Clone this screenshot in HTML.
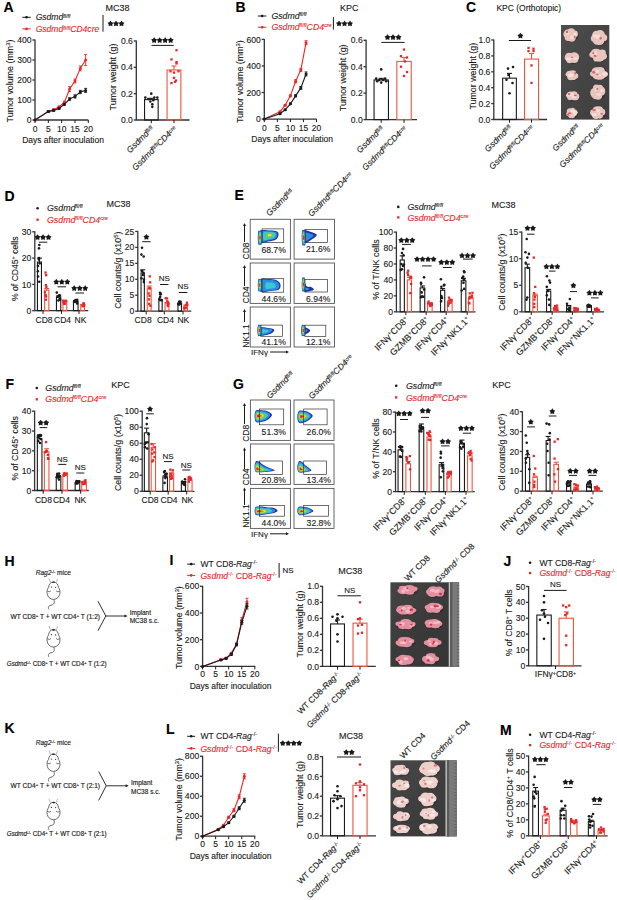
<!DOCTYPE html>
<html><head><meta charset="utf-8"><style>
html,body{margin:0;padding:0;background:#fff;width:617px;height:900px;overflow:hidden}
svg{display:block}
text{font-family:"Liberation Sans", sans-serif;stroke:currentColor;stroke-width:0.12px}
</style></head><body>
<svg width="617" height="900" viewBox="0 0 617 900">
<rect width="617" height="900" fill="#fff"/>
<text x="3.50" y="12.22" font-size="14" font-weight="bold" fill="#000">A</text>
<line x1="22.30" y1="17.30" x2="30.70" y2="17.30" stroke="#1a1a1a" stroke-width="1"/>
<circle cx="26.50" cy="17.30" r="1.3" fill="#1a1a1a"/>
<text transform="translate(35.70,20.38) scale(1,1.0)" x="0" y="0" font-size="8.55" text-anchor="start" fill="#1a1a1a" color="#1a1a1a" font-weight="normal" font-style="normal" ><tspan font-style="italic">Gsdmd</tspan><tspan font-size="64%" baseline-shift="44%"><tspan font-style="italic">fl/fl</tspan></tspan></text>
<line x1="22.30" y1="28.90" x2="30.70" y2="28.90" stroke="#e8262b" stroke-width="1"/>
<circle cx="26.50" cy="28.90" r="1.3" fill="#e8262b"/>
<text transform="translate(35.70,31.98) scale(1,1.0)" x="0" y="0" font-size="8.55" text-anchor="start" fill="#e8262b" color="#e8262b" font-weight="normal" font-style="normal" ><tspan font-style="italic">Gsdmd</tspan><tspan font-size="64%" baseline-shift="44%"><tspan font-style="italic">fl/fl</tspan></tspan><tspan font-style="italic">CD4cre</tspan></text>
<line x1="103.00" y1="15.00" x2="103.00" y2="31.70" stroke="#1a1a1a" stroke-width="1"/>
<polygon points="110.50,20.55 111.61,22.17 113.50,22.73 112.30,24.28 112.35,26.25 110.50,25.59 108.65,26.25 108.70,24.28 107.50,22.73 109.39,22.17" fill="#1a1a1a"/>
<polygon points="116.00,20.55 117.11,22.17 119.00,22.73 117.80,24.28 117.85,26.25 116.00,25.59 114.15,26.25 114.20,24.28 113.00,22.73 114.89,22.17" fill="#1a1a1a"/>
<polygon points="121.50,20.55 122.61,22.17 124.50,22.73 123.30,24.28 123.35,26.25 121.50,25.59 119.65,26.25 119.70,24.28 118.50,22.73 120.39,22.17" fill="#1a1a1a"/>
<text transform="translate(105.50,10.74) scale(1,1.0)" x="0" y="0" font-size="9" text-anchor="start" fill="#1a1a1a" color="#1a1a1a" font-weight="normal" font-style="normal" >MC38</text>
<line x1="35.00" y1="39.50" x2="35.00" y2="120.00" stroke="#333" stroke-width="1.3"/>
<line x1="34.50" y1="120.00" x2="88.30" y2="120.00" stroke="#333" stroke-width="1.3"/>
<line x1="32.40" y1="120.00" x2="35.00" y2="120.00" stroke="#333" stroke-width="1.3"/>
<text transform="translate(31.60,123.10) scale(1,1.0)" x="0" y="0" font-size="8.6" text-anchor="end" fill="#1a1a1a" color="#1a1a1a" font-weight="normal" font-style="normal" >0</text>
<line x1="32.40" y1="100.00" x2="35.00" y2="100.00" stroke="#333" stroke-width="1.3"/>
<text transform="translate(31.60,103.10) scale(1,1.0)" x="0" y="0" font-size="8.6" text-anchor="end" fill="#1a1a1a" color="#1a1a1a" font-weight="normal" font-style="normal" >100</text>
<line x1="32.40" y1="80.00" x2="35.00" y2="80.00" stroke="#333" stroke-width="1.3"/>
<text transform="translate(31.60,83.10) scale(1,1.0)" x="0" y="0" font-size="8.6" text-anchor="end" fill="#1a1a1a" color="#1a1a1a" font-weight="normal" font-style="normal" >200</text>
<line x1="32.40" y1="60.00" x2="35.00" y2="60.00" stroke="#333" stroke-width="1.3"/>
<text transform="translate(31.60,63.10) scale(1,1.0)" x="0" y="0" font-size="8.6" text-anchor="end" fill="#1a1a1a" color="#1a1a1a" font-weight="normal" font-style="normal" >300</text>
<line x1="32.40" y1="40.00" x2="35.00" y2="40.00" stroke="#333" stroke-width="1.3"/>
<text transform="translate(31.60,43.10) scale(1,1.0)" x="0" y="0" font-size="8.6" text-anchor="end" fill="#1a1a1a" color="#1a1a1a" font-weight="normal" font-style="normal" >400</text>
<line x1="35.00" y1="120.00" x2="35.00" y2="123.00" stroke="#1a1a1a" stroke-width="1"/>
<text transform="translate(35.00,132.06) scale(1,1.0)" x="0" y="0" font-size="8.5" text-anchor="middle" fill="#1a1a1a" color="#1a1a1a" font-weight="normal" font-style="normal" >0</text>
<line x1="48.33" y1="120.00" x2="48.33" y2="123.00" stroke="#1a1a1a" stroke-width="1"/>
<text transform="translate(48.33,132.06) scale(1,1.0)" x="0" y="0" font-size="8.5" text-anchor="middle" fill="#1a1a1a" color="#1a1a1a" font-weight="normal" font-style="normal" >5</text>
<line x1="61.65" y1="120.00" x2="61.65" y2="123.00" stroke="#1a1a1a" stroke-width="1"/>
<text transform="translate(61.65,132.06) scale(1,1.0)" x="0" y="0" font-size="8.5" text-anchor="middle" fill="#1a1a1a" color="#1a1a1a" font-weight="normal" font-style="normal" >10</text>
<line x1="74.97" y1="120.00" x2="74.97" y2="123.00" stroke="#1a1a1a" stroke-width="1"/>
<text transform="translate(74.97,132.06) scale(1,1.0)" x="0" y="0" font-size="8.5" text-anchor="middle" fill="#1a1a1a" color="#1a1a1a" font-weight="normal" font-style="normal" >15</text>
<line x1="88.30" y1="120.00" x2="88.30" y2="123.00" stroke="#1a1a1a" stroke-width="1"/>
<text transform="translate(88.30,132.06) scale(1,1.0)" x="0" y="0" font-size="8.5" text-anchor="middle" fill="#1a1a1a" color="#1a1a1a" font-weight="normal" font-style="normal" >20</text>
<text transform="translate(63.00,142.56) scale(1,1.0)" x="0" y="0" font-size="8.5" text-anchor="middle" fill="#1a1a1a" color="#1a1a1a" font-weight="normal" font-style="normal" >Days after inoculation</text>
<text transform="translate(9.60,81.00) rotate(-90) scale(1,1.0)" x="0" y="3.20" font-size="8.9" text-anchor="middle" fill="#1a1a1a" color="#1a1a1a" font-style="normal">Tumor volume (mm<tspan font-size="64%" baseline-shift="44%">3</tspan>)</text>
<polyline points="35.00,120.00 48.33,111.40 53.66,109.60 58.98,107.00 64.31,102.40 69.64,89.00 74.97,81.00 80.30,68.40 85.63,60.00" fill="none" stroke="#e8262b" stroke-width="1.1"/>
<circle cx="35.00" cy="120.00" r="1.5" fill="#e8262b"/>
<line x1="48.33" y1="110.80" x2="48.33" y2="112.00" stroke="#e8262b" stroke-width="0.9"/>
<line x1="46.83" y1="110.80" x2="49.83" y2="110.80" stroke="#e8262b" stroke-width="0.9"/>
<line x1="46.83" y1="112.00" x2="49.83" y2="112.00" stroke="#e8262b" stroke-width="0.9"/>
<circle cx="48.33" cy="111.40" r="1.5" fill="#e8262b"/>
<line x1="53.66" y1="108.80" x2="53.66" y2="110.40" stroke="#e8262b" stroke-width="0.9"/>
<line x1="52.16" y1="108.80" x2="55.16" y2="108.80" stroke="#e8262b" stroke-width="0.9"/>
<line x1="52.16" y1="110.40" x2="55.16" y2="110.40" stroke="#e8262b" stroke-width="0.9"/>
<circle cx="53.66" cy="109.60" r="1.5" fill="#e8262b"/>
<line x1="58.98" y1="106.00" x2="58.98" y2="108.00" stroke="#e8262b" stroke-width="0.9"/>
<line x1="57.48" y1="106.00" x2="60.48" y2="106.00" stroke="#e8262b" stroke-width="0.9"/>
<line x1="57.48" y1="108.00" x2="60.48" y2="108.00" stroke="#e8262b" stroke-width="0.9"/>
<circle cx="58.98" cy="107.00" r="1.5" fill="#e8262b"/>
<line x1="64.31" y1="101.20" x2="64.31" y2="103.60" stroke="#e8262b" stroke-width="0.9"/>
<line x1="62.81" y1="101.20" x2="65.81" y2="101.20" stroke="#e8262b" stroke-width="0.9"/>
<line x1="62.81" y1="103.60" x2="65.81" y2="103.60" stroke="#e8262b" stroke-width="0.9"/>
<circle cx="64.31" cy="102.40" r="1.5" fill="#e8262b"/>
<line x1="69.64" y1="86.60" x2="69.64" y2="91.40" stroke="#e8262b" stroke-width="0.9"/>
<line x1="68.14" y1="86.60" x2="71.14" y2="86.60" stroke="#e8262b" stroke-width="0.9"/>
<line x1="68.14" y1="91.40" x2="71.14" y2="91.40" stroke="#e8262b" stroke-width="0.9"/>
<circle cx="69.64" cy="89.00" r="1.5" fill="#e8262b"/>
<line x1="74.97" y1="79.00" x2="74.97" y2="83.00" stroke="#e8262b" stroke-width="0.9"/>
<line x1="73.47" y1="79.00" x2="76.47" y2="79.00" stroke="#e8262b" stroke-width="0.9"/>
<line x1="73.47" y1="83.00" x2="76.47" y2="83.00" stroke="#e8262b" stroke-width="0.9"/>
<circle cx="74.97" cy="81.00" r="1.5" fill="#e8262b"/>
<line x1="80.30" y1="66.00" x2="80.30" y2="70.80" stroke="#e8262b" stroke-width="0.9"/>
<line x1="78.80" y1="66.00" x2="81.80" y2="66.00" stroke="#e8262b" stroke-width="0.9"/>
<line x1="78.80" y1="70.80" x2="81.80" y2="70.80" stroke="#e8262b" stroke-width="0.9"/>
<circle cx="80.30" cy="68.40" r="1.5" fill="#e8262b"/>
<line x1="85.63" y1="54.40" x2="85.63" y2="65.60" stroke="#e8262b" stroke-width="0.9"/>
<line x1="84.13" y1="54.40" x2="87.13" y2="54.40" stroke="#e8262b" stroke-width="0.9"/>
<line x1="84.13" y1="65.60" x2="87.13" y2="65.60" stroke="#e8262b" stroke-width="0.9"/>
<circle cx="85.63" cy="60.00" r="1.5" fill="#e8262b"/>
<polyline points="35.00,120.00 48.33,111.60 53.66,110.40 58.98,108.40 64.31,104.40 69.64,99.00 74.97,96.40 80.30,92.00 85.63,90.40" fill="none" stroke="#1a1a1a" stroke-width="1.1"/>
<circle cx="35.00" cy="120.00" r="1.5" fill="#1a1a1a"/>
<line x1="48.33" y1="111.00" x2="48.33" y2="112.20" stroke="#1a1a1a" stroke-width="0.9"/>
<line x1="46.83" y1="111.00" x2="49.83" y2="111.00" stroke="#1a1a1a" stroke-width="0.9"/>
<line x1="46.83" y1="112.20" x2="49.83" y2="112.20" stroke="#1a1a1a" stroke-width="0.9"/>
<circle cx="48.33" cy="111.60" r="1.5" fill="#1a1a1a"/>
<line x1="53.66" y1="109.80" x2="53.66" y2="111.00" stroke="#1a1a1a" stroke-width="0.9"/>
<line x1="52.16" y1="109.80" x2="55.16" y2="109.80" stroke="#1a1a1a" stroke-width="0.9"/>
<line x1="52.16" y1="111.00" x2="55.16" y2="111.00" stroke="#1a1a1a" stroke-width="0.9"/>
<circle cx="53.66" cy="110.40" r="1.5" fill="#1a1a1a"/>
<line x1="58.98" y1="107.60" x2="58.98" y2="109.20" stroke="#1a1a1a" stroke-width="0.9"/>
<line x1="57.48" y1="107.60" x2="60.48" y2="107.60" stroke="#1a1a1a" stroke-width="0.9"/>
<line x1="57.48" y1="109.20" x2="60.48" y2="109.20" stroke="#1a1a1a" stroke-width="0.9"/>
<circle cx="58.98" cy="108.40" r="1.5" fill="#1a1a1a"/>
<line x1="64.31" y1="103.60" x2="64.31" y2="105.20" stroke="#1a1a1a" stroke-width="0.9"/>
<line x1="62.81" y1="103.60" x2="65.81" y2="103.60" stroke="#1a1a1a" stroke-width="0.9"/>
<line x1="62.81" y1="105.20" x2="65.81" y2="105.20" stroke="#1a1a1a" stroke-width="0.9"/>
<circle cx="64.31" cy="104.40" r="1.5" fill="#1a1a1a"/>
<line x1="69.64" y1="97.80" x2="69.64" y2="100.20" stroke="#1a1a1a" stroke-width="0.9"/>
<line x1="68.14" y1="97.80" x2="71.14" y2="97.80" stroke="#1a1a1a" stroke-width="0.9"/>
<line x1="68.14" y1="100.20" x2="71.14" y2="100.20" stroke="#1a1a1a" stroke-width="0.9"/>
<circle cx="69.64" cy="99.00" r="1.5" fill="#1a1a1a"/>
<line x1="74.97" y1="94.80" x2="74.97" y2="98.00" stroke="#1a1a1a" stroke-width="0.9"/>
<line x1="73.47" y1="94.80" x2="76.47" y2="94.80" stroke="#1a1a1a" stroke-width="0.9"/>
<line x1="73.47" y1="98.00" x2="76.47" y2="98.00" stroke="#1a1a1a" stroke-width="0.9"/>
<circle cx="74.97" cy="96.40" r="1.5" fill="#1a1a1a"/>
<line x1="80.30" y1="90.40" x2="80.30" y2="93.60" stroke="#1a1a1a" stroke-width="0.9"/>
<line x1="78.80" y1="90.40" x2="81.80" y2="90.40" stroke="#1a1a1a" stroke-width="0.9"/>
<line x1="78.80" y1="93.60" x2="81.80" y2="93.60" stroke="#1a1a1a" stroke-width="0.9"/>
<circle cx="80.30" cy="92.00" r="1.5" fill="#1a1a1a"/>
<line x1="85.63" y1="88.40" x2="85.63" y2="92.40" stroke="#1a1a1a" stroke-width="0.9"/>
<line x1="84.13" y1="88.40" x2="87.13" y2="88.40" stroke="#1a1a1a" stroke-width="0.9"/>
<line x1="84.13" y1="92.40" x2="87.13" y2="92.40" stroke="#1a1a1a" stroke-width="0.9"/>
<circle cx="85.63" cy="90.40" r="1.5" fill="#1a1a1a"/>
<line x1="136.30" y1="40.50" x2="136.30" y2="120.00" stroke="#333" stroke-width="1.3"/>
<line x1="135.80" y1="120.00" x2="189.60" y2="120.00" stroke="#333" stroke-width="1.3"/>
<line x1="133.70" y1="120.00" x2="136.30" y2="120.00" stroke="#333" stroke-width="1.3"/>
<text transform="translate(132.90,123.10) scale(1,1.0)" x="0" y="0" font-size="8.6" text-anchor="end" fill="#1a1a1a" color="#1a1a1a" font-weight="normal" font-style="normal" >0.0</text>
<line x1="133.70" y1="93.67" x2="136.30" y2="93.67" stroke="#333" stroke-width="1.3"/>
<text transform="translate(132.90,96.76) scale(1,1.0)" x="0" y="0" font-size="8.6" text-anchor="end" fill="#1a1a1a" color="#1a1a1a" font-weight="normal" font-style="normal" >0.2</text>
<line x1="133.70" y1="67.33" x2="136.30" y2="67.33" stroke="#333" stroke-width="1.3"/>
<text transform="translate(132.90,70.43) scale(1,1.0)" x="0" y="0" font-size="8.6" text-anchor="end" fill="#1a1a1a" color="#1a1a1a" font-weight="normal" font-style="normal" >0.4</text>
<line x1="133.70" y1="41.00" x2="136.30" y2="41.00" stroke="#333" stroke-width="1.3"/>
<text transform="translate(132.90,44.10) scale(1,1.0)" x="0" y="0" font-size="8.6" text-anchor="end" fill="#1a1a1a" color="#1a1a1a" font-weight="normal" font-style="normal" >0.6</text>
<rect x="144.55" y="99.59" width="13.60" height="20.41" fill="none" stroke="#1a1a1a" stroke-width="1.1"/>
<line x1="151.35" y1="99.59" x2="151.35" y2="98.28" stroke="#1a1a1a" stroke-width="1.1"/>
<line x1="148.85" y1="98.28" x2="153.85" y2="98.28" stroke="#1a1a1a" stroke-width="1.1"/>
<circle cx="151.30" cy="93.67" r="1.3" fill="#1a1a1a"/>
<circle cx="145.30" cy="97.62" r="1.3" fill="#1a1a1a"/>
<circle cx="157.30" cy="97.62" r="1.3" fill="#1a1a1a"/>
<circle cx="148.30" cy="98.93" r="1.3" fill="#1a1a1a"/>
<circle cx="153.30" cy="100.25" r="1.3" fill="#1a1a1a"/>
<circle cx="150.30" cy="101.57" r="1.3" fill="#1a1a1a"/>
<circle cx="152.30" cy="104.20" r="1.3" fill="#1a1a1a"/>
<circle cx="152.30" cy="106.83" r="1.3" fill="#1a1a1a"/>
<circle cx="154.30" cy="97.62" r="1.3" fill="#1a1a1a"/>
<rect x="167.05" y="69.97" width="13.80" height="50.03" fill="none" stroke="#f0553c" stroke-width="1.1"/>
<line x1="173.95" y1="69.97" x2="173.95" y2="66.02" stroke="#f0553c" stroke-width="1.1"/>
<line x1="171.45" y1="66.02" x2="176.45" y2="66.02" stroke="#f0553c" stroke-width="1.1"/>
<rect x="175.35" y="49.07" width="2.3" height="2.3" fill="#e8262b"/>
<rect x="170.35" y="58.28" width="2.3" height="2.3" fill="#e8262b"/>
<rect x="175.35" y="60.92" width="2.3" height="2.3" fill="#e8262b"/>
<rect x="175.35" y="62.23" width="2.3" height="2.3" fill="#e8262b"/>
<rect x="169.35" y="70.13" width="2.3" height="2.3" fill="#e8262b"/>
<rect x="172.85" y="71.45" width="2.3" height="2.3" fill="#e8262b"/>
<rect x="177.35" y="70.13" width="2.3" height="2.3" fill="#e8262b"/>
<rect x="172.85" y="76.72" width="2.3" height="2.3" fill="#e8262b"/>
<rect x="174.85" y="79.35" width="2.3" height="2.3" fill="#e8262b"/>
<rect x="170.35" y="81.98" width="2.3" height="2.3" fill="#e8262b"/>
<rect x="173.85" y="80.67" width="2.3" height="2.3" fill="#e8262b"/>
<line x1="151.30" y1="120.00" x2="151.30" y2="123.20" stroke="#1a1a1a" stroke-width="1"/>
<line x1="174.00" y1="120.00" x2="174.00" y2="123.20" stroke="#1a1a1a" stroke-width="1"/>
<polygon points="154.15,37.25 155.26,38.87 157.15,39.43 155.95,40.98 156.00,42.95 154.15,42.29 152.30,42.95 152.35,40.98 151.15,39.43 153.04,38.87" fill="#1a1a1a"/>
<polygon points="159.65,37.25 160.76,38.87 162.65,39.43 161.45,40.98 161.50,42.95 159.65,42.29 157.80,42.95 157.85,40.98 156.65,39.43 158.54,38.87" fill="#1a1a1a"/>
<polygon points="165.15,37.25 166.26,38.87 168.15,39.43 166.95,40.98 167.00,42.95 165.15,42.29 163.30,42.95 163.35,40.98 162.15,39.43 164.04,38.87" fill="#1a1a1a"/>
<polygon points="170.65,37.25 171.76,38.87 173.65,39.43 172.45,40.98 172.50,42.95 170.65,42.29 168.80,42.95 168.85,40.98 167.65,39.43 169.54,38.87" fill="#1a1a1a"/>
<line x1="151.50" y1="45.40" x2="173.70" y2="45.40" stroke="#1a1a1a" stroke-width="1"/>
<text transform="translate(113.10,77.00) rotate(-90) scale(1,1.0)" x="0" y="3.20" font-size="8.9" text-anchor="middle" fill="#1a1a1a" color="#1a1a1a" font-style="normal">Tumor weight (g)</text>
<text transform="translate(154.30,129.20) rotate(-45) scale(1,1.0)" x="0" y="0" font-size="8.5" text-anchor="end" fill="#1a1a1a" color="#1a1a1a"><tspan font-style="italic">Gsdmd</tspan><tspan font-size="64%" baseline-shift="44%"><tspan font-style="italic">fl/fl</tspan></tspan></text>
<text transform="translate(177.30,129.20) rotate(-45) scale(1,1.0)" x="0" y="0" font-size="8.5" text-anchor="end" fill="#1a1a1a" color="#1a1a1a"><tspan font-style="italic">Gsdmd</tspan><tspan font-size="64%" baseline-shift="44%"><tspan font-style="italic">fl/fl</tspan></tspan><tspan font-style="italic">CD4</tspan><tspan font-size="64%" baseline-shift="44%"><tspan font-style="italic">cre</tspan></tspan></text>
<text x="235.50" y="11.72" font-size="14" font-weight="bold" fill="#000">B</text>
<line x1="257.90" y1="16.00" x2="266.40" y2="16.00" stroke="#1a1a1a" stroke-width="1"/>
<circle cx="262.15" cy="16.00" r="1.3" fill="#1a1a1a"/>
<text transform="translate(271.50,19.13) scale(1,1.0)" x="0" y="0" font-size="8.7" text-anchor="start" fill="#1a1a1a" color="#1a1a1a" font-weight="normal" font-style="normal" ><tspan font-style="italic">Gsdmd</tspan><tspan font-size="64%" baseline-shift="44%"><tspan font-style="italic">fl/fl</tspan></tspan></text>
<line x1="257.90" y1="27.20" x2="266.40" y2="27.20" stroke="#e8262b" stroke-width="1"/>
<circle cx="262.15" cy="27.20" r="1.3" fill="#e8262b"/>
<text transform="translate(271.50,30.33) scale(1,1.0)" x="0" y="0" font-size="8.7" text-anchor="start" fill="#e8262b" color="#e8262b" font-weight="normal" font-style="normal" ><tspan font-style="italic">Gsdmd</tspan><tspan font-size="64%" baseline-shift="44%"><tspan font-style="italic">fl/fl</tspan></tspan><tspan font-style="italic">CD4</tspan><tspan font-size="64%" baseline-shift="44%"><tspan font-style="italic">cre</tspan></tspan></text>
<line x1="333.40" y1="17.10" x2="333.40" y2="29.60" stroke="#1a1a1a" stroke-width="1"/>
<polygon points="339.00,20.55 340.11,22.17 342.00,22.73 340.80,24.28 340.85,26.25 339.00,25.59 337.15,26.25 337.20,24.28 336.00,22.73 337.89,22.17" fill="#1a1a1a"/>
<polygon points="344.50,20.55 345.61,22.17 347.50,22.73 346.30,24.28 346.35,26.25 344.50,25.59 342.65,26.25 342.70,24.28 341.50,22.73 343.39,22.17" fill="#1a1a1a"/>
<polygon points="350.00,20.55 351.11,22.17 353.00,22.73 351.80,24.28 351.85,26.25 350.00,25.59 348.15,26.25 348.20,24.28 347.00,22.73 348.89,22.17" fill="#1a1a1a"/>
<text transform="translate(339.90,11.44) scale(1,1.0)" x="0" y="0" font-size="9" text-anchor="start" fill="#1a1a1a" color="#1a1a1a" font-weight="normal" font-style="normal" >KPC</text>
<line x1="264.30" y1="38.90" x2="264.30" y2="119.10" stroke="#333" stroke-width="1.3"/>
<line x1="263.80" y1="119.10" x2="316.50" y2="119.10" stroke="#333" stroke-width="1.3"/>
<line x1="261.70" y1="119.10" x2="264.30" y2="119.10" stroke="#333" stroke-width="1.3"/>
<text transform="translate(260.90,122.20) scale(1,1.0)" x="0" y="0" font-size="8.6" text-anchor="end" fill="#1a1a1a" color="#1a1a1a" font-weight="normal" font-style="normal" >0</text>
<line x1="261.70" y1="92.53" x2="264.30" y2="92.53" stroke="#333" stroke-width="1.3"/>
<text transform="translate(260.90,95.63) scale(1,1.0)" x="0" y="0" font-size="8.6" text-anchor="end" fill="#1a1a1a" color="#1a1a1a" font-weight="normal" font-style="normal" >200</text>
<line x1="261.70" y1="65.97" x2="264.30" y2="65.97" stroke="#333" stroke-width="1.3"/>
<text transform="translate(260.90,69.06) scale(1,1.0)" x="0" y="0" font-size="8.6" text-anchor="end" fill="#1a1a1a" color="#1a1a1a" font-weight="normal" font-style="normal" >400</text>
<line x1="261.70" y1="39.40" x2="264.30" y2="39.40" stroke="#333" stroke-width="1.3"/>
<text transform="translate(260.90,42.50) scale(1,1.0)" x="0" y="0" font-size="8.6" text-anchor="end" fill="#1a1a1a" color="#1a1a1a" font-weight="normal" font-style="normal" >600</text>
<line x1="264.30" y1="119.10" x2="264.30" y2="122.10" stroke="#1a1a1a" stroke-width="1"/>
<text transform="translate(264.30,131.06) scale(1,1.0)" x="0" y="0" font-size="8.5" text-anchor="middle" fill="#1a1a1a" color="#1a1a1a" font-weight="normal" font-style="normal" >0</text>
<line x1="277.35" y1="119.10" x2="277.35" y2="122.10" stroke="#1a1a1a" stroke-width="1"/>
<text transform="translate(277.35,131.06) scale(1,1.0)" x="0" y="0" font-size="8.5" text-anchor="middle" fill="#1a1a1a" color="#1a1a1a" font-weight="normal" font-style="normal" >5</text>
<line x1="290.40" y1="119.10" x2="290.40" y2="122.10" stroke="#1a1a1a" stroke-width="1"/>
<text transform="translate(290.40,131.06) scale(1,1.0)" x="0" y="0" font-size="8.5" text-anchor="middle" fill="#1a1a1a" color="#1a1a1a" font-weight="normal" font-style="normal" >10</text>
<line x1="303.45" y1="119.10" x2="303.45" y2="122.10" stroke="#1a1a1a" stroke-width="1"/>
<text transform="translate(303.45,131.06) scale(1,1.0)" x="0" y="0" font-size="8.5" text-anchor="middle" fill="#1a1a1a" color="#1a1a1a" font-weight="normal" font-style="normal" >15</text>
<line x1="316.50" y1="119.10" x2="316.50" y2="122.10" stroke="#1a1a1a" stroke-width="1"/>
<text transform="translate(316.50,131.06) scale(1,1.0)" x="0" y="0" font-size="8.5" text-anchor="middle" fill="#1a1a1a" color="#1a1a1a" font-weight="normal" font-style="normal" >20</text>
<text transform="translate(292.20,142.46) scale(1,1.0)" x="0" y="0" font-size="8.5" text-anchor="middle" fill="#1a1a1a" color="#1a1a1a" font-weight="normal" font-style="normal" >Days after inoculation</text>
<text transform="translate(239.90,81.70) rotate(-90) scale(1,1.0)" x="0" y="3.20" font-size="8.9" text-anchor="middle" fill="#1a1a1a" color="#1a1a1a" font-style="normal">Tumor volume (mm<tspan font-size="64%" baseline-shift="44%">3</tspan>)</text>
<polyline points="264.30,119.10 279.96,111.79 285.18,105.15 290.40,95.85 295.62,81.24 300.84,69.95 306.06,42.72" fill="none" stroke="#e8262b" stroke-width="1.1"/>
<circle cx="264.30" cy="119.10" r="1.5" fill="#e8262b"/>
<line x1="279.96" y1="111.13" x2="279.96" y2="112.46" stroke="#e8262b" stroke-width="0.9"/>
<line x1="278.46" y1="111.13" x2="281.46" y2="111.13" stroke="#e8262b" stroke-width="0.9"/>
<line x1="278.46" y1="112.46" x2="281.46" y2="112.46" stroke="#e8262b" stroke-width="0.9"/>
<circle cx="279.96" cy="111.79" r="1.5" fill="#e8262b"/>
<line x1="285.18" y1="104.36" x2="285.18" y2="105.95" stroke="#e8262b" stroke-width="0.9"/>
<line x1="283.68" y1="104.36" x2="286.68" y2="104.36" stroke="#e8262b" stroke-width="0.9"/>
<line x1="283.68" y1="105.95" x2="286.68" y2="105.95" stroke="#e8262b" stroke-width="0.9"/>
<circle cx="285.18" cy="105.15" r="1.5" fill="#e8262b"/>
<line x1="290.40" y1="94.79" x2="290.40" y2="96.92" stroke="#e8262b" stroke-width="0.9"/>
<line x1="288.90" y1="94.79" x2="291.90" y2="94.79" stroke="#e8262b" stroke-width="0.9"/>
<line x1="288.90" y1="96.92" x2="291.90" y2="96.92" stroke="#e8262b" stroke-width="0.9"/>
<circle cx="290.40" cy="95.85" r="1.5" fill="#e8262b"/>
<line x1="295.62" y1="79.65" x2="295.62" y2="82.84" stroke="#e8262b" stroke-width="0.9"/>
<line x1="294.12" y1="79.65" x2="297.12" y2="79.65" stroke="#e8262b" stroke-width="0.9"/>
<line x1="294.12" y1="82.84" x2="297.12" y2="82.84" stroke="#e8262b" stroke-width="0.9"/>
<circle cx="295.62" cy="81.24" r="1.5" fill="#e8262b"/>
<line x1="300.84" y1="68.36" x2="300.84" y2="71.55" stroke="#e8262b" stroke-width="0.9"/>
<line x1="299.34" y1="68.36" x2="302.34" y2="68.36" stroke="#e8262b" stroke-width="0.9"/>
<line x1="299.34" y1="71.55" x2="302.34" y2="71.55" stroke="#e8262b" stroke-width="0.9"/>
<circle cx="300.84" cy="69.95" r="1.5" fill="#e8262b"/>
<line x1="306.06" y1="40.73" x2="306.06" y2="44.71" stroke="#e8262b" stroke-width="0.9"/>
<line x1="304.56" y1="40.73" x2="307.56" y2="40.73" stroke="#e8262b" stroke-width="0.9"/>
<line x1="304.56" y1="44.71" x2="307.56" y2="44.71" stroke="#e8262b" stroke-width="0.9"/>
<circle cx="306.06" cy="42.72" r="1.5" fill="#e8262b"/>
<polyline points="264.30,119.10 279.96,113.79 285.18,109.80 290.40,103.82 295.62,95.85 300.84,87.88 306.06,73.94" fill="none" stroke="#1a1a1a" stroke-width="1.1"/>
<circle cx="264.30" cy="119.10" r="1.5" fill="#1a1a1a"/>
<line x1="279.96" y1="113.26" x2="279.96" y2="114.32" stroke="#1a1a1a" stroke-width="0.9"/>
<line x1="278.46" y1="113.26" x2="281.46" y2="113.26" stroke="#1a1a1a" stroke-width="0.9"/>
<line x1="278.46" y1="114.32" x2="281.46" y2="114.32" stroke="#1a1a1a" stroke-width="0.9"/>
<circle cx="279.96" cy="113.79" r="1.5" fill="#1a1a1a"/>
<line x1="285.18" y1="109.14" x2="285.18" y2="110.47" stroke="#1a1a1a" stroke-width="0.9"/>
<line x1="283.68" y1="109.14" x2="286.68" y2="109.14" stroke="#1a1a1a" stroke-width="0.9"/>
<line x1="283.68" y1="110.47" x2="286.68" y2="110.47" stroke="#1a1a1a" stroke-width="0.9"/>
<circle cx="285.18" cy="109.80" r="1.5" fill="#1a1a1a"/>
<line x1="290.40" y1="103.03" x2="290.40" y2="104.62" stroke="#1a1a1a" stroke-width="0.9"/>
<line x1="288.90" y1="103.03" x2="291.90" y2="103.03" stroke="#1a1a1a" stroke-width="0.9"/>
<line x1="288.90" y1="104.62" x2="291.90" y2="104.62" stroke="#1a1a1a" stroke-width="0.9"/>
<circle cx="290.40" cy="103.82" r="1.5" fill="#1a1a1a"/>
<line x1="295.62" y1="94.79" x2="295.62" y2="96.92" stroke="#1a1a1a" stroke-width="0.9"/>
<line x1="294.12" y1="94.79" x2="297.12" y2="94.79" stroke="#1a1a1a" stroke-width="0.9"/>
<line x1="294.12" y1="96.92" x2="297.12" y2="96.92" stroke="#1a1a1a" stroke-width="0.9"/>
<circle cx="295.62" cy="95.85" r="1.5" fill="#1a1a1a"/>
<line x1="300.84" y1="86.56" x2="300.84" y2="89.21" stroke="#1a1a1a" stroke-width="0.9"/>
<line x1="299.34" y1="86.56" x2="302.34" y2="86.56" stroke="#1a1a1a" stroke-width="0.9"/>
<line x1="299.34" y1="89.21" x2="302.34" y2="89.21" stroke="#1a1a1a" stroke-width="0.9"/>
<circle cx="300.84" cy="87.88" r="1.5" fill="#1a1a1a"/>
<line x1="306.06" y1="71.94" x2="306.06" y2="75.93" stroke="#1a1a1a" stroke-width="0.9"/>
<line x1="304.56" y1="71.94" x2="307.56" y2="71.94" stroke="#1a1a1a" stroke-width="0.9"/>
<line x1="304.56" y1="75.93" x2="307.56" y2="75.93" stroke="#1a1a1a" stroke-width="0.9"/>
<circle cx="306.06" cy="73.94" r="1.5" fill="#1a1a1a"/>
<line x1="366.10" y1="39.80" x2="366.10" y2="119.60" stroke="#333" stroke-width="1.3"/>
<line x1="365.60" y1="119.60" x2="417.00" y2="119.60" stroke="#333" stroke-width="1.3"/>
<line x1="363.50" y1="119.60" x2="366.10" y2="119.60" stroke="#333" stroke-width="1.3"/>
<text transform="translate(362.70,122.70) scale(1,1.0)" x="0" y="0" font-size="8.6" text-anchor="end" fill="#1a1a1a" color="#1a1a1a" font-weight="normal" font-style="normal" >0.0</text>
<line x1="363.50" y1="93.17" x2="366.10" y2="93.17" stroke="#333" stroke-width="1.3"/>
<text transform="translate(362.70,96.26) scale(1,1.0)" x="0" y="0" font-size="8.6" text-anchor="end" fill="#1a1a1a" color="#1a1a1a" font-weight="normal" font-style="normal" >0.2</text>
<line x1="363.50" y1="66.73" x2="366.10" y2="66.73" stroke="#333" stroke-width="1.3"/>
<text transform="translate(362.70,69.83) scale(1,1.0)" x="0" y="0" font-size="8.6" text-anchor="end" fill="#1a1a1a" color="#1a1a1a" font-weight="normal" font-style="normal" >0.4</text>
<line x1="363.50" y1="40.30" x2="366.10" y2="40.30" stroke="#333" stroke-width="1.3"/>
<text transform="translate(362.70,43.40) scale(1,1.0)" x="0" y="0" font-size="8.6" text-anchor="end" fill="#1a1a1a" color="#1a1a1a" font-weight="normal" font-style="normal" >0.6</text>
<rect x="374.05" y="79.95" width="14.40" height="39.65" fill="none" stroke="#1a1a1a" stroke-width="1.1"/>
<line x1="381.25" y1="79.95" x2="381.25" y2="78.36" stroke="#1a1a1a" stroke-width="1.1"/>
<line x1="378.75" y1="78.36" x2="383.75" y2="78.36" stroke="#1a1a1a" stroke-width="1.1"/>
<circle cx="381.20" cy="69.38" r="1.3" fill="#1a1a1a"/>
<circle cx="376.20" cy="78.63" r="1.3" fill="#1a1a1a"/>
<circle cx="385.20" cy="78.63" r="1.3" fill="#1a1a1a"/>
<circle cx="379.20" cy="79.95" r="1.3" fill="#1a1a1a"/>
<circle cx="383.20" cy="79.95" r="1.3" fill="#1a1a1a"/>
<circle cx="377.20" cy="81.27" r="1.3" fill="#1a1a1a"/>
<circle cx="386.20" cy="81.27" r="1.3" fill="#1a1a1a"/>
<circle cx="381.20" cy="82.59" r="1.3" fill="#1a1a1a"/>
<rect x="396.85" y="61.45" width="14.40" height="58.15" fill="none" stroke="#f0553c" stroke-width="1.1"/>
<line x1="404.05" y1="61.45" x2="404.05" y2="57.48" stroke="#f0553c" stroke-width="1.1"/>
<line x1="401.55" y1="57.48" x2="406.55" y2="57.48" stroke="#f0553c" stroke-width="1.1"/>
<rect x="402.85" y="48.40" width="2.3" height="2.3" fill="#e8262b"/>
<rect x="399.85" y="55.01" width="2.3" height="2.3" fill="#e8262b"/>
<rect x="405.85" y="56.33" width="2.3" height="2.3" fill="#e8262b"/>
<rect x="403.85" y="60.30" width="2.3" height="2.3" fill="#e8262b"/>
<rect x="399.85" y="65.58" width="2.3" height="2.3" fill="#e8262b"/>
<rect x="405.85" y="70.87" width="2.3" height="2.3" fill="#e8262b"/>
<rect x="402.85" y="74.83" width="2.3" height="2.3" fill="#e8262b"/>
<line x1="381.20" y1="119.60" x2="381.20" y2="122.80" stroke="#1a1a1a" stroke-width="1"/>
<line x1="404.00" y1="119.60" x2="404.00" y2="122.80" stroke="#1a1a1a" stroke-width="1"/>
<polygon points="387.50,34.25 388.61,35.87 390.50,36.43 389.30,37.98 389.35,39.95 387.50,39.29 385.65,39.95 385.70,37.98 384.50,36.43 386.39,35.87" fill="#1a1a1a"/>
<polygon points="393.00,34.25 394.11,35.87 396.00,36.43 394.80,37.98 394.85,39.95 393.00,39.29 391.15,39.95 391.20,37.98 390.00,36.43 391.89,35.87" fill="#1a1a1a"/>
<polygon points="398.50,34.25 399.61,35.87 401.50,36.43 400.30,37.98 400.35,39.95 398.50,39.29 396.65,39.95 396.70,37.98 395.50,36.43 397.39,35.87" fill="#1a1a1a"/>
<line x1="381.30" y1="42.40" x2="404.60" y2="42.40" stroke="#1a1a1a" stroke-width="1"/>
<text transform="translate(342.30,77.80) rotate(-90) scale(1,1.0)" x="0" y="3.20" font-size="8.9" text-anchor="middle" fill="#1a1a1a" color="#1a1a1a" font-style="normal">Tumor weight (g)</text>
<text transform="translate(384.30,129.20) rotate(-45) scale(1,1.0)" x="0" y="0" font-size="8.5" text-anchor="end" fill="#1a1a1a" color="#1a1a1a"><tspan font-style="italic">Gsdmd</tspan><tspan font-size="64%" baseline-shift="44%"><tspan font-style="italic">fl/fl</tspan></tspan></text>
<text transform="translate(407.30,129.20) rotate(-45) scale(1,1.0)" x="0" y="0" font-size="8.5" text-anchor="end" fill="#1a1a1a" color="#1a1a1a"><tspan font-style="italic">Gsdmd</tspan><tspan font-size="64%" baseline-shift="44%"><tspan font-style="italic">fl/fl</tspan></tspan><tspan font-style="italic">CD4</tspan><tspan font-size="64%" baseline-shift="44%"><tspan font-style="italic">cre</tspan></tspan></text>
<text x="466.00" y="12.22" font-size="14" font-weight="bold" fill="#000">C</text>
<text transform="translate(496.40,11.06) scale(1,1.0)" x="0" y="0" font-size="8.5" text-anchor="start" fill="#1a1a1a" color="#1a1a1a" font-weight="normal" font-style="normal" >KPC (Orthotopic)</text>
<line x1="493.80" y1="39.50" x2="493.80" y2="119.50" stroke="#333" stroke-width="1.3"/>
<line x1="493.30" y1="119.50" x2="547.10" y2="119.50" stroke="#333" stroke-width="1.3"/>
<line x1="491.20" y1="119.50" x2="493.80" y2="119.50" stroke="#333" stroke-width="1.3"/>
<text transform="translate(490.40,122.60) scale(1,1.0)" x="0" y="0" font-size="8.6" text-anchor="end" fill="#1a1a1a" color="#1a1a1a" font-weight="normal" font-style="normal" >0.0</text>
<line x1="491.20" y1="103.60" x2="493.80" y2="103.60" stroke="#333" stroke-width="1.3"/>
<text transform="translate(490.40,106.70) scale(1,1.0)" x="0" y="0" font-size="8.6" text-anchor="end" fill="#1a1a1a" color="#1a1a1a" font-weight="normal" font-style="normal" >0.2</text>
<line x1="491.20" y1="87.70" x2="493.80" y2="87.70" stroke="#333" stroke-width="1.3"/>
<text transform="translate(490.40,90.80) scale(1,1.0)" x="0" y="0" font-size="8.6" text-anchor="end" fill="#1a1a1a" color="#1a1a1a" font-weight="normal" font-style="normal" >0.4</text>
<line x1="491.20" y1="71.80" x2="493.80" y2="71.80" stroke="#333" stroke-width="1.3"/>
<text transform="translate(490.40,74.90) scale(1,1.0)" x="0" y="0" font-size="8.6" text-anchor="end" fill="#1a1a1a" color="#1a1a1a" font-weight="normal" font-style="normal" >0.6</text>
<line x1="491.20" y1="55.90" x2="493.80" y2="55.90" stroke="#333" stroke-width="1.3"/>
<text transform="translate(490.40,59.00) scale(1,1.0)" x="0" y="0" font-size="8.6" text-anchor="end" fill="#1a1a1a" color="#1a1a1a" font-weight="normal" font-style="normal" >0.8</text>
<line x1="491.20" y1="40.00" x2="493.80" y2="40.00" stroke="#333" stroke-width="1.3"/>
<text transform="translate(490.40,43.10) scale(1,1.0)" x="0" y="0" font-size="8.6" text-anchor="end" fill="#1a1a1a" color="#1a1a1a" font-weight="normal" font-style="normal" >1.0</text>
<rect x="502.65" y="78.16" width="13.70" height="41.34" fill="none" stroke="#1a1a1a" stroke-width="1.1"/>
<line x1="509.50" y1="78.16" x2="509.50" y2="73.39" stroke="#1a1a1a" stroke-width="1.1"/>
<line x1="507.00" y1="73.39" x2="512.00" y2="73.39" stroke="#1a1a1a" stroke-width="1.1"/>
<circle cx="513.00" cy="67.03" r="1.3" fill="#1a1a1a"/>
<circle cx="508.00" cy="68.62" r="1.3" fill="#1a1a1a"/>
<circle cx="508.50" cy="74.98" r="1.3" fill="#1a1a1a"/>
<circle cx="506.50" cy="79.75" r="1.3" fill="#1a1a1a"/>
<circle cx="512.50" cy="82.93" r="1.3" fill="#1a1a1a"/>
<circle cx="509.50" cy="93.27" r="1.3" fill="#1a1a1a"/>
<rect x="524.55" y="59.08" width="14.00" height="60.42" fill="none" stroke="#f0553c" stroke-width="1.1"/>
<line x1="531.55" y1="59.08" x2="531.55" y2="53.52" stroke="#f0553c" stroke-width="1.1"/>
<line x1="529.05" y1="53.52" x2="534.05" y2="53.52" stroke="#f0553c" stroke-width="1.1"/>
<rect x="527.35" y="46.80" width="2.3" height="2.3" fill="#e8262b"/>
<rect x="527.35" y="49.98" width="2.3" height="2.3" fill="#e8262b"/>
<rect x="532.35" y="47.60" width="2.3" height="2.3" fill="#e8262b"/>
<rect x="532.35" y="49.98" width="2.3" height="2.3" fill="#e8262b"/>
<rect x="530.35" y="64.29" width="2.3" height="2.3" fill="#e8262b"/>
<rect x="530.35" y="81.78" width="2.3" height="2.3" fill="#e8262b"/>
<line x1="509.50" y1="119.50" x2="509.50" y2="122.70" stroke="#1a1a1a" stroke-width="1"/>
<line x1="531.50" y1="119.50" x2="531.50" y2="122.70" stroke="#1a1a1a" stroke-width="1"/>
<polygon points="520.40,32.75 521.51,34.37 523.40,34.93 522.20,36.48 522.25,38.45 520.40,37.79 518.55,38.45 518.60,36.48 517.40,34.93 519.29,34.37" fill="#1a1a1a"/>
<line x1="508.90" y1="40.50" x2="531.10" y2="40.50" stroke="#1a1a1a" stroke-width="1"/>
<text transform="translate(472.30,76.20) rotate(-90) scale(1,1.0)" x="0" y="3.20" font-size="8.9" text-anchor="middle" fill="#1a1a1a" color="#1a1a1a" font-style="normal">Tumor weight (g)</text>
<text transform="translate(512.30,128.20) rotate(-45) scale(1,1.0)" x="0" y="0" font-size="8.5" text-anchor="end" fill="#1a1a1a" color="#1a1a1a"><tspan font-style="italic">Gsdmd</tspan><tspan font-size="64%" baseline-shift="44%"><tspan font-style="italic">fl/fl</tspan></tspan></text>
<text transform="translate(534.30,128.20) rotate(-45) scale(1,1.0)" x="0" y="0" font-size="8.5" text-anchor="end" fill="#1a1a1a" color="#1a1a1a"><tspan font-style="italic">Gsdmd</tspan><tspan font-size="64%" baseline-shift="44%"><tspan font-style="italic">fl/fl</tspan></tspan><tspan font-style="italic">CD4</tspan><tspan font-size="64%" baseline-shift="44%"><tspan font-style="italic">cre</tspan></tspan></text>
<text x="4.50" y="201.42" font-size="14" font-weight="bold" fill="#000">D</text>
<circle cx="37.60" cy="208.20" r="1.3" fill="#1a1a1a"/>
<rect x="36.45" y="218.55" width="2.3" height="2.3" fill="#e8262b"/>
<text transform="translate(47.00,211.37) scale(1,1.0)" x="0" y="0" font-size="8.8" text-anchor="start" fill="#1a1a1a" color="#1a1a1a" font-weight="normal" font-style="normal" ><tspan font-style="italic">Gsdmd</tspan><tspan font-size="64%" baseline-shift="44%"><tspan font-style="italic">fl/fl</tspan></tspan></text>
<text transform="translate(47.00,222.87) scale(1,1.0)" x="0" y="0" font-size="8.8" text-anchor="start" fill="#e8262b" color="#e8262b" font-weight="normal" font-style="normal" ><tspan font-style="italic">Gsdmd</tspan><tspan font-size="64%" baseline-shift="44%"><tspan font-style="italic">fl/fl</tspan></tspan><tspan font-style="italic">CD4</tspan><tspan font-size="64%" baseline-shift="44%"><tspan font-style="italic">cre</tspan></tspan></text>
<text transform="translate(106.60,207.14) scale(1,1.0)" x="0" y="0" font-size="9" text-anchor="start" fill="#1a1a1a" color="#1a1a1a" font-weight="normal" font-style="normal" >MC38</text>
<line x1="34.80" y1="231.30" x2="34.80" y2="310.70" stroke="#333" stroke-width="1.3"/>
<line x1="34.30" y1="310.70" x2="88.30" y2="310.70" stroke="#333" stroke-width="1.3"/>
<line x1="32.20" y1="310.70" x2="34.80" y2="310.70" stroke="#333" stroke-width="1.3"/>
<text transform="translate(31.40,313.80) scale(1,1.0)" x="0" y="0" font-size="8.6" text-anchor="end" fill="#1a1a1a" color="#1a1a1a" font-weight="normal" font-style="normal" >0</text>
<line x1="32.20" y1="284.40" x2="34.80" y2="284.40" stroke="#333" stroke-width="1.3"/>
<text transform="translate(31.40,287.50) scale(1,1.0)" x="0" y="0" font-size="8.6" text-anchor="end" fill="#1a1a1a" color="#1a1a1a" font-weight="normal" font-style="normal" >10</text>
<line x1="32.20" y1="258.10" x2="34.80" y2="258.10" stroke="#333" stroke-width="1.3"/>
<text transform="translate(31.40,261.20) scale(1,1.0)" x="0" y="0" font-size="8.6" text-anchor="end" fill="#1a1a1a" color="#1a1a1a" font-weight="normal" font-style="normal" >20</text>
<line x1="32.20" y1="231.80" x2="34.80" y2="231.80" stroke="#333" stroke-width="1.3"/>
<text transform="translate(31.40,234.90) scale(1,1.0)" x="0" y="0" font-size="8.6" text-anchor="end" fill="#1a1a1a" color="#1a1a1a" font-weight="normal" font-style="normal" >30</text>
<rect x="37.45" y="262.05" width="4.00" height="48.65" fill="none" stroke="#1a1a1a" stroke-width="1.1"/>
<line x1="39.45" y1="262.05" x2="39.45" y2="258.15" stroke="#1a1a1a" stroke-width="1.1"/>
<line x1="36.95" y1="258.15" x2="41.95" y2="258.15" stroke="#1a1a1a" stroke-width="1.1"/>
<circle cx="39.34" cy="244.95" r="1.3" fill="#1a1a1a"/>
<circle cx="38.96" cy="248.37" r="1.3" fill="#1a1a1a"/>
<circle cx="38.96" cy="258.10" r="1.3" fill="#1a1a1a"/>
<circle cx="38.94" cy="259.42" r="1.3" fill="#1a1a1a"/>
<circle cx="39.69" cy="263.36" r="1.3" fill="#1a1a1a"/>
<circle cx="37.99" cy="265.99" r="1.3" fill="#1a1a1a"/>
<circle cx="37.88" cy="271.25" r="1.3" fill="#1a1a1a"/>
<circle cx="38.10" cy="276.51" r="1.3" fill="#1a1a1a"/>
<circle cx="39.23" cy="281.77" r="1.3" fill="#1a1a1a"/>
<rect x="44.65" y="290.19" width="4.20" height="20.51" fill="none" stroke="#f0553c" stroke-width="1.1"/>
<line x1="46.75" y1="290.19" x2="46.75" y2="288.54" stroke="#f0553c" stroke-width="1.1"/>
<line x1="44.25" y1="288.54" x2="49.25" y2="288.54" stroke="#f0553c" stroke-width="1.1"/>
<rect x="44.37" y="271.42" width="2.3" height="2.3" fill="#e8262b"/>
<rect x="45.07" y="274.05" width="2.3" height="2.3" fill="#e8262b"/>
<rect x="44.71" y="284.04" width="2.3" height="2.3" fill="#e8262b"/>
<rect x="45.24" y="285.88" width="2.3" height="2.3" fill="#e8262b"/>
<rect x="44.42" y="293.77" width="2.3" height="2.3" fill="#e8262b"/>
<rect x="44.82" y="295.35" width="2.3" height="2.3" fill="#e8262b"/>
<rect x="44.68" y="298.50" width="2.3" height="2.3" fill="#e8262b"/>
<rect x="43.79" y="291.14" width="2.3" height="2.3" fill="#e8262b"/>
<rect x="56.45" y="297.02" width="4.30" height="13.68" fill="none" stroke="#1a1a1a" stroke-width="1.1"/>
<line x1="58.60" y1="297.02" x2="58.60" y2="295.93" stroke="#1a1a1a" stroke-width="1.1"/>
<line x1="56.10" y1="295.93" x2="61.10" y2="295.93" stroke="#1a1a1a" stroke-width="1.1"/>
<circle cx="56.78" cy="292.58" r="1.3" fill="#1a1a1a"/>
<circle cx="57.99" cy="296.63" r="1.3" fill="#1a1a1a"/>
<circle cx="58.37" cy="300.50" r="1.3" fill="#1a1a1a"/>
<circle cx="59.81" cy="298.45" r="1.3" fill="#1a1a1a"/>
<circle cx="59.73" cy="295.37" r="1.3" fill="#1a1a1a"/>
<circle cx="60.10" cy="299.66" r="1.3" fill="#1a1a1a"/>
<circle cx="58.92" cy="295.43" r="1.3" fill="#1a1a1a"/>
<rect x="62.95" y="302.28" width="3.80" height="8.42" fill="none" stroke="#f0553c" stroke-width="1.1"/>
<line x1="64.85" y1="302.28" x2="64.85" y2="301.61" stroke="#f0553c" stroke-width="1.1"/>
<line x1="62.35" y1="301.61" x2="67.35" y2="301.61" stroke="#f0553c" stroke-width="1.1"/>
<rect x="62.01" y="299.56" width="2.3" height="2.3" fill="#e8262b"/>
<rect x="65.01" y="299.64" width="2.3" height="2.3" fill="#e8262b"/>
<rect x="62.51" y="300.50" width="2.3" height="2.3" fill="#e8262b"/>
<rect x="62.59" y="302.19" width="2.3" height="2.3" fill="#e8262b"/>
<rect x="63.91" y="302.56" width="2.3" height="2.3" fill="#e8262b"/>
<rect x="63.01" y="302.49" width="2.3" height="2.3" fill="#e8262b"/>
<rect x="63.42" y="299.80" width="2.3" height="2.3" fill="#e8262b"/>
<rect x="73.45" y="301.50" width="4.60" height="9.20" fill="none" stroke="#1a1a1a" stroke-width="1.1"/>
<line x1="75.75" y1="301.50" x2="75.75" y2="300.76" stroke="#1a1a1a" stroke-width="1.1"/>
<line x1="73.25" y1="300.76" x2="78.25" y2="300.76" stroke="#1a1a1a" stroke-width="1.1"/>
<circle cx="74.13" cy="300.97" r="1.3" fill="#1a1a1a"/>
<circle cx="76.40" cy="301.81" r="1.3" fill="#1a1a1a"/>
<circle cx="77.14" cy="303.42" r="1.3" fill="#1a1a1a"/>
<circle cx="74.79" cy="301.83" r="1.3" fill="#1a1a1a"/>
<circle cx="74.91" cy="300.98" r="1.3" fill="#1a1a1a"/>
<circle cx="77.26" cy="299.76" r="1.3" fill="#1a1a1a"/>
<circle cx="75.57" cy="300.09" r="1.3" fill="#1a1a1a"/>
<rect x="80.75" y="304.91" width="3.80" height="5.79" fill="none" stroke="#f0553c" stroke-width="1.1"/>
<line x1="82.65" y1="304.91" x2="82.65" y2="304.45" stroke="#f0553c" stroke-width="1.1"/>
<line x1="80.15" y1="304.45" x2="85.15" y2="304.45" stroke="#f0553c" stroke-width="1.1"/>
<rect x="82.30" y="302.15" width="2.3" height="2.3" fill="#e8262b"/>
<rect x="82.64" y="304.68" width="2.3" height="2.3" fill="#e8262b"/>
<rect x="81.73" y="305.15" width="2.3" height="2.3" fill="#e8262b"/>
<rect x="81.53" y="304.48" width="2.3" height="2.3" fill="#e8262b"/>
<rect x="83.08" y="304.03" width="2.3" height="2.3" fill="#e8262b"/>
<rect x="82.73" y="302.52" width="2.3" height="2.3" fill="#e8262b"/>
<rect x="81.88" y="304.53" width="2.3" height="2.3" fill="#e8262b"/>
<line x1="43.00" y1="310.70" x2="43.00" y2="313.90" stroke="#1a1a1a" stroke-width="1"/>
<line x1="61.60" y1="310.70" x2="61.60" y2="313.90" stroke="#1a1a1a" stroke-width="1"/>
<line x1="79.00" y1="310.70" x2="79.00" y2="313.90" stroke="#1a1a1a" stroke-width="1"/>
<polygon points="37.50,234.25 38.61,235.87 40.50,236.43 39.30,237.98 39.35,239.95 37.50,239.29 35.65,239.95 35.70,237.98 34.50,236.43 36.39,235.87" fill="#1a1a1a"/>
<polygon points="43.00,234.25 44.11,235.87 46.00,236.43 44.80,237.98 44.85,239.95 43.00,239.29 41.15,239.95 41.20,237.98 40.00,236.43 41.89,235.87" fill="#1a1a1a"/>
<polygon points="48.50,234.25 49.61,235.87 51.50,236.43 50.30,237.98 50.35,239.95 48.50,239.29 46.65,239.95 46.70,237.98 45.50,236.43 47.39,235.87" fill="#1a1a1a"/>
<line x1="38.90" y1="242.20" x2="47.30" y2="242.20" stroke="#1a1a1a" stroke-width="1"/>
<polygon points="56.30,278.85 57.41,280.47 59.30,281.03 58.10,282.58 58.15,284.55 56.30,283.89 54.45,284.55 54.50,282.58 53.30,281.03 55.19,280.47" fill="#1a1a1a"/>
<polygon points="61.80,278.85 62.91,280.47 64.80,281.03 63.60,282.58 63.65,284.55 61.80,283.89 59.95,284.55 60.00,282.58 58.80,281.03 60.69,280.47" fill="#1a1a1a"/>
<polygon points="67.30,278.85 68.41,280.47 70.30,281.03 69.10,282.58 69.15,284.55 67.30,283.89 65.45,284.55 65.50,282.58 64.30,281.03 66.19,280.47" fill="#1a1a1a"/>
<line x1="57.50" y1="286.80" x2="66.10" y2="286.80" stroke="#1a1a1a" stroke-width="1"/>
<polygon points="74.20,285.25 75.31,286.87 77.20,287.43 76.00,288.98 76.05,290.95 74.20,290.29 72.35,290.95 72.40,288.98 71.20,287.43 73.09,286.87" fill="#1a1a1a"/>
<polygon points="79.70,285.25 80.81,286.87 82.70,287.43 81.50,288.98 81.55,290.95 79.70,290.29 77.85,290.95 77.90,288.98 76.70,287.43 78.59,286.87" fill="#1a1a1a"/>
<polygon points="85.20,285.25 86.31,286.87 88.20,287.43 87.00,288.98 87.05,290.95 85.20,290.29 83.35,290.95 83.40,288.98 82.20,287.43 84.09,286.87" fill="#1a1a1a"/>
<line x1="75.40" y1="293.00" x2="84.00" y2="293.00" stroke="#1a1a1a" stroke-width="1"/>
<text transform="translate(44.00,322.66) scale(1,1.0)" x="0" y="0" font-size="8.5" text-anchor="middle" fill="#1a1a1a" color="#1a1a1a" font-weight="normal" font-style="normal" >CD8</text>
<text transform="translate(62.50,322.66) scale(1,1.0)" x="0" y="0" font-size="8.5" text-anchor="middle" fill="#1a1a1a" color="#1a1a1a" font-weight="normal" font-style="normal" >CD4</text>
<text transform="translate(80.50,322.66) scale(1,1.0)" x="0" y="0" font-size="8.5" text-anchor="middle" fill="#1a1a1a" color="#1a1a1a" font-weight="normal" font-style="normal" >NK</text>
<text transform="translate(14.60,268.75) rotate(-90) scale(1,1.0)" x="0" y="3.10" font-size="8.6" text-anchor="middle" fill="#1a1a1a" color="#1a1a1a" font-style="normal">% of CD45<tspan font-size="64%" baseline-shift="44%">+</tspan> cells</text>
<line x1="137.80" y1="230.90" x2="137.80" y2="311.20" stroke="#333" stroke-width="1.3"/>
<line x1="137.30" y1="311.20" x2="191.30" y2="311.20" stroke="#333" stroke-width="1.3"/>
<line x1="135.20" y1="311.20" x2="137.80" y2="311.20" stroke="#333" stroke-width="1.3"/>
<text transform="translate(134.40,314.30) scale(1,1.0)" x="0" y="0" font-size="8.6" text-anchor="end" fill="#1a1a1a" color="#1a1a1a" font-weight="normal" font-style="normal" >0</text>
<line x1="135.20" y1="295.24" x2="137.80" y2="295.24" stroke="#333" stroke-width="1.3"/>
<text transform="translate(134.40,298.34) scale(1,1.0)" x="0" y="0" font-size="8.6" text-anchor="end" fill="#1a1a1a" color="#1a1a1a" font-weight="normal" font-style="normal" >5</text>
<line x1="135.20" y1="279.28" x2="137.80" y2="279.28" stroke="#333" stroke-width="1.3"/>
<text transform="translate(134.40,282.38) scale(1,1.0)" x="0" y="0" font-size="8.6" text-anchor="end" fill="#1a1a1a" color="#1a1a1a" font-weight="normal" font-style="normal" >10</text>
<line x1="135.20" y1="263.32" x2="137.80" y2="263.32" stroke="#333" stroke-width="1.3"/>
<text transform="translate(134.40,266.42) scale(1,1.0)" x="0" y="0" font-size="8.6" text-anchor="end" fill="#1a1a1a" color="#1a1a1a" font-weight="normal" font-style="normal" >15</text>
<line x1="135.20" y1="247.36" x2="137.80" y2="247.36" stroke="#333" stroke-width="1.3"/>
<text transform="translate(134.40,250.46) scale(1,1.0)" x="0" y="0" font-size="8.6" text-anchor="end" fill="#1a1a1a" color="#1a1a1a" font-weight="normal" font-style="normal" >20</text>
<line x1="135.20" y1="231.40" x2="137.80" y2="231.40" stroke="#333" stroke-width="1.3"/>
<text transform="translate(134.40,234.50) scale(1,1.0)" x="0" y="0" font-size="8.6" text-anchor="end" fill="#1a1a1a" color="#1a1a1a" font-weight="normal" font-style="normal" >25</text>
<rect x="141.05" y="272.90" width="3.30" height="38.30" fill="none" stroke="#1a1a1a" stroke-width="1.1"/>
<line x1="142.70" y1="272.90" x2="142.70" y2="269.83" stroke="#1a1a1a" stroke-width="1.1"/>
<line x1="140.20" y1="269.83" x2="145.20" y2="269.83" stroke="#1a1a1a" stroke-width="1.1"/>
<circle cx="143.71" cy="256.56" r="1.3" fill="#1a1a1a"/>
<circle cx="143.88" cy="282.11" r="1.3" fill="#1a1a1a"/>
<circle cx="143.94" cy="279.65" r="1.3" fill="#1a1a1a"/>
<circle cx="143.30" cy="272.74" r="1.3" fill="#1a1a1a"/>
<circle cx="141.73" cy="270.93" r="1.3" fill="#1a1a1a"/>
<circle cx="142.85" cy="274.99" r="1.3" fill="#1a1a1a"/>
<circle cx="141.45" cy="254.62" r="1.3" fill="#1a1a1a"/>
<circle cx="141.42" cy="278.29" r="1.3" fill="#1a1a1a"/>
<circle cx="142.02" cy="247.76" r="1.3" fill="#1a1a1a"/>
<rect x="147.25" y="287.90" width="3.90" height="23.30" fill="none" stroke="#f0553c" stroke-width="1.1"/>
<line x1="149.20" y1="287.90" x2="149.20" y2="286.03" stroke="#f0553c" stroke-width="1.1"/>
<line x1="146.70" y1="286.03" x2="151.70" y2="286.03" stroke="#f0553c" stroke-width="1.1"/>
<rect x="147.61" y="292.28" width="2.3" height="2.3" fill="#e8262b"/>
<rect x="149.26" y="304.62" width="2.3" height="2.3" fill="#e8262b"/>
<rect x="148.01" y="302.67" width="2.3" height="2.3" fill="#e8262b"/>
<rect x="148.65" y="275.22" width="2.3" height="2.3" fill="#e8262b"/>
<rect x="148.31" y="294.61" width="2.3" height="2.3" fill="#e8262b"/>
<rect x="148.24" y="287.18" width="2.3" height="2.3" fill="#e8262b"/>
<rect x="147.85" y="298.27" width="2.3" height="2.3" fill="#e8262b"/>
<rect x="148.74" y="287.29" width="2.3" height="2.3" fill="#e8262b"/>
<rect x="149.05" y="281.19" width="2.3" height="2.3" fill="#e8262b"/>
<rect x="158.85" y="300.67" width="3.30" height="10.53" fill="none" stroke="#1a1a1a" stroke-width="1.1"/>
<line x1="160.50" y1="300.67" x2="160.50" y2="299.82" stroke="#1a1a1a" stroke-width="1.1"/>
<line x1="158.00" y1="299.82" x2="163.00" y2="299.82" stroke="#1a1a1a" stroke-width="1.1"/>
<circle cx="160.50" cy="293.56" r="1.3" fill="#1a1a1a"/>
<circle cx="160.26" cy="294.09" r="1.3" fill="#1a1a1a"/>
<circle cx="159.35" cy="298.68" r="1.3" fill="#1a1a1a"/>
<circle cx="160.47" cy="294.51" r="1.3" fill="#1a1a1a"/>
<circle cx="161.64" cy="300.14" r="1.3" fill="#1a1a1a"/>
<circle cx="160.16" cy="297.09" r="1.3" fill="#1a1a1a"/>
<circle cx="159.99" cy="292.75" r="1.3" fill="#1a1a1a"/>
<rect x="165.05" y="303.22" width="3.90" height="7.98" fill="none" stroke="#f0553c" stroke-width="1.1"/>
<line x1="167.00" y1="303.22" x2="167.00" y2="302.58" stroke="#f0553c" stroke-width="1.1"/>
<line x1="164.50" y1="302.58" x2="169.50" y2="302.58" stroke="#f0553c" stroke-width="1.1"/>
<rect x="165.85" y="297.24" width="2.3" height="2.3" fill="#e8262b"/>
<rect x="164.51" y="297.14" width="2.3" height="2.3" fill="#e8262b"/>
<rect x="167.15" y="302.91" width="2.3" height="2.3" fill="#e8262b"/>
<rect x="166.96" y="301.30" width="2.3" height="2.3" fill="#e8262b"/>
<rect x="166.58" y="303.68" width="2.3" height="2.3" fill="#e8262b"/>
<rect x="166.11" y="300.08" width="2.3" height="2.3" fill="#e8262b"/>
<rect x="166.82" y="304.83" width="2.3" height="2.3" fill="#e8262b"/>
<rect x="177.95" y="304.18" width="3.50" height="7.02" fill="none" stroke="#1a1a1a" stroke-width="1.1"/>
<line x1="179.70" y1="304.18" x2="179.70" y2="303.62" stroke="#1a1a1a" stroke-width="1.1"/>
<line x1="177.20" y1="303.62" x2="182.20" y2="303.62" stroke="#1a1a1a" stroke-width="1.1"/>
<circle cx="179.33" cy="304.54" r="1.3" fill="#1a1a1a"/>
<circle cx="179.17" cy="301.68" r="1.3" fill="#1a1a1a"/>
<circle cx="179.48" cy="301.74" r="1.3" fill="#1a1a1a"/>
<circle cx="180.57" cy="301.73" r="1.3" fill="#1a1a1a"/>
<circle cx="178.28" cy="303.43" r="1.3" fill="#1a1a1a"/>
<circle cx="180.12" cy="302.31" r="1.3" fill="#1a1a1a"/>
<circle cx="178.36" cy="304.25" r="1.3" fill="#1a1a1a"/>
<rect x="184.15" y="305.45" width="3.30" height="5.75" fill="none" stroke="#f0553c" stroke-width="1.1"/>
<line x1="185.80" y1="305.45" x2="185.80" y2="304.99" stroke="#f0553c" stroke-width="1.1"/>
<line x1="183.30" y1="304.99" x2="188.30" y2="304.99" stroke="#f0553c" stroke-width="1.1"/>
<rect x="184.89" y="306.35" width="2.3" height="2.3" fill="#e8262b"/>
<rect x="185.09" y="303.71" width="2.3" height="2.3" fill="#e8262b"/>
<rect x="184.00" y="306.89" width="2.3" height="2.3" fill="#e8262b"/>
<rect x="183.12" y="306.54" width="2.3" height="2.3" fill="#e8262b"/>
<rect x="185.76" y="301.53" width="2.3" height="2.3" fill="#e8262b"/>
<rect x="183.14" y="307.31" width="2.3" height="2.3" fill="#e8262b"/>
<rect x="186.13" y="303.56" width="2.3" height="2.3" fill="#e8262b"/>
<line x1="146.20" y1="311.20" x2="146.20" y2="314.40" stroke="#1a1a1a" stroke-width="1"/>
<line x1="164.30" y1="311.20" x2="164.30" y2="314.40" stroke="#1a1a1a" stroke-width="1"/>
<line x1="183.00" y1="311.20" x2="183.00" y2="314.40" stroke="#1a1a1a" stroke-width="1"/>
<polygon points="146.40,233.95 147.51,235.57 149.40,236.13 148.20,237.68 148.25,239.65 146.40,238.99 144.55,239.65 144.60,237.68 143.40,236.13 145.29,235.57" fill="#1a1a1a"/>
<line x1="142.20" y1="241.70" x2="150.60" y2="241.70" stroke="#1a1a1a" stroke-width="1"/>
<text transform="translate(164.30,281.18) scale(1,1.0)" x="0" y="0" font-size="8" text-anchor="middle" fill="#1a1a1a" color="#1a1a1a" font-weight="normal" font-style="normal" >NS</text>
<line x1="160.00" y1="284.50" x2="168.50" y2="284.50" stroke="#1a1a1a" stroke-width="1"/>
<text transform="translate(183.10,289.18) scale(1,1.0)" x="0" y="0" font-size="8" text-anchor="middle" fill="#1a1a1a" color="#1a1a1a" font-weight="normal" font-style="normal" >NS</text>
<line x1="178.80" y1="292.50" x2="187.40" y2="292.50" stroke="#1a1a1a" stroke-width="1"/>
<text transform="translate(143.10,322.86) scale(1,1.0)" x="0" y="0" font-size="8.5" text-anchor="middle" fill="#1a1a1a" color="#1a1a1a" font-weight="normal" font-style="normal" >CD8</text>
<text transform="translate(165.40,322.86) scale(1,1.0)" x="0" y="0" font-size="8.5" text-anchor="middle" fill="#1a1a1a" color="#1a1a1a" font-weight="normal" font-style="normal" >CD4</text>
<text transform="translate(183.30,322.86) scale(1,1.0)" x="0" y="0" font-size="8.5" text-anchor="middle" fill="#1a1a1a" color="#1a1a1a" font-weight="normal" font-style="normal" >NK</text>
<text transform="translate(117.50,270.20) rotate(-90) scale(1,1.0)" x="0" y="3.20" font-size="8.9" text-anchor="middle" fill="#1a1a1a" color="#1a1a1a" font-style="normal">Cell counts/g (x10<tspan font-size="64%" baseline-shift="44%">5</tspan>)</text>
<text x="5.50" y="389.42" font-size="14" font-weight="bold" fill="#000">F</text>
<circle cx="36.80" cy="388.00" r="1.3" fill="#1a1a1a"/>
<rect x="35.65" y="398.15" width="2.3" height="2.3" fill="#e8262b"/>
<text transform="translate(45.30,391.17) scale(1,1.0)" x="0" y="0" font-size="8.8" text-anchor="start" fill="#1a1a1a" color="#1a1a1a" font-weight="normal" font-style="normal" ><tspan font-style="italic">Gsdmd</tspan><tspan font-size="64%" baseline-shift="44%"><tspan font-style="italic">fl/fl</tspan></tspan></text>
<text transform="translate(45.30,402.47) scale(1,1.0)" x="0" y="0" font-size="8.8" text-anchor="start" fill="#e8262b" color="#e8262b" font-weight="normal" font-style="normal" ><tspan font-style="italic">Gsdmd</tspan><tspan font-size="64%" baseline-shift="44%"><tspan font-style="italic">fl/fl</tspan></tspan><tspan font-style="italic">CD4</tspan><tspan font-size="64%" baseline-shift="44%"><tspan font-style="italic">cre</tspan></tspan></text>
<text transform="translate(111.30,388.34) scale(1,1.0)" x="0" y="0" font-size="9" text-anchor="start" fill="#1a1a1a" color="#1a1a1a" font-weight="normal" font-style="normal" >KPC</text>
<line x1="34.60" y1="410.70" x2="34.60" y2="490.50" stroke="#333" stroke-width="1.3"/>
<line x1="34.10" y1="490.50" x2="88.80" y2="490.50" stroke="#333" stroke-width="1.3"/>
<line x1="32.00" y1="490.50" x2="34.60" y2="490.50" stroke="#333" stroke-width="1.3"/>
<text transform="translate(31.20,493.60) scale(1,1.0)" x="0" y="0" font-size="8.6" text-anchor="end" fill="#1a1a1a" color="#1a1a1a" font-weight="normal" font-style="normal" >0</text>
<line x1="32.00" y1="470.68" x2="34.60" y2="470.68" stroke="#333" stroke-width="1.3"/>
<text transform="translate(31.20,473.77) scale(1,1.0)" x="0" y="0" font-size="8.6" text-anchor="end" fill="#1a1a1a" color="#1a1a1a" font-weight="normal" font-style="normal" >10</text>
<line x1="32.00" y1="450.85" x2="34.60" y2="450.85" stroke="#333" stroke-width="1.3"/>
<text transform="translate(31.20,453.95) scale(1,1.0)" x="0" y="0" font-size="8.6" text-anchor="end" fill="#1a1a1a" color="#1a1a1a" font-weight="normal" font-style="normal" >20</text>
<line x1="32.00" y1="431.02" x2="34.60" y2="431.02" stroke="#333" stroke-width="1.3"/>
<text transform="translate(31.20,434.12) scale(1,1.0)" x="0" y="0" font-size="8.6" text-anchor="end" fill="#1a1a1a" color="#1a1a1a" font-weight="normal" font-style="normal" >30</text>
<line x1="32.00" y1="411.20" x2="34.60" y2="411.20" stroke="#333" stroke-width="1.3"/>
<text transform="translate(31.20,414.30) scale(1,1.0)" x="0" y="0" font-size="8.6" text-anchor="end" fill="#1a1a1a" color="#1a1a1a" font-weight="normal" font-style="normal" >40</text>
<rect x="37.35" y="438.95" width="4.60" height="51.55" fill="none" stroke="#1a1a1a" stroke-width="1.1"/>
<line x1="39.65" y1="438.95" x2="39.65" y2="434.83" stroke="#1a1a1a" stroke-width="1.1"/>
<line x1="37.15" y1="434.83" x2="42.15" y2="434.83" stroke="#1a1a1a" stroke-width="1.1"/>
<circle cx="38.24" cy="441.16" r="1.3" fill="#1a1a1a"/>
<circle cx="40.00" cy="435.76" r="1.3" fill="#1a1a1a"/>
<circle cx="40.98" cy="439.11" r="1.3" fill="#1a1a1a"/>
<circle cx="40.96" cy="435.77" r="1.3" fill="#1a1a1a"/>
<circle cx="40.12" cy="435.12" r="1.3" fill="#1a1a1a"/>
<circle cx="38.00" cy="435.69" r="1.3" fill="#1a1a1a"/>
<circle cx="37.84" cy="437.38" r="1.3" fill="#1a1a1a"/>
<circle cx="40.03" cy="443.07" r="1.3" fill="#1a1a1a"/>
<rect x="44.35" y="451.84" width="4.60" height="38.66" fill="none" stroke="#f0553c" stroke-width="1.1"/>
<line x1="46.65" y1="451.84" x2="46.65" y2="448.75" stroke="#f0553c" stroke-width="1.1"/>
<line x1="44.15" y1="448.75" x2="49.15" y2="448.75" stroke="#f0553c" stroke-width="1.1"/>
<rect x="44.87" y="440.90" width="2.3" height="2.3" fill="#e8262b"/>
<rect x="44.68" y="450.24" width="2.3" height="2.3" fill="#e8262b"/>
<rect x="43.72" y="451.11" width="2.3" height="2.3" fill="#e8262b"/>
<rect x="46.74" y="453.72" width="2.3" height="2.3" fill="#e8262b"/>
<rect x="47.19" y="457.74" width="2.3" height="2.3" fill="#e8262b"/>
<rect x="46.84" y="456.99" width="2.3" height="2.3" fill="#e8262b"/>
<rect x="45.32" y="450.42" width="2.3" height="2.3" fill="#e8262b"/>
<rect x="45.72" y="449.86" width="2.3" height="2.3" fill="#e8262b"/>
<rect x="56.25" y="476.62" width="4.60" height="13.88" fill="none" stroke="#1a1a1a" stroke-width="1.1"/>
<line x1="58.55" y1="476.62" x2="58.55" y2="475.51" stroke="#1a1a1a" stroke-width="1.1"/>
<line x1="56.05" y1="475.51" x2="61.05" y2="475.51" stroke="#1a1a1a" stroke-width="1.1"/>
<circle cx="58.05" cy="477.39" r="1.3" fill="#1a1a1a"/>
<circle cx="59.14" cy="473.61" r="1.3" fill="#1a1a1a"/>
<circle cx="57.08" cy="474.75" r="1.3" fill="#1a1a1a"/>
<circle cx="57.34" cy="473.91" r="1.3" fill="#1a1a1a"/>
<circle cx="59.01" cy="479.60" r="1.3" fill="#1a1a1a"/>
<circle cx="57.66" cy="476.42" r="1.3" fill="#1a1a1a"/>
<circle cx="56.80" cy="477.17" r="1.3" fill="#1a1a1a"/>
<circle cx="59.26" cy="476.87" r="1.3" fill="#1a1a1a"/>
<rect x="62.85" y="474.64" width="4.60" height="15.86" fill="none" stroke="#f0553c" stroke-width="1.1"/>
<line x1="65.15" y1="474.64" x2="65.15" y2="473.37" stroke="#f0553c" stroke-width="1.1"/>
<line x1="62.65" y1="473.37" x2="67.65" y2="473.37" stroke="#f0553c" stroke-width="1.1"/>
<rect x="62.82" y="474.28" width="2.3" height="2.3" fill="#e8262b"/>
<rect x="63.28" y="471.92" width="2.3" height="2.3" fill="#e8262b"/>
<rect x="64.23" y="473.56" width="2.3" height="2.3" fill="#e8262b"/>
<rect x="64.31" y="473.75" width="2.3" height="2.3" fill="#e8262b"/>
<rect x="62.75" y="474.44" width="2.3" height="2.3" fill="#e8262b"/>
<rect x="65.46" y="472.31" width="2.3" height="2.3" fill="#e8262b"/>
<rect x="63.20" y="473.70" width="2.3" height="2.3" fill="#e8262b"/>
<rect x="75.15" y="482.57" width="4.60" height="7.93" fill="none" stroke="#1a1a1a" stroke-width="1.1"/>
<line x1="77.45" y1="482.57" x2="77.45" y2="481.94" stroke="#1a1a1a" stroke-width="1.1"/>
<line x1="74.95" y1="481.94" x2="79.95" y2="481.94" stroke="#1a1a1a" stroke-width="1.1"/>
<circle cx="77.54" cy="483.47" r="1.3" fill="#1a1a1a"/>
<circle cx="76.01" cy="483.51" r="1.3" fill="#1a1a1a"/>
<circle cx="76.62" cy="481.12" r="1.3" fill="#1a1a1a"/>
<circle cx="76.70" cy="481.56" r="1.3" fill="#1a1a1a"/>
<circle cx="78.10" cy="481.36" r="1.3" fill="#1a1a1a"/>
<circle cx="76.52" cy="482.84" r="1.3" fill="#1a1a1a"/>
<circle cx="79.41" cy="481.38" r="1.3" fill="#1a1a1a"/>
<rect x="81.75" y="481.98" width="4.60" height="8.52" fill="none" stroke="#f0553c" stroke-width="1.1"/>
<line x1="84.05" y1="481.98" x2="84.05" y2="481.29" stroke="#f0553c" stroke-width="1.1"/>
<line x1="81.55" y1="481.29" x2="86.55" y2="481.29" stroke="#f0553c" stroke-width="1.1"/>
<rect x="82.11" y="482.77" width="2.3" height="2.3" fill="#e8262b"/>
<rect x="83.72" y="481.69" width="2.3" height="2.3" fill="#e8262b"/>
<rect x="83.67" y="479.81" width="2.3" height="2.3" fill="#e8262b"/>
<rect x="84.27" y="479.10" width="2.3" height="2.3" fill="#e8262b"/>
<rect x="81.18" y="481.31" width="2.3" height="2.3" fill="#e8262b"/>
<rect x="83.80" y="482.52" width="2.3" height="2.3" fill="#e8262b"/>
<rect x="82.02" y="482.80" width="2.3" height="2.3" fill="#e8262b"/>
<line x1="43.20" y1="490.50" x2="43.20" y2="493.70" stroke="#1a1a1a" stroke-width="1"/>
<line x1="62.00" y1="490.50" x2="62.00" y2="493.70" stroke="#1a1a1a" stroke-width="1"/>
<line x1="80.70" y1="490.50" x2="80.70" y2="493.70" stroke="#1a1a1a" stroke-width="1"/>
<polygon points="40.65,419.75 41.76,421.37 43.65,421.93 42.45,423.48 42.50,425.45 40.65,424.79 38.80,425.45 38.85,423.48 37.65,421.93 39.54,421.37" fill="#1a1a1a"/>
<polygon points="46.15,419.75 47.26,421.37 49.15,421.93 47.95,423.48 48.00,425.45 46.15,424.79 44.30,425.45 44.35,423.48 43.15,421.93 45.04,421.37" fill="#1a1a1a"/>
<line x1="39.70" y1="427.60" x2="47.20" y2="427.60" stroke="#1a1a1a" stroke-width="1"/>
<text transform="translate(62.30,461.68) scale(1,1.0)" x="0" y="0" font-size="8" text-anchor="middle" fill="#1a1a1a" color="#1a1a1a" font-weight="normal" font-style="normal" >NS</text>
<line x1="58.30" y1="464.40" x2="66.30" y2="464.40" stroke="#1a1a1a" stroke-width="1"/>
<text transform="translate(80.30,469.58) scale(1,1.0)" x="0" y="0" font-size="8" text-anchor="middle" fill="#1a1a1a" color="#1a1a1a" font-weight="normal" font-style="normal" >NS</text>
<line x1="76.30" y1="473.00" x2="84.30" y2="473.00" stroke="#1a1a1a" stroke-width="1"/>
<text transform="translate(43.40,503.36) scale(1,1.0)" x="0" y="0" font-size="8.5" text-anchor="middle" fill="#1a1a1a" color="#1a1a1a" font-weight="normal" font-style="normal" >CD8</text>
<text transform="translate(61.40,503.36) scale(1,1.0)" x="0" y="0" font-size="8.5" text-anchor="middle" fill="#1a1a1a" color="#1a1a1a" font-weight="normal" font-style="normal" >CD4</text>
<text transform="translate(80.30,503.36) scale(1,1.0)" x="0" y="0" font-size="8.5" text-anchor="middle" fill="#1a1a1a" color="#1a1a1a" font-weight="normal" font-style="normal" >NK</text>
<text transform="translate(14.50,448.40) rotate(-90) scale(1,1.0)" x="0" y="3.10" font-size="8.6" text-anchor="middle" fill="#1a1a1a" color="#1a1a1a" font-style="normal">% of CD45<tspan font-size="64%" baseline-shift="44%">+</tspan> cells</text>
<line x1="142.20" y1="410.70" x2="142.20" y2="491.30" stroke="#333" stroke-width="1.3"/>
<line x1="141.70" y1="491.30" x2="194.40" y2="491.30" stroke="#333" stroke-width="1.3"/>
<line x1="139.60" y1="491.30" x2="142.20" y2="491.30" stroke="#333" stroke-width="1.3"/>
<text transform="translate(138.80,494.40) scale(1,1.0)" x="0" y="0" font-size="8.6" text-anchor="end" fill="#1a1a1a" color="#1a1a1a" font-weight="normal" font-style="normal" >0</text>
<line x1="139.60" y1="475.28" x2="142.20" y2="475.28" stroke="#333" stroke-width="1.3"/>
<text transform="translate(138.80,478.38) scale(1,1.0)" x="0" y="0" font-size="8.6" text-anchor="end" fill="#1a1a1a" color="#1a1a1a" font-weight="normal" font-style="normal" >20</text>
<line x1="139.60" y1="459.26" x2="142.20" y2="459.26" stroke="#333" stroke-width="1.3"/>
<text transform="translate(138.80,462.36) scale(1,1.0)" x="0" y="0" font-size="8.6" text-anchor="end" fill="#1a1a1a" color="#1a1a1a" font-weight="normal" font-style="normal" >40</text>
<line x1="139.60" y1="443.24" x2="142.20" y2="443.24" stroke="#333" stroke-width="1.3"/>
<text transform="translate(138.80,446.34) scale(1,1.0)" x="0" y="0" font-size="8.6" text-anchor="end" fill="#1a1a1a" color="#1a1a1a" font-weight="normal" font-style="normal" >60</text>
<line x1="139.60" y1="427.22" x2="142.20" y2="427.22" stroke="#333" stroke-width="1.3"/>
<text transform="translate(138.80,430.32) scale(1,1.0)" x="0" y="0" font-size="8.6" text-anchor="end" fill="#1a1a1a" color="#1a1a1a" font-weight="normal" font-style="normal" >80</text>
<line x1="139.60" y1="411.20" x2="142.20" y2="411.20" stroke="#333" stroke-width="1.3"/>
<text transform="translate(138.80,414.30) scale(1,1.0)" x="0" y="0" font-size="8.6" text-anchor="end" fill="#1a1a1a" color="#1a1a1a" font-weight="normal" font-style="normal" >100</text>
<rect x="144.35" y="432.83" width="4.60" height="58.47" fill="none" stroke="#1a1a1a" stroke-width="1.1"/>
<line x1="146.65" y1="432.83" x2="146.65" y2="428.15" stroke="#1a1a1a" stroke-width="1.1"/>
<line x1="144.15" y1="428.15" x2="149.15" y2="428.15" stroke="#1a1a1a" stroke-width="1.1"/>
<circle cx="146.73" cy="424.11" r="1.3" fill="#1a1a1a"/>
<circle cx="144.95" cy="447.17" r="1.3" fill="#1a1a1a"/>
<circle cx="145.97" cy="442.63" r="1.3" fill="#1a1a1a"/>
<circle cx="148.56" cy="434.13" r="1.3" fill="#1a1a1a"/>
<circle cx="147.67" cy="442.19" r="1.3" fill="#1a1a1a"/>
<circle cx="147.22" cy="448.46" r="1.3" fill="#1a1a1a"/>
<circle cx="144.80" cy="444.06" r="1.3" fill="#1a1a1a"/>
<circle cx="146.96" cy="418.13" r="1.3" fill="#1a1a1a"/>
<rect x="151.15" y="447.25" width="4.40" height="44.06" fill="none" stroke="#f0553c" stroke-width="1.1"/>
<line x1="153.35" y1="447.25" x2="153.35" y2="443.72" stroke="#f0553c" stroke-width="1.1"/>
<line x1="150.85" y1="443.72" x2="155.85" y2="443.72" stroke="#f0553c" stroke-width="1.1"/>
<rect x="153.16" y="451.17" width="2.3" height="2.3" fill="#e8262b"/>
<rect x="153.77" y="446.16" width="2.3" height="2.3" fill="#e8262b"/>
<rect x="151.11" y="460.32" width="2.3" height="2.3" fill="#e8262b"/>
<rect x="150.85" y="452.47" width="2.3" height="2.3" fill="#e8262b"/>
<rect x="150.40" y="442.93" width="2.3" height="2.3" fill="#e8262b"/>
<rect x="151.30" y="448.31" width="2.3" height="2.3" fill="#e8262b"/>
<rect x="153.40" y="455.85" width="2.3" height="2.3" fill="#e8262b"/>
<rect x="151.89" y="459.17" width="2.3" height="2.3" fill="#e8262b"/>
<rect x="162.85" y="476.88" width="4.60" height="14.42" fill="none" stroke="#1a1a1a" stroke-width="1.1"/>
<line x1="165.15" y1="476.88" x2="165.15" y2="475.73" stroke="#1a1a1a" stroke-width="1.1"/>
<line x1="162.65" y1="475.73" x2="167.65" y2="475.73" stroke="#1a1a1a" stroke-width="1.1"/>
<circle cx="165.28" cy="478.10" r="1.3" fill="#1a1a1a"/>
<circle cx="166.10" cy="473.76" r="1.3" fill="#1a1a1a"/>
<circle cx="165.30" cy="474.22" r="1.3" fill="#1a1a1a"/>
<circle cx="164.05" cy="472.09" r="1.3" fill="#1a1a1a"/>
<circle cx="164.57" cy="482.88" r="1.3" fill="#1a1a1a"/>
<circle cx="165.67" cy="476.84" r="1.3" fill="#1a1a1a"/>
<circle cx="164.86" cy="470.94" r="1.3" fill="#1a1a1a"/>
<circle cx="166.71" cy="473.75" r="1.3" fill="#1a1a1a"/>
<rect x="169.55" y="473.68" width="4.10" height="17.62" fill="none" stroke="#f0553c" stroke-width="1.1"/>
<line x1="171.60" y1="473.68" x2="171.60" y2="472.27" stroke="#f0553c" stroke-width="1.1"/>
<line x1="169.10" y1="472.27" x2="174.10" y2="472.27" stroke="#f0553c" stroke-width="1.1"/>
<rect x="169.66" y="472.97" width="2.3" height="2.3" fill="#e8262b"/>
<rect x="171.65" y="469.18" width="2.3" height="2.3" fill="#e8262b"/>
<rect x="169.00" y="475.48" width="2.3" height="2.3" fill="#e8262b"/>
<rect x="169.25" y="468.53" width="2.3" height="2.3" fill="#e8262b"/>
<rect x="169.86" y="477.74" width="2.3" height="2.3" fill="#e8262b"/>
<rect x="170.60" y="474.57" width="2.3" height="2.3" fill="#e8262b"/>
<rect x="170.86" y="477.00" width="2.3" height="2.3" fill="#e8262b"/>
<rect x="181.35" y="482.49" width="4.10" height="8.81" fill="none" stroke="#1a1a1a" stroke-width="1.1"/>
<line x1="183.40" y1="482.49" x2="183.40" y2="481.78" stroke="#1a1a1a" stroke-width="1.1"/>
<line x1="180.90" y1="481.78" x2="185.90" y2="481.78" stroke="#1a1a1a" stroke-width="1.1"/>
<circle cx="185.21" cy="482.10" r="1.3" fill="#1a1a1a"/>
<circle cx="182.90" cy="483.25" r="1.3" fill="#1a1a1a"/>
<circle cx="183.90" cy="484.55" r="1.3" fill="#1a1a1a"/>
<circle cx="185.03" cy="479.30" r="1.3" fill="#1a1a1a"/>
<circle cx="185.04" cy="484.89" r="1.3" fill="#1a1a1a"/>
<circle cx="184.41" cy="482.20" r="1.3" fill="#1a1a1a"/>
<circle cx="182.22" cy="481.49" r="1.3" fill="#1a1a1a"/>
<rect x="187.85" y="480.09" width="4.20" height="11.21" fill="none" stroke="#f0553c" stroke-width="1.1"/>
<line x1="189.95" y1="480.09" x2="189.95" y2="479.19" stroke="#f0553c" stroke-width="1.1"/>
<line x1="187.45" y1="479.19" x2="192.45" y2="479.19" stroke="#f0553c" stroke-width="1.1"/>
<rect x="189.46" y="476.65" width="2.3" height="2.3" fill="#e8262b"/>
<rect x="188.24" y="475.74" width="2.3" height="2.3" fill="#e8262b"/>
<rect x="188.92" y="478.27" width="2.3" height="2.3" fill="#e8262b"/>
<rect x="187.93" y="478.03" width="2.3" height="2.3" fill="#e8262b"/>
<rect x="189.53" y="478.24" width="2.3" height="2.3" fill="#e8262b"/>
<rect x="187.84" y="480.48" width="2.3" height="2.3" fill="#e8262b"/>
<rect x="187.43" y="476.55" width="2.3" height="2.3" fill="#e8262b"/>
<line x1="150.20" y1="491.30" x2="150.20" y2="494.50" stroke="#1a1a1a" stroke-width="1"/>
<line x1="168.20" y1="491.30" x2="168.20" y2="494.50" stroke="#1a1a1a" stroke-width="1"/>
<line x1="186.70" y1="491.30" x2="186.70" y2="494.50" stroke="#1a1a1a" stroke-width="1"/>
<polygon points="150.00,405.95 151.11,407.57 153.00,408.13 151.80,409.68 151.85,411.65 150.00,410.99 148.15,411.65 148.20,409.68 147.00,408.13 148.89,407.57" fill="#1a1a1a"/>
<line x1="146.30" y1="413.80" x2="153.80" y2="413.80" stroke="#1a1a1a" stroke-width="1"/>
<text transform="translate(168.00,458.88) scale(1,1.0)" x="0" y="0" font-size="8" text-anchor="middle" fill="#1a1a1a" color="#1a1a1a" font-weight="normal" font-style="normal" >NS</text>
<line x1="164.00" y1="461.60" x2="172.00" y2="461.60" stroke="#1a1a1a" stroke-width="1"/>
<text transform="translate(186.30,467.68) scale(1,1.0)" x="0" y="0" font-size="8" text-anchor="middle" fill="#1a1a1a" color="#1a1a1a" font-weight="normal" font-style="normal" >NS</text>
<line x1="182.30" y1="470.00" x2="190.30" y2="470.00" stroke="#1a1a1a" stroke-width="1"/>
<text transform="translate(150.00,503.36) scale(1,1.0)" x="0" y="0" font-size="8.5" text-anchor="middle" fill="#1a1a1a" color="#1a1a1a" font-weight="normal" font-style="normal" >CD8</text>
<text transform="translate(169.00,503.36) scale(1,1.0)" x="0" y="0" font-size="8.5" text-anchor="middle" fill="#1a1a1a" color="#1a1a1a" font-weight="normal" font-style="normal" >CD4</text>
<text transform="translate(187.30,503.36) scale(1,1.0)" x="0" y="0" font-size="8.5" text-anchor="middle" fill="#1a1a1a" color="#1a1a1a" font-weight="normal" font-style="normal" >NK</text>
<text transform="translate(117.50,452.50) rotate(-90) scale(1,1.0)" x="0" y="3.20" font-size="8.9" text-anchor="middle" fill="#1a1a1a" color="#1a1a1a" font-style="normal">Cell counts/g (x10<tspan font-size="64%" baseline-shift="44%">5</tspan>)</text>
<text x="234.50" y="200.02" font-size="14" font-weight="bold" fill="#000">E</text>
<circle cx="398.30" cy="206.90" r="1.3" fill="#1a1a1a"/>
<rect x="397.15" y="216.25" width="2.3" height="2.3" fill="#e8262b"/>
<text transform="translate(407.40,210.07) scale(1,1.0)" x="0" y="0" font-size="8.8" text-anchor="start" fill="#1a1a1a" color="#1a1a1a" font-weight="normal" font-style="normal" ><tspan font-style="italic">Gsdmd</tspan><tspan font-size="64%" baseline-shift="44%"><tspan font-style="italic">fl/fl</tspan></tspan></text>
<text transform="translate(407.40,220.57) scale(1,1.0)" x="0" y="0" font-size="8.8" text-anchor="start" fill="#e8262b" color="#e8262b" font-weight="normal" font-style="normal" ><tspan font-style="italic">Gsdmd</tspan><tspan font-size="64%" baseline-shift="44%"><tspan font-style="italic">fl/fl</tspan></tspan><tspan font-style="italic">CD4</tspan><tspan font-size="64%" baseline-shift="44%"><tspan font-style="italic">cre</tspan></tspan></text>
<line x1="396.40" y1="231.60" x2="396.40" y2="311.80" stroke="#333" stroke-width="1.3"/>
<line x1="395.90" y1="311.80" x2="475.50" y2="311.80" stroke="#333" stroke-width="1.3"/>
<line x1="393.80" y1="311.80" x2="396.40" y2="311.80" stroke="#333" stroke-width="1.3"/>
<text transform="translate(393.00,314.90) scale(1,1.0)" x="0" y="0" font-size="8.6" text-anchor="end" fill="#1a1a1a" color="#1a1a1a" font-weight="normal" font-style="normal" >0</text>
<line x1="393.80" y1="295.86" x2="396.40" y2="295.86" stroke="#333" stroke-width="1.3"/>
<text transform="translate(393.00,298.96) scale(1,1.0)" x="0" y="0" font-size="8.6" text-anchor="end" fill="#1a1a1a" color="#1a1a1a" font-weight="normal" font-style="normal" >20</text>
<line x1="393.80" y1="279.92" x2="396.40" y2="279.92" stroke="#333" stroke-width="1.3"/>
<text transform="translate(393.00,283.02) scale(1,1.0)" x="0" y="0" font-size="8.6" text-anchor="end" fill="#1a1a1a" color="#1a1a1a" font-weight="normal" font-style="normal" >40</text>
<line x1="393.80" y1="263.98" x2="396.40" y2="263.98" stroke="#333" stroke-width="1.3"/>
<text transform="translate(393.00,267.08) scale(1,1.0)" x="0" y="0" font-size="8.6" text-anchor="end" fill="#1a1a1a" color="#1a1a1a" font-weight="normal" font-style="normal" >60</text>
<line x1="393.80" y1="248.04" x2="396.40" y2="248.04" stroke="#333" stroke-width="1.3"/>
<text transform="translate(393.00,251.14) scale(1,1.0)" x="0" y="0" font-size="8.6" text-anchor="end" fill="#1a1a1a" color="#1a1a1a" font-weight="normal" font-style="normal" >80</text>
<line x1="393.80" y1="232.10" x2="396.40" y2="232.10" stroke="#333" stroke-width="1.3"/>
<text transform="translate(393.00,235.20) scale(1,1.0)" x="0" y="0" font-size="8.6" text-anchor="end" fill="#1a1a1a" color="#1a1a1a" font-weight="normal" font-style="normal" >100</text>
<rect x="400.15" y="260.00" width="4.20" height="51.81" fill="none" stroke="#1a1a1a" stroke-width="1.1"/>
<line x1="402.25" y1="260.00" x2="402.25" y2="255.85" stroke="#1a1a1a" stroke-width="1.1"/>
<line x1="399.75" y1="255.85" x2="404.75" y2="255.85" stroke="#1a1a1a" stroke-width="1.1"/>
<circle cx="401.93" cy="269.23" r="1.3" fill="#1a1a1a"/>
<circle cx="403.55" cy="255.26" r="1.3" fill="#1a1a1a"/>
<circle cx="402.01" cy="253.03" r="1.3" fill="#1a1a1a"/>
<circle cx="403.91" cy="264.51" r="1.3" fill="#1a1a1a"/>
<circle cx="402.93" cy="265.90" r="1.3" fill="#1a1a1a"/>
<circle cx="400.65" cy="269.91" r="1.3" fill="#1a1a1a"/>
<circle cx="403.07" cy="248.91" r="1.3" fill="#1a1a1a"/>
<circle cx="401.37" cy="263.95" r="1.3" fill="#1a1a1a"/>
<rect x="407.35" y="279.92" width="4.10" height="31.88" fill="none" stroke="#f0553c" stroke-width="1.1"/>
<line x1="409.40" y1="279.92" x2="409.40" y2="277.37" stroke="#f0553c" stroke-width="1.1"/>
<line x1="406.90" y1="277.37" x2="411.90" y2="277.37" stroke="#f0553c" stroke-width="1.1"/>
<rect x="409.95" y="276.62" width="2.3" height="2.3" fill="#e8262b"/>
<rect x="409.20" y="291.92" width="2.3" height="2.3" fill="#e8262b"/>
<rect x="406.98" y="273.97" width="2.3" height="2.3" fill="#e8262b"/>
<rect x="407.05" y="269.57" width="2.3" height="2.3" fill="#e8262b"/>
<rect x="409.30" y="275.69" width="2.3" height="2.3" fill="#e8262b"/>
<rect x="409.80" y="275.76" width="2.3" height="2.3" fill="#e8262b"/>
<rect x="409.96" y="282.74" width="2.3" height="2.3" fill="#e8262b"/>
<rect x="406.45" y="271.66" width="2.3" height="2.3" fill="#e8262b"/>
<rect x="420.15" y="287.89" width="4.60" height="23.91" fill="none" stroke="#1a1a1a" stroke-width="1.1"/>
<line x1="422.45" y1="287.89" x2="422.45" y2="285.98" stroke="#1a1a1a" stroke-width="1.1"/>
<line x1="419.95" y1="285.98" x2="424.95" y2="285.98" stroke="#1a1a1a" stroke-width="1.1"/>
<circle cx="422.15" cy="296.40" r="1.3" fill="#1a1a1a"/>
<circle cx="423.33" cy="296.80" r="1.3" fill="#1a1a1a"/>
<circle cx="420.99" cy="282.89" r="1.3" fill="#1a1a1a"/>
<circle cx="424.13" cy="289.61" r="1.3" fill="#1a1a1a"/>
<circle cx="421.02" cy="297.15" r="1.3" fill="#1a1a1a"/>
<circle cx="424.04" cy="277.37" r="1.3" fill="#1a1a1a"/>
<circle cx="421.71" cy="292.42" r="1.3" fill="#1a1a1a"/>
<circle cx="421.08" cy="283.70" r="1.3" fill="#1a1a1a"/>
<rect x="427.55" y="303.83" width="4.60" height="7.97" fill="none" stroke="#f0553c" stroke-width="1.1"/>
<line x1="429.85" y1="303.83" x2="429.85" y2="303.19" stroke="#f0553c" stroke-width="1.1"/>
<line x1="427.35" y1="303.19" x2="432.35" y2="303.19" stroke="#f0553c" stroke-width="1.1"/>
<rect x="426.97" y="302.11" width="2.3" height="2.3" fill="#e8262b"/>
<rect x="428.70" y="303.36" width="2.3" height="2.3" fill="#e8262b"/>
<rect x="430.49" y="303.85" width="2.3" height="2.3" fill="#e8262b"/>
<rect x="429.39" y="302.42" width="2.3" height="2.3" fill="#e8262b"/>
<rect x="430.64" y="302.30" width="2.3" height="2.3" fill="#e8262b"/>
<rect x="429.13" y="304.89" width="2.3" height="2.3" fill="#e8262b"/>
<rect x="427.42" y="300.47" width="2.3" height="2.3" fill="#e8262b"/>
<rect x="430.40" y="303.88" width="2.3" height="2.3" fill="#e8262b"/>
<rect x="440.55" y="290.28" width="4.20" height="21.52" fill="none" stroke="#1a1a1a" stroke-width="1.1"/>
<line x1="442.65" y1="290.28" x2="442.65" y2="288.56" stroke="#1a1a1a" stroke-width="1.1"/>
<line x1="440.15" y1="288.56" x2="445.15" y2="288.56" stroke="#1a1a1a" stroke-width="1.1"/>
<circle cx="444.37" cy="284.77" r="1.3" fill="#1a1a1a"/>
<circle cx="440.92" cy="279.24" r="1.3" fill="#1a1a1a"/>
<circle cx="441.40" cy="286.69" r="1.3" fill="#1a1a1a"/>
<circle cx="441.11" cy="301.13" r="1.3" fill="#1a1a1a"/>
<circle cx="443.93" cy="285.40" r="1.3" fill="#1a1a1a"/>
<circle cx="441.25" cy="296.07" r="1.3" fill="#1a1a1a"/>
<circle cx="441.41" cy="296.90" r="1.3" fill="#1a1a1a"/>
<circle cx="442.01" cy="297.95" r="1.3" fill="#1a1a1a"/>
<rect x="447.55" y="301.44" width="4.60" height="10.36" fill="none" stroke="#f0553c" stroke-width="1.1"/>
<line x1="449.85" y1="301.44" x2="449.85" y2="300.61" stroke="#f0553c" stroke-width="1.1"/>
<line x1="447.35" y1="300.61" x2="452.35" y2="300.61" stroke="#f0553c" stroke-width="1.1"/>
<rect x="450.52" y="299.10" width="2.3" height="2.3" fill="#e8262b"/>
<rect x="446.94" y="304.61" width="2.3" height="2.3" fill="#e8262b"/>
<rect x="449.45" y="298.46" width="2.3" height="2.3" fill="#e8262b"/>
<rect x="447.83" y="296.52" width="2.3" height="2.3" fill="#e8262b"/>
<rect x="447.57" y="302.48" width="2.3" height="2.3" fill="#e8262b"/>
<rect x="449.39" y="301.60" width="2.3" height="2.3" fill="#e8262b"/>
<rect x="448.31" y="299.09" width="2.3" height="2.3" fill="#e8262b"/>
<rect x="447.40" y="302.25" width="2.3" height="2.3" fill="#e8262b"/>
<rect x="461.25" y="280.72" width="4.60" height="31.08" fill="none" stroke="#1a1a1a" stroke-width="1.1"/>
<line x1="463.55" y1="280.72" x2="463.55" y2="278.23" stroke="#1a1a1a" stroke-width="1.1"/>
<line x1="461.05" y1="278.23" x2="466.05" y2="278.23" stroke="#1a1a1a" stroke-width="1.1"/>
<circle cx="463.17" cy="276.61" r="1.3" fill="#1a1a1a"/>
<circle cx="464.11" cy="279.42" r="1.3" fill="#1a1a1a"/>
<circle cx="461.69" cy="290.48" r="1.3" fill="#1a1a1a"/>
<circle cx="464.04" cy="271.34" r="1.3" fill="#1a1a1a"/>
<circle cx="464.14" cy="288.91" r="1.3" fill="#1a1a1a"/>
<circle cx="464.36" cy="272.16" r="1.3" fill="#1a1a1a"/>
<circle cx="463.44" cy="282.69" r="1.3" fill="#1a1a1a"/>
<circle cx="462.18" cy="278.08" r="1.3" fill="#1a1a1a"/>
<rect x="468.45" y="298.25" width="4.80" height="13.55" fill="none" stroke="#f0553c" stroke-width="1.1"/>
<line x1="470.85" y1="298.25" x2="470.85" y2="297.17" stroke="#f0553c" stroke-width="1.1"/>
<line x1="468.35" y1="297.17" x2="473.35" y2="297.17" stroke="#f0553c" stroke-width="1.1"/>
<rect x="470.77" y="294.46" width="2.3" height="2.3" fill="#e8262b"/>
<rect x="471.27" y="291.65" width="2.3" height="2.3" fill="#e8262b"/>
<rect x="468.57" y="292.22" width="2.3" height="2.3" fill="#e8262b"/>
<rect x="468.25" y="302.28" width="2.3" height="2.3" fill="#e8262b"/>
<rect x="468.19" y="297.38" width="2.3" height="2.3" fill="#e8262b"/>
<rect x="470.56" y="295.95" width="2.3" height="2.3" fill="#e8262b"/>
<rect x="468.53" y="295.63" width="2.3" height="2.3" fill="#e8262b"/>
<rect x="467.70" y="301.63" width="2.3" height="2.3" fill="#e8262b"/>
<line x1="405.85" y1="311.80" x2="405.85" y2="315.00" stroke="#1a1a1a" stroke-width="1"/>
<text transform="translate(409.15,320.30) rotate(-45) scale(1,1.0)" x="0" y="0" font-size="9" text-anchor="end" fill="#1a1a1a" color="#1a1a1a">IFNγ<tspan font-size="64%" baseline-shift="44%">+</tspan>CD8<tspan font-size="64%" baseline-shift="44%">+</tspan></text>
<line x1="426.15" y1="311.80" x2="426.15" y2="315.00" stroke="#1a1a1a" stroke-width="1"/>
<text transform="translate(429.45,320.30) rotate(-45) scale(1,1.0)" x="0" y="0" font-size="9" text-anchor="end" fill="#1a1a1a" color="#1a1a1a">GZMB<tspan font-size="64%" baseline-shift="44%">+</tspan>CD8<tspan font-size="64%" baseline-shift="44%">+</tspan></text>
<line x1="446.15" y1="311.80" x2="446.15" y2="315.00" stroke="#1a1a1a" stroke-width="1"/>
<text transform="translate(449.45,320.30) rotate(-45) scale(1,1.0)" x="0" y="0" font-size="9" text-anchor="end" fill="#1a1a1a" color="#1a1a1a">IFNγ<tspan font-size="64%" baseline-shift="44%">+</tspan>CD4<tspan font-size="64%" baseline-shift="44%">+</tspan></text>
<line x1="467.15" y1="311.80" x2="467.15" y2="315.00" stroke="#1a1a1a" stroke-width="1"/>
<text transform="translate(470.45,320.30) rotate(-45) scale(1,1.0)" x="0" y="0" font-size="9" text-anchor="end" fill="#1a1a1a" color="#1a1a1a">IFNγ<tspan font-size="64%" baseline-shift="44%">+</tspan>NK1.1<tspan font-size="64%" baseline-shift="44%">+</tspan></text>
<polygon points="401.30,237.25 402.41,238.87 404.30,239.43 403.10,240.98 403.15,242.95 401.30,242.29 399.45,242.95 399.50,240.98 398.30,239.43 400.19,238.87" fill="#1a1a1a"/>
<polygon points="406.80,237.25 407.91,238.87 409.80,239.43 408.60,240.98 408.65,242.95 406.80,242.29 404.95,242.95 405.00,240.98 403.80,239.43 405.69,238.87" fill="#1a1a1a"/>
<polygon points="412.30,237.25 413.41,238.87 415.30,239.43 414.10,240.98 414.15,242.95 412.30,242.29 410.45,242.95 410.50,240.98 409.30,239.43 411.19,238.87" fill="#1a1a1a"/>
<line x1="402.00" y1="244.40" x2="411.00" y2="244.40" stroke="#1a1a1a" stroke-width="1"/>
<polygon points="417.05,256.15 418.16,257.77 420.05,258.33 418.85,259.88 418.90,261.85 417.05,261.19 415.20,261.85 415.25,259.88 414.05,258.33 415.94,257.77" fill="#1a1a1a"/>
<polygon points="422.55,256.15 423.66,257.77 425.55,258.33 424.35,259.88 424.40,261.85 422.55,261.19 420.70,261.85 420.75,259.88 419.55,258.33 421.44,257.77" fill="#1a1a1a"/>
<polygon points="428.05,256.15 429.16,257.77 431.05,258.33 429.85,259.88 429.90,261.85 428.05,261.19 426.20,261.85 426.25,259.88 425.05,258.33 426.94,257.77" fill="#1a1a1a"/>
<polygon points="433.55,256.15 434.66,257.77 436.55,258.33 435.35,259.88 435.40,261.85 433.55,261.19 431.70,261.85 431.75,259.88 430.55,258.33 432.44,257.77" fill="#1a1a1a"/>
<line x1="422.00" y1="265.90" x2="431.60" y2="265.90" stroke="#1a1a1a" stroke-width="1"/>
<polygon points="441.30,259.25 442.41,260.87 444.30,261.43 443.10,262.98 443.15,264.95 441.30,264.29 439.45,264.95 439.50,262.98 438.30,261.43 440.19,260.87" fill="#1a1a1a"/>
<polygon points="446.80,259.25 447.91,260.87 449.80,261.43 448.60,262.98 448.65,264.95 446.80,264.29 444.95,264.95 445.00,262.98 443.80,261.43 445.69,260.87" fill="#1a1a1a"/>
<polygon points="452.30,259.25 453.41,260.87 455.30,261.43 454.10,262.98 454.15,264.95 452.30,264.29 450.45,264.95 450.50,262.98 449.30,261.43 451.19,260.87" fill="#1a1a1a"/>
<line x1="442.80" y1="267.50" x2="451.70" y2="267.50" stroke="#1a1a1a" stroke-width="1"/>
<polygon points="462.00,252.55 463.11,254.17 465.00,254.73 463.80,256.28 463.85,258.25 462.00,257.59 460.15,258.25 460.20,256.28 459.00,254.73 460.89,254.17" fill="#1a1a1a"/>
<polygon points="467.50,252.55 468.61,254.17 470.50,254.73 469.30,256.28 469.35,258.25 467.50,257.59 465.65,258.25 465.70,256.28 464.50,254.73 466.39,254.17" fill="#1a1a1a"/>
<polygon points="473.00,252.55 474.11,254.17 476.00,254.73 474.80,256.28 474.85,258.25 473.00,257.59 471.15,258.25 471.20,256.28 470.00,254.73 471.89,254.17" fill="#1a1a1a"/>
<line x1="463.00" y1="259.10" x2="472.70" y2="259.10" stroke="#1a1a1a" stroke-width="1"/>
<text transform="translate(376.00,269.50) rotate(-90) scale(1,1.0)" x="0" y="3.20" font-size="8.9" text-anchor="middle" fill="#1a1a1a" color="#1a1a1a" font-style="normal">% of T/NK cells</text>
<text transform="translate(491.60,207.54) scale(1,1.0)" x="0" y="0" font-size="9" text-anchor="start" fill="#1a1a1a" color="#1a1a1a" font-weight="normal" font-style="normal" >MC38</text>
<line x1="521.80" y1="231.60" x2="521.80" y2="311.80" stroke="#333" stroke-width="1.3"/>
<line x1="521.30" y1="311.80" x2="604.00" y2="311.80" stroke="#333" stroke-width="1.3"/>
<line x1="519.20" y1="311.80" x2="521.80" y2="311.80" stroke="#333" stroke-width="1.3"/>
<text transform="translate(518.40,314.90) scale(1,1.0)" x="0" y="0" font-size="8.6" text-anchor="end" fill="#1a1a1a" color="#1a1a1a" font-weight="normal" font-style="normal" >0</text>
<line x1="519.20" y1="285.23" x2="521.80" y2="285.23" stroke="#333" stroke-width="1.3"/>
<text transform="translate(518.40,288.33) scale(1,1.0)" x="0" y="0" font-size="8.6" text-anchor="end" fill="#1a1a1a" color="#1a1a1a" font-weight="normal" font-style="normal" >5</text>
<line x1="519.20" y1="258.67" x2="521.80" y2="258.67" stroke="#333" stroke-width="1.3"/>
<text transform="translate(518.40,261.76) scale(1,1.0)" x="0" y="0" font-size="8.6" text-anchor="end" fill="#1a1a1a" color="#1a1a1a" font-weight="normal" font-style="normal" >10</text>
<line x1="519.20" y1="232.10" x2="521.80" y2="232.10" stroke="#333" stroke-width="1.3"/>
<text transform="translate(518.40,235.20) scale(1,1.0)" x="0" y="0" font-size="8.6" text-anchor="end" fill="#1a1a1a" color="#1a1a1a" font-weight="normal" font-style="normal" >15</text>
<rect x="525.05" y="267.70" width="4.60" height="44.10" fill="none" stroke="#1a1a1a" stroke-width="1.1"/>
<line x1="527.35" y1="267.70" x2="527.35" y2="264.17" stroke="#1a1a1a" stroke-width="1.1"/>
<line x1="524.85" y1="264.17" x2="529.85" y2="264.17" stroke="#1a1a1a" stroke-width="1.1"/>
<circle cx="526.72" cy="239.01" r="1.3" fill="#1a1a1a"/>
<circle cx="525.48" cy="252.29" r="1.3" fill="#1a1a1a"/>
<circle cx="528.93" cy="253.88" r="1.3" fill="#1a1a1a"/>
<circle cx="527.40" cy="257.60" r="1.3" fill="#1a1a1a"/>
<circle cx="525.74" cy="262.92" r="1.3" fill="#1a1a1a"/>
<circle cx="527.81" cy="267.70" r="1.3" fill="#1a1a1a"/>
<circle cx="527.31" cy="297.45" r="1.3" fill="#1a1a1a"/>
<circle cx="526.50" cy="299.58" r="1.3" fill="#1a1a1a"/>
<rect x="532.85" y="295.33" width="4.60" height="16.47" fill="none" stroke="#f0553c" stroke-width="1.1"/>
<line x1="535.15" y1="295.33" x2="535.15" y2="294.01" stroke="#f0553c" stroke-width="1.1"/>
<line x1="532.65" y1="294.01" x2="537.65" y2="294.01" stroke="#f0553c" stroke-width="1.1"/>
<rect x="532.62" y="256.45" width="2.3" height="2.3" fill="#e8262b"/>
<rect x="534.08" y="285.68" width="2.3" height="2.3" fill="#e8262b"/>
<rect x="532.86" y="292.05" width="2.3" height="2.3" fill="#e8262b"/>
<rect x="533.26" y="298.43" width="2.3" height="2.3" fill="#e8262b"/>
<rect x="533.09" y="302.68" width="2.3" height="2.3" fill="#e8262b"/>
<rect x="533.09" y="305.87" width="2.3" height="2.3" fill="#e8262b"/>
<rect x="533.72" y="295.77" width="2.3" height="2.3" fill="#e8262b"/>
<rect x="546.55" y="291.08" width="4.20" height="20.72" fill="none" stroke="#1a1a1a" stroke-width="1.1"/>
<line x1="548.65" y1="291.08" x2="548.65" y2="289.42" stroke="#1a1a1a" stroke-width="1.1"/>
<line x1="546.15" y1="289.42" x2="551.15" y2="289.42" stroke="#1a1a1a" stroke-width="1.1"/>
<circle cx="546.88" cy="276.20" r="1.3" fill="#1a1a1a"/>
<circle cx="549.38" cy="280.45" r="1.3" fill="#1a1a1a"/>
<circle cx="550.05" cy="282.58" r="1.3" fill="#1a1a1a"/>
<circle cx="546.81" cy="286.83" r="1.3" fill="#1a1a1a"/>
<circle cx="547.86" cy="291.08" r="1.3" fill="#1a1a1a"/>
<circle cx="546.82" cy="295.33" r="1.3" fill="#1a1a1a"/>
<circle cx="549.02" cy="299.58" r="1.3" fill="#1a1a1a"/>
<circle cx="549.32" cy="304.89" r="1.3" fill="#1a1a1a"/>
<rect x="553.55" y="308.08" width="4.50" height="3.72" fill="none" stroke="#f0553c" stroke-width="1.1"/>
<line x1="555.80" y1="308.08" x2="555.80" y2="307.78" stroke="#f0553c" stroke-width="1.1"/>
<line x1="553.30" y1="307.78" x2="558.30" y2="307.78" stroke="#f0553c" stroke-width="1.1"/>
<rect x="555.92" y="304.40" width="2.3" height="2.3" fill="#e8262b"/>
<rect x="555.00" y="306.15" width="2.3" height="2.3" fill="#e8262b"/>
<rect x="554.22" y="308.67" width="2.3" height="2.3" fill="#e8262b"/>
<rect x="553.85" y="304.92" width="2.3" height="2.3" fill="#e8262b"/>
<rect x="554.32" y="305.66" width="2.3" height="2.3" fill="#e8262b"/>
<rect x="555.98" y="309.21" width="2.3" height="2.3" fill="#e8262b"/>
<rect x="552.74" y="307.39" width="2.3" height="2.3" fill="#e8262b"/>
<rect x="555.37" y="308.41" width="2.3" height="2.3" fill="#e8262b"/>
<rect x="566.55" y="305.96" width="4.20" height="5.84" fill="none" stroke="#1a1a1a" stroke-width="1.1"/>
<line x1="568.65" y1="305.96" x2="568.65" y2="305.49" stroke="#1a1a1a" stroke-width="1.1"/>
<line x1="566.15" y1="305.49" x2="571.15" y2="305.49" stroke="#1a1a1a" stroke-width="1.1"/>
<circle cx="569.89" cy="299.05" r="1.3" fill="#1a1a1a"/>
<circle cx="567.02" cy="303.83" r="1.3" fill="#1a1a1a"/>
<circle cx="569.38" cy="308.08" r="1.3" fill="#1a1a1a"/>
<circle cx="569.47" cy="310.21" r="1.3" fill="#1a1a1a"/>
<circle cx="568.31" cy="309.14" r="1.3" fill="#1a1a1a"/>
<rect x="573.95" y="309.67" width="4.20" height="2.13" fill="none" stroke="#f0553c" stroke-width="1.1"/>
<line x1="576.05" y1="309.67" x2="576.05" y2="309.50" stroke="#f0553c" stroke-width="1.1"/>
<line x1="573.55" y1="309.50" x2="578.55" y2="309.50" stroke="#f0553c" stroke-width="1.1"/>
<rect x="573.43" y="310.00" width="2.3" height="2.3" fill="#e8262b"/>
<rect x="576.32" y="309.77" width="2.3" height="2.3" fill="#e8262b"/>
<rect x="573.25" y="309.98" width="2.3" height="2.3" fill="#e8262b"/>
<rect x="575.44" y="309.29" width="2.3" height="2.3" fill="#e8262b"/>
<rect x="574.97" y="307.22" width="2.3" height="2.3" fill="#e8262b"/>
<rect x="573.18" y="306.91" width="2.3" height="2.3" fill="#e8262b"/>
<rect x="574.78" y="309.34" width="2.3" height="2.3" fill="#e8262b"/>
<rect x="576.65" y="307.66" width="2.3" height="2.3" fill="#e8262b"/>
<rect x="587.05" y="305.96" width="4.40" height="5.84" fill="none" stroke="#1a1a1a" stroke-width="1.1"/>
<line x1="589.25" y1="305.96" x2="589.25" y2="305.49" stroke="#1a1a1a" stroke-width="1.1"/>
<line x1="586.75" y1="305.49" x2="591.75" y2="305.49" stroke="#1a1a1a" stroke-width="1.1"/>
<circle cx="589.83" cy="306.46" r="1.3" fill="#1a1a1a"/>
<circle cx="587.97" cy="306.75" r="1.3" fill="#1a1a1a"/>
<circle cx="589.77" cy="306.49" r="1.3" fill="#1a1a1a"/>
<circle cx="587.74" cy="305.28" r="1.3" fill="#1a1a1a"/>
<circle cx="588.58" cy="306.15" r="1.3" fill="#1a1a1a"/>
<circle cx="589.09" cy="306.75" r="1.3" fill="#1a1a1a"/>
<circle cx="588.49" cy="304.87" r="1.3" fill="#1a1a1a"/>
<circle cx="590.04" cy="305.59" r="1.3" fill="#1a1a1a"/>
<rect x="594.55" y="309.67" width="4.60" height="2.13" fill="none" stroke="#f0553c" stroke-width="1.1"/>
<line x1="596.85" y1="309.67" x2="596.85" y2="309.50" stroke="#f0553c" stroke-width="1.1"/>
<line x1="594.35" y1="309.50" x2="599.35" y2="309.50" stroke="#f0553c" stroke-width="1.1"/>
<rect x="594.39" y="308.78" width="2.3" height="2.3" fill="#e8262b"/>
<rect x="597.41" y="308.82" width="2.3" height="2.3" fill="#e8262b"/>
<rect x="595.44" y="308.98" width="2.3" height="2.3" fill="#e8262b"/>
<rect x="596.16" y="308.59" width="2.3" height="2.3" fill="#e8262b"/>
<rect x="593.79" y="307.70" width="2.3" height="2.3" fill="#e8262b"/>
<rect x="595.65" y="309.88" width="2.3" height="2.3" fill="#e8262b"/>
<rect x="595.88" y="307.25" width="2.3" height="2.3" fill="#e8262b"/>
<rect x="597.30" y="308.87" width="2.3" height="2.3" fill="#e8262b"/>
<line x1="531.25" y1="311.80" x2="531.25" y2="315.00" stroke="#1a1a1a" stroke-width="1"/>
<text transform="translate(534.55,320.30) rotate(-45) scale(1,1.0)" x="0" y="0" font-size="9" text-anchor="end" fill="#1a1a1a" color="#1a1a1a">IFNγ<tspan font-size="64%" baseline-shift="44%">+</tspan>CD8<tspan font-size="64%" baseline-shift="44%">+</tspan></text>
<line x1="552.15" y1="311.80" x2="552.15" y2="315.00" stroke="#1a1a1a" stroke-width="1"/>
<text transform="translate(555.45,320.30) rotate(-45) scale(1,1.0)" x="0" y="0" font-size="9" text-anchor="end" fill="#1a1a1a" color="#1a1a1a">GZMB<tspan font-size="64%" baseline-shift="44%">+</tspan>CD8<tspan font-size="64%" baseline-shift="44%">+</tspan></text>
<line x1="572.35" y1="311.80" x2="572.35" y2="315.00" stroke="#1a1a1a" stroke-width="1"/>
<text transform="translate(575.65,320.30) rotate(-45) scale(1,1.0)" x="0" y="0" font-size="9" text-anchor="end" fill="#1a1a1a" color="#1a1a1a">IFNγ<tspan font-size="64%" baseline-shift="44%">+</tspan>CD4<tspan font-size="64%" baseline-shift="44%">+</tspan></text>
<line x1="593.00" y1="311.80" x2="593.00" y2="315.00" stroke="#1a1a1a" stroke-width="1"/>
<text transform="translate(596.30,320.30) rotate(-45) scale(1,1.0)" x="0" y="0" font-size="9" text-anchor="end" fill="#1a1a1a" color="#1a1a1a">IFNγ<tspan font-size="64%" baseline-shift="44%">+</tspan>NK1.1<tspan font-size="64%" baseline-shift="44%">+</tspan></text>
<polygon points="527.45,225.15 528.56,226.77 530.45,227.33 529.25,228.88 529.30,230.85 527.45,230.19 525.60,230.85 525.65,228.88 524.45,227.33 526.34,226.77" fill="#1a1a1a"/>
<polygon points="532.95,225.15 534.06,226.77 535.95,227.33 534.75,228.88 534.80,230.85 532.95,230.19 531.10,230.85 531.15,228.88 529.95,227.33 531.84,226.77" fill="#1a1a1a"/>
<line x1="527.00" y1="234.20" x2="534.40" y2="234.20" stroke="#1a1a1a" stroke-width="1"/>
<polygon points="546.40,263.55 547.51,265.17 549.40,265.73 548.20,267.28 548.25,269.25 546.40,268.59 544.55,269.25 544.60,267.28 543.40,265.73 545.29,265.17" fill="#1a1a1a"/>
<polygon points="551.90,263.55 553.01,265.17 554.90,265.73 553.70,267.28 553.75,269.25 551.90,268.59 550.05,269.25 550.10,267.28 548.90,265.73 550.79,265.17" fill="#1a1a1a"/>
<polygon points="557.40,263.55 558.51,265.17 560.40,265.73 559.20,267.28 559.25,269.25 557.40,268.59 555.55,269.25 555.60,267.28 554.40,265.73 556.29,265.17" fill="#1a1a1a"/>
<line x1="549.00" y1="271.10" x2="555.50" y2="271.10" stroke="#1a1a1a" stroke-width="1"/>
<polygon points="573.40,282.45 574.51,284.07 576.40,284.63 575.20,286.18 575.25,288.15 573.40,287.49 571.55,288.15 571.60,286.18 570.40,284.63 572.29,284.07" fill="#1a1a1a"/>
<line x1="570.00" y1="291.60" x2="577.00" y2="291.60" stroke="#1a1a1a" stroke-width="1"/>
<polygon points="589.40,289.85 590.51,291.47 592.40,292.03 591.20,293.58 591.25,295.55 589.40,294.89 587.55,295.55 587.60,293.58 586.40,292.03 588.29,291.47" fill="#1a1a1a"/>
<polygon points="594.90,289.85 596.01,291.47 597.90,292.03 596.70,293.58 596.75,295.55 594.90,294.89 593.05,295.55 593.10,293.58 591.90,292.03 593.79,291.47" fill="#1a1a1a"/>
<polygon points="600.40,289.85 601.51,291.47 603.40,292.03 602.20,293.58 602.25,295.55 600.40,294.89 598.55,295.55 598.60,293.58 597.40,292.03 599.29,291.47" fill="#1a1a1a"/>
<line x1="591.00" y1="297.90" x2="598.70" y2="297.90" stroke="#1a1a1a" stroke-width="1"/>
<text transform="translate(502.00,272.20) rotate(-90) scale(1,1.0)" x="0" y="3.20" font-size="8.9" text-anchor="middle" fill="#1a1a1a" color="#1a1a1a" font-style="normal">Cell counts/g (x10<tspan font-size="64%" baseline-shift="44%">5</tspan>)</text>
<text x="233.00" y="389.02" font-size="14" font-weight="bold" fill="#000">G</text>
<circle cx="396.20" cy="385.80" r="1.3" fill="#1a1a1a"/>
<rect x="395.05" y="396.25" width="2.3" height="2.3" fill="#e8262b"/>
<text transform="translate(406.00,388.97) scale(1,1.0)" x="0" y="0" font-size="8.8" text-anchor="start" fill="#1a1a1a" color="#1a1a1a" font-weight="normal" font-style="normal" ><tspan font-style="italic">Gsdmd</tspan><tspan font-size="64%" baseline-shift="44%"><tspan font-style="italic">fl/fl</tspan></tspan></text>
<text transform="translate(406.00,400.57) scale(1,1.0)" x="0" y="0" font-size="8.8" text-anchor="start" fill="#e8262b" color="#e8262b" font-weight="normal" font-style="normal" ><tspan font-style="italic">Gsdmd</tspan><tspan font-size="64%" baseline-shift="44%"><tspan font-style="italic">fl/fl</tspan></tspan><tspan font-style="italic">CD4</tspan><tspan font-size="64%" baseline-shift="44%"><tspan font-style="italic">cre</tspan></tspan></text>
<line x1="395.50" y1="411.60" x2="395.50" y2="491.60" stroke="#333" stroke-width="1.3"/>
<line x1="395.00" y1="491.60" x2="474.80" y2="491.60" stroke="#333" stroke-width="1.3"/>
<line x1="392.90" y1="491.60" x2="395.50" y2="491.60" stroke="#333" stroke-width="1.3"/>
<text transform="translate(392.10,494.70) scale(1,1.0)" x="0" y="0" font-size="8.6" text-anchor="end" fill="#1a1a1a" color="#1a1a1a" font-weight="normal" font-style="normal" >0</text>
<line x1="392.90" y1="471.73" x2="395.50" y2="471.73" stroke="#333" stroke-width="1.3"/>
<text transform="translate(392.10,474.82) scale(1,1.0)" x="0" y="0" font-size="8.6" text-anchor="end" fill="#1a1a1a" color="#1a1a1a" font-weight="normal" font-style="normal" >20</text>
<line x1="392.90" y1="451.85" x2="395.50" y2="451.85" stroke="#333" stroke-width="1.3"/>
<text transform="translate(392.10,454.95) scale(1,1.0)" x="0" y="0" font-size="8.6" text-anchor="end" fill="#1a1a1a" color="#1a1a1a" font-weight="normal" font-style="normal" >40</text>
<line x1="392.90" y1="431.98" x2="395.50" y2="431.98" stroke="#333" stroke-width="1.3"/>
<text transform="translate(392.10,435.07) scale(1,1.0)" x="0" y="0" font-size="8.6" text-anchor="end" fill="#1a1a1a" color="#1a1a1a" font-weight="normal" font-style="normal" >60</text>
<line x1="392.90" y1="412.10" x2="395.50" y2="412.10" stroke="#333" stroke-width="1.3"/>
<text transform="translate(392.10,415.20) scale(1,1.0)" x="0" y="0" font-size="8.6" text-anchor="end" fill="#1a1a1a" color="#1a1a1a" font-weight="normal" font-style="normal" >80</text>
<rect x="398.05" y="449.86" width="4.60" height="41.74" fill="none" stroke="#1a1a1a" stroke-width="1.1"/>
<line x1="400.35" y1="449.86" x2="400.35" y2="446.52" stroke="#1a1a1a" stroke-width="1.1"/>
<line x1="397.85" y1="446.52" x2="402.85" y2="446.52" stroke="#1a1a1a" stroke-width="1.1"/>
<circle cx="400.93" cy="449.53" r="1.3" fill="#1a1a1a"/>
<circle cx="402.18" cy="447.08" r="1.3" fill="#1a1a1a"/>
<circle cx="399.34" cy="446.97" r="1.3" fill="#1a1a1a"/>
<circle cx="400.38" cy="446.40" r="1.3" fill="#1a1a1a"/>
<circle cx="400.87" cy="456.92" r="1.3" fill="#1a1a1a"/>
<circle cx="402.24" cy="450.92" r="1.3" fill="#1a1a1a"/>
<circle cx="399.86" cy="456.54" r="1.3" fill="#1a1a1a"/>
<circle cx="400.53" cy="447.04" r="1.3" fill="#1a1a1a"/>
<rect x="405.85" y="463.78" width="4.60" height="27.82" fill="none" stroke="#f0553c" stroke-width="1.1"/>
<line x1="408.15" y1="463.78" x2="408.15" y2="461.55" stroke="#f0553c" stroke-width="1.1"/>
<line x1="405.65" y1="461.55" x2="410.65" y2="461.55" stroke="#f0553c" stroke-width="1.1"/>
<rect x="407.02" y="461.06" width="2.3" height="2.3" fill="#e8262b"/>
<rect x="408.74" y="454.99" width="2.3" height="2.3" fill="#e8262b"/>
<rect x="405.49" y="458.61" width="2.3" height="2.3" fill="#e8262b"/>
<rect x="407.64" y="461.13" width="2.3" height="2.3" fill="#e8262b"/>
<rect x="405.84" y="457.01" width="2.3" height="2.3" fill="#e8262b"/>
<rect x="407.23" y="460.85" width="2.3" height="2.3" fill="#e8262b"/>
<rect x="405.23" y="455.93" width="2.3" height="2.3" fill="#e8262b"/>
<rect x="408.97" y="468.22" width="2.3" height="2.3" fill="#e8262b"/>
<rect x="419.15" y="428.99" width="4.60" height="62.61" fill="none" stroke="#1a1a1a" stroke-width="1.1"/>
<line x1="421.45" y1="428.99" x2="421.45" y2="423.99" stroke="#1a1a1a" stroke-width="1.1"/>
<line x1="418.95" y1="423.99" x2="423.95" y2="423.99" stroke="#1a1a1a" stroke-width="1.1"/>
<circle cx="421.19" cy="428.64" r="1.3" fill="#1a1a1a"/>
<circle cx="422.92" cy="427.27" r="1.3" fill="#1a1a1a"/>
<circle cx="419.74" cy="425.79" r="1.3" fill="#1a1a1a"/>
<circle cx="419.88" cy="427.57" r="1.3" fill="#1a1a1a"/>
<circle cx="422.73" cy="428.17" r="1.3" fill="#1a1a1a"/>
<circle cx="419.58" cy="431.09" r="1.3" fill="#1a1a1a"/>
<circle cx="421.33" cy="429.42" r="1.3" fill="#1a1a1a"/>
<circle cx="421.31" cy="431.54" r="1.3" fill="#1a1a1a"/>
<rect x="426.95" y="436.94" width="4.10" height="54.66" fill="none" stroke="#f0553c" stroke-width="1.1"/>
<line x1="429.00" y1="436.94" x2="429.00" y2="432.57" stroke="#f0553c" stroke-width="1.1"/>
<line x1="426.50" y1="432.57" x2="431.50" y2="432.57" stroke="#f0553c" stroke-width="1.1"/>
<rect x="426.14" y="431.78" width="2.3" height="2.3" fill="#e8262b"/>
<rect x="427.59" y="438.53" width="2.3" height="2.3" fill="#e8262b"/>
<rect x="428.06" y="434.32" width="2.3" height="2.3" fill="#e8262b"/>
<rect x="428.57" y="430.23" width="2.3" height="2.3" fill="#e8262b"/>
<rect x="427.23" y="433.27" width="2.3" height="2.3" fill="#e8262b"/>
<rect x="429.05" y="438.83" width="2.3" height="2.3" fill="#e8262b"/>
<rect x="429.09" y="434.56" width="2.3" height="2.3" fill="#e8262b"/>
<rect x="427.11" y="432.02" width="2.3" height="2.3" fill="#e8262b"/>
<rect x="439.15" y="464.77" width="4.60" height="26.83" fill="none" stroke="#1a1a1a" stroke-width="1.1"/>
<line x1="441.45" y1="464.77" x2="441.45" y2="462.62" stroke="#1a1a1a" stroke-width="1.1"/>
<line x1="438.95" y1="462.62" x2="443.95" y2="462.62" stroke="#1a1a1a" stroke-width="1.1"/>
<circle cx="442.85" cy="468.24" r="1.3" fill="#1a1a1a"/>
<circle cx="441.89" cy="466.25" r="1.3" fill="#1a1a1a"/>
<circle cx="440.70" cy="457.66" r="1.3" fill="#1a1a1a"/>
<circle cx="440.75" cy="477.20" r="1.3" fill="#1a1a1a"/>
<circle cx="440.82" cy="451.79" r="1.3" fill="#1a1a1a"/>
<circle cx="442.87" cy="471.34" r="1.3" fill="#1a1a1a"/>
<circle cx="442.82" cy="464.78" r="1.3" fill="#1a1a1a"/>
<circle cx="440.92" cy="453.56" r="1.3" fill="#1a1a1a"/>
<rect x="446.95" y="474.71" width="4.20" height="16.89" fill="none" stroke="#f0553c" stroke-width="1.1"/>
<line x1="449.05" y1="474.71" x2="449.05" y2="473.35" stroke="#f0553c" stroke-width="1.1"/>
<line x1="446.55" y1="473.35" x2="451.55" y2="473.35" stroke="#f0553c" stroke-width="1.1"/>
<rect x="448.78" y="471.51" width="2.3" height="2.3" fill="#e8262b"/>
<rect x="446.62" y="476.37" width="2.3" height="2.3" fill="#e8262b"/>
<rect x="449.62" y="472.83" width="2.3" height="2.3" fill="#e8262b"/>
<rect x="449.68" y="471.14" width="2.3" height="2.3" fill="#e8262b"/>
<rect x="447.74" y="475.18" width="2.3" height="2.3" fill="#e8262b"/>
<rect x="449.27" y="470.60" width="2.3" height="2.3" fill="#e8262b"/>
<rect x="447.11" y="470.88" width="2.3" height="2.3" fill="#e8262b"/>
<rect x="446.27" y="472.52" width="2.3" height="2.3" fill="#e8262b"/>
<rect x="459.55" y="443.90" width="4.90" height="47.70" fill="none" stroke="#1a1a1a" stroke-width="1.1"/>
<line x1="462.00" y1="443.90" x2="462.00" y2="440.08" stroke="#1a1a1a" stroke-width="1.1"/>
<line x1="459.50" y1="440.08" x2="464.50" y2="440.08" stroke="#1a1a1a" stroke-width="1.1"/>
<circle cx="461.71" cy="442.92" r="1.3" fill="#1a1a1a"/>
<circle cx="460.67" cy="441.18" r="1.3" fill="#1a1a1a"/>
<circle cx="460.74" cy="442.71" r="1.3" fill="#1a1a1a"/>
<circle cx="460.19" cy="447.28" r="1.3" fill="#1a1a1a"/>
<circle cx="461.34" cy="448.71" r="1.3" fill="#1a1a1a"/>
<circle cx="463.83" cy="443.90" r="1.3" fill="#1a1a1a"/>
<circle cx="463.43" cy="446.79" r="1.3" fill="#1a1a1a"/>
<circle cx="463.30" cy="446.87" r="1.3" fill="#1a1a1a"/>
<rect x="467.55" y="455.83" width="4.60" height="35.77" fill="none" stroke="#f0553c" stroke-width="1.1"/>
<line x1="469.85" y1="455.83" x2="469.85" y2="452.96" stroke="#f0553c" stroke-width="1.1"/>
<line x1="467.35" y1="452.96" x2="472.35" y2="452.96" stroke="#f0553c" stroke-width="1.1"/>
<rect x="469.45" y="449.80" width="2.3" height="2.3" fill="#e8262b"/>
<rect x="467.43" y="452.04" width="2.3" height="2.3" fill="#e8262b"/>
<rect x="468.96" y="453.73" width="2.3" height="2.3" fill="#e8262b"/>
<rect x="469.53" y="457.69" width="2.3" height="2.3" fill="#e8262b"/>
<rect x="470.21" y="452.29" width="2.3" height="2.3" fill="#e8262b"/>
<rect x="467.84" y="451.20" width="2.3" height="2.3" fill="#e8262b"/>
<rect x="470.43" y="459.31" width="2.3" height="2.3" fill="#e8262b"/>
<rect x="468.23" y="451.79" width="2.3" height="2.3" fill="#e8262b"/>
<line x1="404.25" y1="491.60" x2="404.25" y2="494.80" stroke="#1a1a1a" stroke-width="1"/>
<text transform="translate(407.55,500.30) rotate(-45) scale(1,1.0)" x="0" y="0" font-size="9" text-anchor="end" fill="#1a1a1a" color="#1a1a1a">IFNγ<tspan font-size="64%" baseline-shift="44%">+</tspan>CD8<tspan font-size="64%" baseline-shift="44%">+</tspan></text>
<line x1="425.35" y1="491.60" x2="425.35" y2="494.80" stroke="#1a1a1a" stroke-width="1"/>
<text transform="translate(428.65,500.30) rotate(-45) scale(1,1.0)" x="0" y="0" font-size="9" text-anchor="end" fill="#1a1a1a" color="#1a1a1a">GZMB<tspan font-size="64%" baseline-shift="44%">+</tspan>CD8<tspan font-size="64%" baseline-shift="44%">+</tspan></text>
<line x1="445.35" y1="491.60" x2="445.35" y2="494.80" stroke="#1a1a1a" stroke-width="1"/>
<text transform="translate(448.65,500.30) rotate(-45) scale(1,1.0)" x="0" y="0" font-size="9" text-anchor="end" fill="#1a1a1a" color="#1a1a1a">IFNγ<tspan font-size="64%" baseline-shift="44%">+</tspan>CD4<tspan font-size="64%" baseline-shift="44%">+</tspan></text>
<line x1="466.00" y1="491.60" x2="466.00" y2="494.80" stroke="#1a1a1a" stroke-width="1"/>
<text transform="translate(469.30,500.30) rotate(-45) scale(1,1.0)" x="0" y="0" font-size="9" text-anchor="end" fill="#1a1a1a" color="#1a1a1a">IFNγ<tspan font-size="64%" baseline-shift="44%">+</tspan>NK1.1<tspan font-size="64%" baseline-shift="44%">+</tspan></text>
<polygon points="398.70,410.45 399.81,412.07 401.70,412.63 400.50,414.18 400.55,416.15 398.70,415.49 396.85,416.15 396.90,414.18 395.70,412.63 397.59,412.07" fill="#1a1a1a"/>
<polygon points="404.20,410.45 405.31,412.07 407.20,412.63 406.00,414.18 406.05,416.15 404.20,415.49 402.35,416.15 402.40,414.18 401.20,412.63 403.09,412.07" fill="#1a1a1a"/>
<polygon points="409.70,410.45 410.81,412.07 412.70,412.63 411.50,414.18 411.55,416.15 409.70,415.49 407.85,416.15 407.90,414.18 406.70,412.63 408.59,412.07" fill="#1a1a1a"/>
<line x1="400.00" y1="419.50" x2="408.00" y2="419.50" stroke="#1a1a1a" stroke-width="1"/>
<polygon points="422.55,407.75 423.66,409.37 425.55,409.93 424.35,411.48 424.40,413.45 422.55,412.79 420.70,413.45 420.75,411.48 419.55,409.93 421.44,409.37" fill="#1a1a1a"/>
<polygon points="428.05,407.75 429.16,409.37 431.05,409.93 429.85,411.48 429.90,413.45 428.05,412.79 426.20,413.45 426.25,411.48 425.05,409.93 426.94,409.37" fill="#1a1a1a"/>
<line x1="421.00" y1="417.40" x2="429.00" y2="417.40" stroke="#1a1a1a" stroke-width="1"/>
<polygon points="442.55,438.45 443.66,440.07 445.55,440.63 444.35,442.18 444.40,444.15 442.55,443.49 440.70,444.15 440.75,442.18 439.55,440.63 441.44,440.07" fill="#1a1a1a"/>
<polygon points="448.05,438.45 449.16,440.07 451.05,440.63 449.85,442.18 449.90,444.15 448.05,443.49 446.20,444.15 446.25,442.18 445.05,440.63 446.94,440.07" fill="#1a1a1a"/>
<line x1="441.00" y1="445.90" x2="449.50" y2="445.90" stroke="#1a1a1a" stroke-width="1"/>
<polygon points="460.90,425.25 462.01,426.87 463.90,427.43 462.70,428.98 462.75,430.95 460.90,430.29 459.05,430.95 459.10,428.98 457.90,427.43 459.79,426.87" fill="#1a1a1a"/>
<polygon points="466.40,425.25 467.51,426.87 469.40,427.43 468.20,428.98 468.25,430.95 466.40,430.29 464.55,430.95 464.60,428.98 463.40,427.43 465.29,426.87" fill="#1a1a1a"/>
<polygon points="471.90,425.25 473.01,426.87 474.90,427.43 473.70,428.98 473.75,430.95 471.90,430.29 470.05,430.95 470.10,428.98 468.90,427.43 470.79,426.87" fill="#1a1a1a"/>
<line x1="462.80" y1="433.20" x2="471.20" y2="433.20" stroke="#1a1a1a" stroke-width="1"/>
<text transform="translate(376.00,448.50) rotate(-90) scale(1,1.0)" x="0" y="3.20" font-size="8.9" text-anchor="middle" fill="#1a1a1a" color="#1a1a1a" font-style="normal">% of T/NK cells</text>
<text transform="translate(492.30,388.44) scale(1,1.0)" x="0" y="0" font-size="9" text-anchor="start" fill="#1a1a1a" color="#1a1a1a" font-weight="normal" font-style="normal" >KPC</text>
<line x1="522.40" y1="411.20" x2="522.40" y2="491.20" stroke="#333" stroke-width="1.3"/>
<line x1="521.90" y1="491.20" x2="602.90" y2="491.20" stroke="#333" stroke-width="1.3"/>
<line x1="519.80" y1="491.20" x2="522.40" y2="491.20" stroke="#333" stroke-width="1.3"/>
<text transform="translate(519.00,494.30) scale(1,1.0)" x="0" y="0" font-size="8.6" text-anchor="end" fill="#1a1a1a" color="#1a1a1a" font-weight="normal" font-style="normal" >0</text>
<line x1="519.80" y1="471.32" x2="522.40" y2="471.32" stroke="#333" stroke-width="1.3"/>
<text transform="translate(519.00,474.42) scale(1,1.0)" x="0" y="0" font-size="8.6" text-anchor="end" fill="#1a1a1a" color="#1a1a1a" font-weight="normal" font-style="normal" >10</text>
<line x1="519.80" y1="451.45" x2="522.40" y2="451.45" stroke="#333" stroke-width="1.3"/>
<text transform="translate(519.00,454.55) scale(1,1.0)" x="0" y="0" font-size="8.6" text-anchor="end" fill="#1a1a1a" color="#1a1a1a" font-weight="normal" font-style="normal" >20</text>
<line x1="519.80" y1="431.57" x2="522.40" y2="431.57" stroke="#333" stroke-width="1.3"/>
<text transform="translate(519.00,434.67) scale(1,1.0)" x="0" y="0" font-size="8.6" text-anchor="end" fill="#1a1a1a" color="#1a1a1a" font-weight="normal" font-style="normal" >30</text>
<line x1="519.80" y1="411.70" x2="522.40" y2="411.70" stroke="#333" stroke-width="1.3"/>
<text transform="translate(519.00,414.80) scale(1,1.0)" x="0" y="0" font-size="8.6" text-anchor="end" fill="#1a1a1a" color="#1a1a1a" font-weight="normal" font-style="normal" >40</text>
<rect x="525.45" y="457.41" width="4.20" height="33.79" fill="none" stroke="#1a1a1a" stroke-width="1.1"/>
<line x1="527.55" y1="457.41" x2="527.55" y2="454.71" stroke="#1a1a1a" stroke-width="1.1"/>
<line x1="525.05" y1="454.71" x2="530.05" y2="454.71" stroke="#1a1a1a" stroke-width="1.1"/>
<circle cx="525.81" cy="435.55" r="1.3" fill="#1a1a1a"/>
<circle cx="526.72" cy="442.70" r="1.3" fill="#1a1a1a"/>
<circle cx="527.30" cy="451.05" r="1.3" fill="#1a1a1a"/>
<circle cx="527.65" cy="453.24" r="1.3" fill="#1a1a1a"/>
<circle cx="525.84" cy="458.61" r="1.3" fill="#1a1a1a"/>
<circle cx="525.93" cy="462.78" r="1.3" fill="#1a1a1a"/>
<circle cx="529.40" cy="469.14" r="1.3" fill="#1a1a1a"/>
<circle cx="529.17" cy="482.85" r="1.3" fill="#1a1a1a"/>
<rect x="532.85" y="477.29" width="4.60" height="13.91" fill="none" stroke="#f0553c" stroke-width="1.1"/>
<line x1="535.15" y1="477.29" x2="535.15" y2="476.17" stroke="#f0553c" stroke-width="1.1"/>
<line x1="532.65" y1="476.17" x2="537.65" y2="476.17" stroke="#f0553c" stroke-width="1.1"/>
<rect x="532.62" y="454.87" width="2.3" height="2.3" fill="#e8262b"/>
<rect x="534.08" y="467.39" width="2.3" height="2.3" fill="#e8262b"/>
<rect x="532.86" y="473.16" width="2.3" height="2.3" fill="#e8262b"/>
<rect x="533.26" y="480.51" width="2.3" height="2.3" fill="#e8262b"/>
<rect x="533.09" y="483.69" width="2.3" height="2.3" fill="#e8262b"/>
<rect x="533.09" y="485.88" width="2.3" height="2.3" fill="#e8262b"/>
<rect x="546.15" y="440.52" width="3.90" height="50.68" fill="none" stroke="#1a1a1a" stroke-width="1.1"/>
<line x1="548.10" y1="440.52" x2="548.10" y2="436.46" stroke="#1a1a1a" stroke-width="1.1"/>
<line x1="545.60" y1="436.46" x2="550.60" y2="436.46" stroke="#1a1a1a" stroke-width="1.1"/>
<circle cx="546.55" cy="423.62" r="1.3" fill="#1a1a1a"/>
<circle cx="549.13" cy="424.42" r="1.3" fill="#1a1a1a"/>
<circle cx="549.85" cy="433.16" r="1.3" fill="#1a1a1a"/>
<circle cx="549.55" cy="439.52" r="1.3" fill="#1a1a1a"/>
<circle cx="547.18" cy="443.70" r="1.3" fill="#1a1a1a"/>
<circle cx="547.52" cy="451.05" r="1.3" fill="#1a1a1a"/>
<circle cx="548.69" cy="462.78" r="1.3" fill="#1a1a1a"/>
<circle cx="548.65" cy="475.30" r="1.3" fill="#1a1a1a"/>
<rect x="553.95" y="464.37" width="4.50" height="26.83" fill="none" stroke="#f0553c" stroke-width="1.1"/>
<line x1="556.20" y1="464.37" x2="556.20" y2="462.22" stroke="#f0553c" stroke-width="1.1"/>
<line x1="553.70" y1="462.22" x2="558.70" y2="462.22" stroke="#f0553c" stroke-width="1.1"/>
<rect x="556.69" y="437.98" width="2.3" height="2.3" fill="#e8262b"/>
<rect x="553.49" y="440.56" width="2.3" height="2.3" fill="#e8262b"/>
<rect x="553.43" y="457.46" width="2.3" height="2.3" fill="#e8262b"/>
<rect x="556.90" y="467.99" width="2.3" height="2.3" fill="#e8262b"/>
<rect x="553.17" y="473.16" width="2.3" height="2.3" fill="#e8262b"/>
<rect x="553.92" y="480.51" width="2.3" height="2.3" fill="#e8262b"/>
<rect x="566.55" y="483.25" width="4.20" height="7.95" fill="none" stroke="#1a1a1a" stroke-width="1.1"/>
<line x1="568.65" y1="483.25" x2="568.65" y2="482.61" stroke="#1a1a1a" stroke-width="1.1"/>
<line x1="566.15" y1="482.61" x2="571.15" y2="482.61" stroke="#1a1a1a" stroke-width="1.1"/>
<circle cx="568.07" cy="481.26" r="1.3" fill="#1a1a1a"/>
<circle cx="567.70" cy="485.87" r="1.3" fill="#1a1a1a"/>
<circle cx="567.71" cy="482.07" r="1.3" fill="#1a1a1a"/>
<circle cx="567.68" cy="481.93" r="1.3" fill="#1a1a1a"/>
<circle cx="566.85" cy="483.80" r="1.3" fill="#1a1a1a"/>
<circle cx="570.50" cy="481.21" r="1.3" fill="#1a1a1a"/>
<circle cx="569.59" cy="485.35" r="1.3" fill="#1a1a1a"/>
<circle cx="568.61" cy="485.77" r="1.3" fill="#1a1a1a"/>
<rect x="573.95" y="487.22" width="4.20" height="3.98" fill="none" stroke="#f0553c" stroke-width="1.1"/>
<line x1="576.05" y1="487.22" x2="576.05" y2="486.91" stroke="#f0553c" stroke-width="1.1"/>
<line x1="573.55" y1="486.91" x2="578.55" y2="486.91" stroke="#f0553c" stroke-width="1.1"/>
<rect x="573.43" y="488.83" width="2.3" height="2.3" fill="#e8262b"/>
<rect x="576.32" y="488.41" width="2.3" height="2.3" fill="#e8262b"/>
<rect x="573.25" y="488.79" width="2.3" height="2.3" fill="#e8262b"/>
<rect x="575.44" y="487.51" width="2.3" height="2.3" fill="#e8262b"/>
<rect x="574.97" y="483.64" width="2.3" height="2.3" fill="#e8262b"/>
<rect x="573.18" y="483.05" width="2.3" height="2.3" fill="#e8262b"/>
<rect x="574.78" y="487.59" width="2.3" height="2.3" fill="#e8262b"/>
<rect x="576.65" y="484.47" width="2.3" height="2.3" fill="#e8262b"/>
<rect x="586.55" y="484.24" width="4.90" height="6.96" fill="none" stroke="#1a1a1a" stroke-width="1.1"/>
<line x1="589.00" y1="484.24" x2="589.00" y2="483.69" stroke="#1a1a1a" stroke-width="1.1"/>
<line x1="586.50" y1="483.69" x2="591.50" y2="483.69" stroke="#1a1a1a" stroke-width="1.1"/>
<circle cx="589.76" cy="481.64" r="1.3" fill="#1a1a1a"/>
<circle cx="587.94" cy="486.48" r="1.3" fill="#1a1a1a"/>
<circle cx="590.11" cy="481.33" r="1.3" fill="#1a1a1a"/>
<circle cx="590.12" cy="482.67" r="1.3" fill="#1a1a1a"/>
<circle cx="589.68" cy="486.88" r="1.3" fill="#1a1a1a"/>
<circle cx="590.27" cy="486.75" r="1.3" fill="#1a1a1a"/>
<circle cx="590.34" cy="487.12" r="1.3" fill="#1a1a1a"/>
<circle cx="588.21" cy="482.49" r="1.3" fill="#1a1a1a"/>
<rect x="594.55" y="488.22" width="4.60" height="2.98" fill="none" stroke="#f0553c" stroke-width="1.1"/>
<line x1="596.85" y1="488.22" x2="596.85" y2="487.98" stroke="#f0553c" stroke-width="1.1"/>
<line x1="594.35" y1="487.98" x2="599.35" y2="487.98" stroke="#f0553c" stroke-width="1.1"/>
<rect x="594.39" y="487.39" width="2.3" height="2.3" fill="#e8262b"/>
<rect x="597.41" y="487.44" width="2.3" height="2.3" fill="#e8262b"/>
<rect x="595.44" y="487.63" width="2.3" height="2.3" fill="#e8262b"/>
<rect x="596.16" y="487.15" width="2.3" height="2.3" fill="#e8262b"/>
<rect x="593.79" y="486.04" width="2.3" height="2.3" fill="#e8262b"/>
<rect x="595.65" y="488.76" width="2.3" height="2.3" fill="#e8262b"/>
<rect x="595.88" y="485.48" width="2.3" height="2.3" fill="#e8262b"/>
<rect x="597.30" y="487.50" width="2.3" height="2.3" fill="#e8262b"/>
<line x1="531.25" y1="491.20" x2="531.25" y2="494.40" stroke="#1a1a1a" stroke-width="1"/>
<text transform="translate(534.55,500.30) rotate(-45) scale(1,1.0)" x="0" y="0" font-size="9" text-anchor="end" fill="#1a1a1a" color="#1a1a1a">IFNγ<tspan font-size="64%" baseline-shift="44%">+</tspan>CD8<tspan font-size="64%" baseline-shift="44%">+</tspan></text>
<line x1="552.00" y1="491.20" x2="552.00" y2="494.40" stroke="#1a1a1a" stroke-width="1"/>
<text transform="translate(555.30,500.30) rotate(-45) scale(1,1.0)" x="0" y="0" font-size="9" text-anchor="end" fill="#1a1a1a" color="#1a1a1a">GZMB<tspan font-size="64%" baseline-shift="44%">+</tspan>CD8<tspan font-size="64%" baseline-shift="44%">+</tspan></text>
<line x1="572.35" y1="491.20" x2="572.35" y2="494.40" stroke="#1a1a1a" stroke-width="1"/>
<text transform="translate(575.65,500.30) rotate(-45) scale(1,1.0)" x="0" y="0" font-size="9" text-anchor="end" fill="#1a1a1a" color="#1a1a1a">IFNγ<tspan font-size="64%" baseline-shift="44%">+</tspan>CD4<tspan font-size="64%" baseline-shift="44%">+</tspan></text>
<line x1="593.00" y1="491.20" x2="593.00" y2="494.40" stroke="#1a1a1a" stroke-width="1"/>
<text transform="translate(596.30,500.30) rotate(-45) scale(1,1.0)" x="0" y="0" font-size="9" text-anchor="end" fill="#1a1a1a" color="#1a1a1a">IFNγ<tspan font-size="64%" baseline-shift="44%">+</tspan>NK1.1<tspan font-size="64%" baseline-shift="44%">+</tspan></text>
<polygon points="530.80,418.85 531.91,420.47 533.80,421.03 532.60,422.58 532.65,424.55 530.80,423.89 528.95,424.55 529.00,422.58 527.80,421.03 529.69,420.47" fill="#1a1a1a"/>
<line x1="527.00" y1="426.90" x2="535.00" y2="426.90" stroke="#1a1a1a" stroke-width="1"/>
<polygon points="552.30,408.35 553.41,409.97 555.30,410.53 554.10,412.08 554.15,414.05 552.30,413.39 550.45,414.05 550.50,412.08 549.30,410.53 551.19,409.97" fill="#1a1a1a"/>
<line x1="548.70" y1="416.00" x2="556.50" y2="416.00" stroke="#1a1a1a" stroke-width="1"/>
<polygon points="570.25,467.95 571.36,469.57 573.25,470.13 572.05,471.68 572.10,473.65 570.25,472.99 568.40,473.65 568.45,471.68 567.25,470.13 569.14,469.57" fill="#1a1a1a"/>
<polygon points="575.75,467.95 576.86,469.57 578.75,470.13 577.55,471.68 577.60,473.65 575.75,472.99 573.90,473.65 573.95,471.68 572.75,470.13 574.64,469.57" fill="#1a1a1a"/>
<line x1="569.00" y1="475.40" x2="577.00" y2="475.40" stroke="#1a1a1a" stroke-width="1"/>
<polygon points="589.65,467.95 590.76,469.57 592.65,470.13 591.45,471.68 591.50,473.65 589.65,472.99 587.80,473.65 587.85,471.68 586.65,470.13 588.54,469.57" fill="#1a1a1a"/>
<polygon points="595.15,467.95 596.26,469.57 598.15,470.13 596.95,471.68 597.00,473.65 595.15,472.99 593.30,473.65 593.35,471.68 592.15,470.13 594.04,469.57" fill="#1a1a1a"/>
<line x1="588.40" y1="475.40" x2="596.40" y2="475.40" stroke="#1a1a1a" stroke-width="1"/>
<text transform="translate(501.70,452.20) rotate(-90) scale(1,1.0)" x="0" y="3.20" font-size="8.9" text-anchor="middle" fill="#1a1a1a" color="#1a1a1a" font-style="normal">Cell counts/g (x10<tspan font-size="64%" baseline-shift="44%">5</tspan>)</text>
<rect x="250.20" y="219.30" width="40.20" height="39.80" fill="none" stroke="#555" stroke-width="0.9"/>
<rect x="294.10" y="219.30" width="40.40" height="39.80" fill="none" stroke="#555" stroke-width="0.9"/>
<rect x="250.20" y="263.00" width="40.20" height="40.40" fill="none" stroke="#555" stroke-width="0.9"/>
<rect x="294.10" y="263.00" width="40.40" height="40.40" fill="none" stroke="#555" stroke-width="0.9"/>
<rect x="250.20" y="307.00" width="40.20" height="40.00" fill="none" stroke="#555" stroke-width="0.9"/>
<rect x="294.10" y="307.00" width="40.40" height="40.00" fill="none" stroke="#555" stroke-width="0.9"/>
<path d="M260.00,231.00 C261.67,229.00 267.17,230.42 270.00,230.50 C272.83,230.58 275.58,230.75 277.00,231.50 C278.42,232.25 278.67,233.67 278.50,235.00 C278.33,236.33 277.75,238.42 276.00,239.50 C274.25,240.58 270.67,241.00 268.00,241.50 C265.33,242.00 261.33,244.25 260.00,242.50 C258.67,240.75 258.33,233.00 260.00,231.00 Z" fill="#1f30a8"/>
<path d="M260.00,231.00 C261.67,229.00 267.17,230.42 270.00,230.50 C272.83,230.58 275.58,230.75 277.00,231.50 C278.42,232.25 278.67,233.67 278.50,235.00 C278.33,236.33 277.75,238.42 276.00,239.50 C274.25,240.58 270.67,241.00 268.00,241.50 C265.33,242.00 261.33,244.25 260.00,242.50 C258.67,240.75 258.33,233.00 260.00,231.00 Z" fill="#2a8ee0" transform="translate(270.00,235.00) scale(0.85) translate(-270.00,-235.00)"/>
<path d="M260.00,231.00 C261.67,229.00 267.17,230.42 270.00,230.50 C272.83,230.58 275.58,230.75 277.00,231.50 C278.42,232.25 278.67,233.67 278.50,235.00 C278.33,236.33 277.75,238.42 276.00,239.50 C274.25,240.58 270.67,241.00 268.00,241.50 C265.33,242.00 261.33,244.25 260.00,242.50 C258.67,240.75 258.33,233.00 260.00,231.00 Z" fill="#3cc8d0" transform="translate(270.00,235.00) scale(0.65) translate(-270.00,-235.00)"/>
<path d="M260.00,231.00 C261.67,229.00 267.17,230.42 270.00,230.50 C272.83,230.58 275.58,230.75 277.00,231.50 C278.42,232.25 278.67,233.67 278.50,235.00 C278.33,236.33 277.75,238.42 276.00,239.50 C274.25,240.58 270.67,241.00 268.00,241.50 C265.33,242.00 261.33,244.25 260.00,242.50 C258.67,240.75 258.33,233.00 260.00,231.00 Z" fill="#6ccc50" transform="translate(270.00,235.00) scale(0.4) translate(-270.00,-235.00)"/>
<path d="M260.00,231.00 C261.67,229.00 267.17,230.42 270.00,230.50 C272.83,230.58 275.58,230.75 277.00,231.50 C278.42,232.25 278.67,233.67 278.50,235.00 C278.33,236.33 277.75,238.42 276.00,239.50 C274.25,240.58 270.67,241.00 268.00,241.50 C265.33,242.00 261.33,244.25 260.00,242.50 C258.67,240.75 258.33,233.00 260.00,231.00 Z" fill="#e8e040" transform="translate(270.00,235.00) scale(0.2) translate(-270.00,-235.00)"/>
<path d="M258.40,231.00 C258.77,229.85 259.47,230.70 260.00,230.70 C260.53,230.70 261.23,229.85 261.60,231.00 C261.97,232.15 262.20,235.40 262.20,237.60 C262.20,239.80 261.97,243.05 261.60,244.20 C261.23,245.35 260.53,244.50 260.00,244.50 C259.47,244.50 258.77,245.35 258.40,244.20 C258.03,243.05 257.80,239.80 257.80,237.60 C257.80,235.40 258.03,232.15 258.40,231.00 Z" fill="#1f30a8" transform="translate(260.00,237.60) scale(1,1) translate(-260.00,-237.60)"/>
<path d="M258.40,231.00 C258.77,229.85 259.47,230.70 260.00,230.70 C260.53,230.70 261.23,229.85 261.60,231.00 C261.97,232.15 262.20,235.40 262.20,237.60 C262.20,239.80 261.97,243.05 261.60,244.20 C261.23,245.35 260.53,244.50 260.00,244.50 C259.47,244.50 258.77,245.35 258.40,244.20 C258.03,243.05 257.80,239.80 257.80,237.60 C257.80,235.40 258.03,232.15 258.40,231.00 Z" fill="#2a8ee0" transform="translate(260.00,237.60) scale(0.8,0.9) translate(-260.00,-237.60)"/>
<path d="M258.40,231.00 C258.77,229.85 259.47,230.70 260.00,230.70 C260.53,230.70 261.23,229.85 261.60,231.00 C261.97,232.15 262.20,235.40 262.20,237.60 C262.20,239.80 261.97,243.05 261.60,244.20 C261.23,245.35 260.53,244.50 260.00,244.50 C259.47,244.50 258.77,245.35 258.40,244.20 C258.03,243.05 257.80,239.80 257.80,237.60 C257.80,235.40 258.03,232.15 258.40,231.00 Z" fill="#3cc8d0" transform="translate(260.00,237.60) scale(0.62,0.78) translate(-260.00,-237.60)"/>
<path d="M258.40,231.00 C258.77,229.85 259.47,230.70 260.00,230.70 C260.53,230.70 261.23,229.85 261.60,231.00 C261.97,232.15 262.20,235.40 262.20,237.60 C262.20,239.80 261.97,243.05 261.60,244.20 C261.23,245.35 260.53,244.50 260.00,244.50 C259.47,244.50 258.77,245.35 258.40,244.20 C258.03,243.05 257.80,239.80 257.80,237.60 C257.80,235.40 258.03,232.15 258.40,231.00 Z" fill="#6ccc50" transform="translate(260.00,237.60) scale(0.5,0.62) translate(-260.00,-237.60)"/>
<path d="M258.40,231.00 C258.77,229.85 259.47,230.70 260.00,230.70 C260.53,230.70 261.23,229.85 261.60,231.00 C261.97,232.15 262.20,235.40 262.20,237.60 C262.20,239.80 261.97,243.05 261.60,244.20 C261.23,245.35 260.53,244.50 260.00,244.50 C259.47,244.50 258.77,245.35 258.40,244.20 C258.03,243.05 257.80,239.80 257.80,237.60 C257.80,235.40 258.03,232.15 258.40,231.00 Z" fill="#e8e040" transform="translate(260.00,237.60) scale(0.38,0.45) translate(-260.00,-237.60)"/>
<path d="M258.40,231.00 C258.77,229.85 259.47,230.70 260.00,230.70 C260.53,230.70 261.23,229.85 261.60,231.00 C261.97,232.15 262.20,235.40 262.20,237.60 C262.20,239.80 261.97,243.05 261.60,244.20 C261.23,245.35 260.53,244.50 260.00,244.50 C259.47,244.50 258.77,245.35 258.40,244.20 C258.03,243.05 257.80,239.80 257.80,237.60 C257.80,235.40 258.03,232.15 258.40,231.00 Z" fill="#e01818" transform="translate(260.00,237.60) scale(0.3,0.3) translate(-260.00,-237.60)"/>
<path d="M304.00,231.00 C305.17,229.17 308.87,231.33 311.00,232.00 C313.13,232.67 316.80,233.67 316.80,235.00 C316.80,236.33 313.13,238.67 311.00,240.00 C308.87,241.33 305.17,244.50 304.00,243.00 C302.83,241.50 302.83,232.83 304.00,231.00 Z" fill="#1f30a8"/>
<path d="M304.00,231.00 C305.17,229.17 308.87,231.33 311.00,232.00 C313.13,232.67 316.80,233.67 316.80,235.00 C316.80,236.33 313.13,238.67 311.00,240.00 C308.87,241.33 305.17,244.50 304.00,243.00 C302.83,241.50 302.83,232.83 304.00,231.00 Z" fill="#2a8ee0" transform="translate(306.00,236.50) scale(0.7) translate(-306.00,-236.50)"/>
<path d="M302.30,230.30 C302.64,229.03 303.27,230.00 303.75,230.00 C304.23,230.00 304.86,229.03 305.20,230.30 C305.54,231.57 305.80,235.17 305.80,237.60 C305.80,240.03 305.54,243.63 305.20,244.90 C304.86,246.17 304.23,245.20 303.75,245.20 C303.27,245.20 302.64,246.17 302.30,244.90 C301.96,243.63 301.70,240.03 301.70,237.60 C301.70,235.17 301.96,231.57 302.30,230.30 Z" fill="#1f30a8" transform="translate(303.75,237.60) scale(1,1) translate(-303.75,-237.60)"/>
<path d="M302.30,230.30 C302.64,229.03 303.27,230.00 303.75,230.00 C304.23,230.00 304.86,229.03 305.20,230.30 C305.54,231.57 305.80,235.17 305.80,237.60 C305.80,240.03 305.54,243.63 305.20,244.90 C304.86,246.17 304.23,245.20 303.75,245.20 C303.27,245.20 302.64,246.17 302.30,244.90 C301.96,243.63 301.70,240.03 301.70,237.60 C301.70,235.17 301.96,231.57 302.30,230.30 Z" fill="#2a8ee0" transform="translate(303.75,237.60) scale(0.8,0.9) translate(-303.75,-237.60)"/>
<path d="M302.30,230.30 C302.64,229.03 303.27,230.00 303.75,230.00 C304.23,230.00 304.86,229.03 305.20,230.30 C305.54,231.57 305.80,235.17 305.80,237.60 C305.80,240.03 305.54,243.63 305.20,244.90 C304.86,246.17 304.23,245.20 303.75,245.20 C303.27,245.20 302.64,246.17 302.30,244.90 C301.96,243.63 301.70,240.03 301.70,237.60 C301.70,235.17 301.96,231.57 302.30,230.30 Z" fill="#3cc8d0" transform="translate(303.75,237.60) scale(0.62,0.78) translate(-303.75,-237.60)"/>
<path d="M302.30,230.30 C302.64,229.03 303.27,230.00 303.75,230.00 C304.23,230.00 304.86,229.03 305.20,230.30 C305.54,231.57 305.80,235.17 305.80,237.60 C305.80,240.03 305.54,243.63 305.20,244.90 C304.86,246.17 304.23,245.20 303.75,245.20 C303.27,245.20 302.64,246.17 302.30,244.90 C301.96,243.63 301.70,240.03 301.70,237.60 C301.70,235.17 301.96,231.57 302.30,230.30 Z" fill="#6ccc50" transform="translate(303.75,237.60) scale(0.5,0.62) translate(-303.75,-237.60)"/>
<path d="M302.30,230.30 C302.64,229.03 303.27,230.00 303.75,230.00 C304.23,230.00 304.86,229.03 305.20,230.30 C305.54,231.57 305.80,235.17 305.80,237.60 C305.80,240.03 305.54,243.63 305.20,244.90 C304.86,246.17 304.23,245.20 303.75,245.20 C303.27,245.20 302.64,246.17 302.30,244.90 C301.96,243.63 301.70,240.03 301.70,237.60 C301.70,235.17 301.96,231.57 302.30,230.30 Z" fill="#e8e040" transform="translate(303.75,237.60) scale(0.38,0.45) translate(-303.75,-237.60)"/>
<path d="M302.30,230.30 C302.64,229.03 303.27,230.00 303.75,230.00 C304.23,230.00 304.86,229.03 305.20,230.30 C305.54,231.57 305.80,235.17 305.80,237.60 C305.80,240.03 305.54,243.63 305.20,244.90 C304.86,246.17 304.23,245.20 303.75,245.20 C303.27,245.20 302.64,246.17 302.30,244.90 C301.96,243.63 301.70,240.03 301.70,237.60 C301.70,235.17 301.96,231.57 302.30,230.30 Z" fill="#e01818" transform="translate(303.75,237.60) scale(0.3,0.3) translate(-303.75,-237.60)"/>
<path d="M260.50,279.50 C261.75,277.45 265.42,278.92 268.00,279.00 C270.58,279.08 273.95,279.17 276.00,280.00 C278.05,280.83 279.80,282.42 280.30,284.00 C280.80,285.58 280.72,288.33 279.00,289.50 C277.28,290.67 273.08,290.70 270.00,291.00 C266.92,291.30 262.08,293.22 260.50,291.30 C258.92,289.38 259.25,281.55 260.50,279.50 Z" fill="#1f30a8"/>
<path d="M260.50,279.50 C261.75,277.45 265.42,278.92 268.00,279.00 C270.58,279.08 273.95,279.17 276.00,280.00 C278.05,280.83 279.80,282.42 280.30,284.00 C280.80,285.58 280.72,288.33 279.00,289.50 C277.28,290.67 273.08,290.70 270.00,291.00 C266.92,291.30 262.08,293.22 260.50,291.30 C258.92,289.38 259.25,281.55 260.50,279.50 Z" fill="#2a8ee0" transform="translate(271.00,286.00) scale(0.88) translate(-271.00,-286.00)"/>
<path d="M260.50,279.50 C261.75,277.45 265.42,278.92 268.00,279.00 C270.58,279.08 273.95,279.17 276.00,280.00 C278.05,280.83 279.80,282.42 280.30,284.00 C280.80,285.58 280.72,288.33 279.00,289.50 C277.28,290.67 273.08,290.70 270.00,291.00 C266.92,291.30 262.08,293.22 260.50,291.30 C258.92,289.38 259.25,281.55 260.50,279.50 Z" fill="#3cc8d0" transform="translate(271.00,286.00) scale(0.5) translate(-271.00,-286.00)"/>
<path d="M258.40,279.20 C258.73,278.17 259.33,278.90 259.80,278.90 C260.27,278.90 260.87,278.17 261.20,279.20 C261.53,280.23 261.80,283.13 261.80,285.10 C261.80,287.07 261.53,289.97 261.20,291.00 C260.87,292.03 260.27,291.30 259.80,291.30 C259.33,291.30 258.73,292.03 258.40,291.00 C258.07,289.97 257.80,287.07 257.80,285.10 C257.80,283.13 258.07,280.23 258.40,279.20 Z" fill="#1f30a8" transform="translate(259.80,285.10) scale(1,1) translate(-259.80,-285.10)"/>
<path d="M258.40,279.20 C258.73,278.17 259.33,278.90 259.80,278.90 C260.27,278.90 260.87,278.17 261.20,279.20 C261.53,280.23 261.80,283.13 261.80,285.10 C261.80,287.07 261.53,289.97 261.20,291.00 C260.87,292.03 260.27,291.30 259.80,291.30 C259.33,291.30 258.73,292.03 258.40,291.00 C258.07,289.97 257.80,287.07 257.80,285.10 C257.80,283.13 258.07,280.23 258.40,279.20 Z" fill="#2a8ee0" transform="translate(259.80,285.10) scale(0.8,0.9) translate(-259.80,-285.10)"/>
<path d="M258.40,279.20 C258.73,278.17 259.33,278.90 259.80,278.90 C260.27,278.90 260.87,278.17 261.20,279.20 C261.53,280.23 261.80,283.13 261.80,285.10 C261.80,287.07 261.53,289.97 261.20,291.00 C260.87,292.03 260.27,291.30 259.80,291.30 C259.33,291.30 258.73,292.03 258.40,291.00 C258.07,289.97 257.80,287.07 257.80,285.10 C257.80,283.13 258.07,280.23 258.40,279.20 Z" fill="#3cc8d0" transform="translate(259.80,285.10) scale(0.62,0.78) translate(-259.80,-285.10)"/>
<path d="M258.40,279.20 C258.73,278.17 259.33,278.90 259.80,278.90 C260.27,278.90 260.87,278.17 261.20,279.20 C261.53,280.23 261.80,283.13 261.80,285.10 C261.80,287.07 261.53,289.97 261.20,291.00 C260.87,292.03 260.27,291.30 259.80,291.30 C259.33,291.30 258.73,292.03 258.40,291.00 C258.07,289.97 257.80,287.07 257.80,285.10 C257.80,283.13 258.07,280.23 258.40,279.20 Z" fill="#6ccc50" transform="translate(259.80,285.10) scale(0.5,0.62) translate(-259.80,-285.10)"/>
<path d="M258.40,279.20 C258.73,278.17 259.33,278.90 259.80,278.90 C260.27,278.90 260.87,278.17 261.20,279.20 C261.53,280.23 261.80,283.13 261.80,285.10 C261.80,287.07 261.53,289.97 261.20,291.00 C260.87,292.03 260.27,291.30 259.80,291.30 C259.33,291.30 258.73,292.03 258.40,291.00 C258.07,289.97 257.80,287.07 257.80,285.10 C257.80,283.13 258.07,280.23 258.40,279.20 Z" fill="#e8e040" transform="translate(259.80,285.10) scale(0.38,0.45) translate(-259.80,-285.10)"/>
<path d="M258.40,279.20 C258.73,278.17 259.33,278.90 259.80,278.90 C260.27,278.90 260.87,278.17 261.20,279.20 C261.53,280.23 261.80,283.13 261.80,285.10 C261.80,287.07 261.53,289.97 261.20,291.00 C260.87,292.03 260.27,291.30 259.80,291.30 C259.33,291.30 258.73,292.03 258.40,291.00 C258.07,289.97 257.80,287.07 257.80,285.10 C257.80,283.13 258.07,280.23 258.40,279.20 Z" fill="#e01818" transform="translate(259.80,285.10) scale(0.3,0.3) translate(-259.80,-285.10)"/>
<path d="M304.00,282.00 C304.50,281.20 305.83,285.67 307.00,286.50 C308.17,287.33 309.83,286.50 311.00,287.00 C312.17,287.50 314.17,288.83 314.00,289.50 C313.83,290.17 311.67,290.70 310.00,291.00 C308.33,291.30 305.00,292.80 304.00,291.30 C303.00,289.80 303.50,282.80 304.00,282.00 Z" fill="#1f30a8"/>
<path d="M304.00,282.00 C304.50,281.20 305.83,285.67 307.00,286.50 C308.17,287.33 309.83,286.50 311.00,287.00 C312.17,287.50 314.17,288.83 314.00,289.50 C313.83,290.17 311.67,290.70 310.00,291.00 C308.33,291.30 305.00,292.80 304.00,291.30 C303.00,289.80 303.50,282.80 304.00,282.00 Z" fill="#2a8ee0" transform="translate(305.50,289.00) scale(0.45) translate(-305.50,-289.00)"/>
<path d="M302.30,277.80 C302.59,276.65 303.07,277.50 303.45,277.50 C303.83,277.50 304.31,276.65 304.60,277.80 C304.89,278.95 305.20,282.20 305.20,284.40 C305.20,286.60 304.89,289.85 304.60,291.00 C304.31,292.15 303.83,291.30 303.45,291.30 C303.07,291.30 302.59,292.15 302.30,291.00 C302.01,289.85 301.70,286.60 301.70,284.40 C301.70,282.20 302.01,278.95 302.30,277.80 Z" fill="#1f30a8" transform="translate(303.45,284.40) scale(1,1) translate(-303.45,-284.40)"/>
<path d="M302.30,277.80 C302.59,276.65 303.07,277.50 303.45,277.50 C303.83,277.50 304.31,276.65 304.60,277.80 C304.89,278.95 305.20,282.20 305.20,284.40 C305.20,286.60 304.89,289.85 304.60,291.00 C304.31,292.15 303.83,291.30 303.45,291.30 C303.07,291.30 302.59,292.15 302.30,291.00 C302.01,289.85 301.70,286.60 301.70,284.40 C301.70,282.20 302.01,278.95 302.30,277.80 Z" fill="#2a8ee0" transform="translate(303.45,284.40) scale(0.8,0.9) translate(-303.45,-284.40)"/>
<path d="M302.30,277.80 C302.59,276.65 303.07,277.50 303.45,277.50 C303.83,277.50 304.31,276.65 304.60,277.80 C304.89,278.95 305.20,282.20 305.20,284.40 C305.20,286.60 304.89,289.85 304.60,291.00 C304.31,292.15 303.83,291.30 303.45,291.30 C303.07,291.30 302.59,292.15 302.30,291.00 C302.01,289.85 301.70,286.60 301.70,284.40 C301.70,282.20 302.01,278.95 302.30,277.80 Z" fill="#3cc8d0" transform="translate(303.45,284.40) scale(0.62,0.78) translate(-303.45,-284.40)"/>
<path d="M302.30,277.80 C302.59,276.65 303.07,277.50 303.45,277.50 C303.83,277.50 304.31,276.65 304.60,277.80 C304.89,278.95 305.20,282.20 305.20,284.40 C305.20,286.60 304.89,289.85 304.60,291.00 C304.31,292.15 303.83,291.30 303.45,291.30 C303.07,291.30 302.59,292.15 302.30,291.00 C302.01,289.85 301.70,286.60 301.70,284.40 C301.70,282.20 302.01,278.95 302.30,277.80 Z" fill="#6ccc50" transform="translate(303.45,284.40) scale(0.5,0.62) translate(-303.45,-284.40)"/>
<path d="M302.30,277.80 C302.59,276.65 303.07,277.50 303.45,277.50 C303.83,277.50 304.31,276.65 304.60,277.80 C304.89,278.95 305.20,282.20 305.20,284.40 C305.20,286.60 304.89,289.85 304.60,291.00 C304.31,292.15 303.83,291.30 303.45,291.30 C303.07,291.30 302.59,292.15 302.30,291.00 C302.01,289.85 301.70,286.60 301.70,284.40 C301.70,282.20 302.01,278.95 302.30,277.80 Z" fill="#e8e040" transform="translate(303.45,284.40) scale(0.38,0.45) translate(-303.45,-284.40)"/>
<path d="M302.30,277.80 C302.59,276.65 303.07,277.50 303.45,277.50 C303.83,277.50 304.31,276.65 304.60,277.80 C304.89,278.95 305.20,282.20 305.20,284.40 C305.20,286.60 304.89,289.85 304.60,291.00 C304.31,292.15 303.83,291.30 303.45,291.30 C303.07,291.30 302.59,292.15 302.30,291.00 C302.01,289.85 301.70,286.60 301.70,284.40 C301.70,282.20 302.01,278.95 302.30,277.80 Z" fill="#e01818" transform="translate(303.45,284.40) scale(0.3,0.3) translate(-303.45,-284.40)"/>
<path d="M260.50,327.70 C261.75,326.48 265.73,327.70 268.00,328.00 C270.27,328.30 273.43,328.67 274.10,329.50 C274.77,330.33 273.35,332.08 272.00,333.00 C270.65,333.92 267.92,334.62 266.00,335.00 C264.08,335.38 261.42,336.52 260.50,335.30 C259.58,334.08 259.25,328.92 260.50,327.70 Z" fill="#1f30a8"/>
<path d="M260.50,327.70 C261.75,326.48 265.73,327.70 268.00,328.00 C270.27,328.30 273.43,328.67 274.10,329.50 C274.77,330.33 273.35,332.08 272.00,333.00 C270.65,333.92 267.92,334.62 266.00,335.00 C264.08,335.38 261.42,336.52 260.50,335.30 C259.58,334.08 259.25,328.92 260.50,327.70 Z" fill="#2a8ee0" transform="translate(264.00,331.00) scale(0.8) translate(-264.00,-331.00)"/>
<path d="M260.50,327.70 C261.75,326.48 265.73,327.70 268.00,328.00 C270.27,328.30 273.43,328.67 274.10,329.50 C274.77,330.33 273.35,332.08 272.00,333.00 C270.65,333.92 267.92,334.62 266.00,335.00 C264.08,335.38 261.42,336.52 260.50,335.30 C259.58,334.08 259.25,328.92 260.50,327.70 Z" fill="#3cc8d0" transform="translate(264.00,331.00) scale(0.45) translate(-264.00,-331.00)"/>
<path d="M258.00,325.30 C258.33,324.38 258.93,325.00 259.40,325.00 C259.87,325.00 260.47,324.38 260.80,325.30 C261.13,326.22 261.40,328.77 261.40,330.50 C261.40,332.23 261.13,334.78 260.80,335.70 C260.47,336.62 259.87,336.00 259.40,336.00 C258.93,336.00 258.33,336.62 258.00,335.70 C257.67,334.78 257.40,332.23 257.40,330.50 C257.40,328.77 257.67,326.22 258.00,325.30 Z" fill="#1f30a8" transform="translate(259.40,330.50) scale(1,1) translate(-259.40,-330.50)"/>
<path d="M258.00,325.30 C258.33,324.38 258.93,325.00 259.40,325.00 C259.87,325.00 260.47,324.38 260.80,325.30 C261.13,326.22 261.40,328.77 261.40,330.50 C261.40,332.23 261.13,334.78 260.80,335.70 C260.47,336.62 259.87,336.00 259.40,336.00 C258.93,336.00 258.33,336.62 258.00,335.70 C257.67,334.78 257.40,332.23 257.40,330.50 C257.40,328.77 257.67,326.22 258.00,325.30 Z" fill="#2a8ee0" transform="translate(259.40,330.50) scale(0.8,0.9) translate(-259.40,-330.50)"/>
<path d="M258.00,325.30 C258.33,324.38 258.93,325.00 259.40,325.00 C259.87,325.00 260.47,324.38 260.80,325.30 C261.13,326.22 261.40,328.77 261.40,330.50 C261.40,332.23 261.13,334.78 260.80,335.70 C260.47,336.62 259.87,336.00 259.40,336.00 C258.93,336.00 258.33,336.62 258.00,335.70 C257.67,334.78 257.40,332.23 257.40,330.50 C257.40,328.77 257.67,326.22 258.00,325.30 Z" fill="#3cc8d0" transform="translate(259.40,330.50) scale(0.62,0.78) translate(-259.40,-330.50)"/>
<path d="M258.00,325.30 C258.33,324.38 258.93,325.00 259.40,325.00 C259.87,325.00 260.47,324.38 260.80,325.30 C261.13,326.22 261.40,328.77 261.40,330.50 C261.40,332.23 261.13,334.78 260.80,335.70 C260.47,336.62 259.87,336.00 259.40,336.00 C258.93,336.00 258.33,336.62 258.00,335.70 C257.67,334.78 257.40,332.23 257.40,330.50 C257.40,328.77 257.67,326.22 258.00,325.30 Z" fill="#6ccc50" transform="translate(259.40,330.50) scale(0.5,0.62) translate(-259.40,-330.50)"/>
<path d="M258.00,325.30 C258.33,324.38 258.93,325.00 259.40,325.00 C259.87,325.00 260.47,324.38 260.80,325.30 C261.13,326.22 261.40,328.77 261.40,330.50 C261.40,332.23 261.13,334.78 260.80,335.70 C260.47,336.62 259.87,336.00 259.40,336.00 C258.93,336.00 258.33,336.62 258.00,335.70 C257.67,334.78 257.40,332.23 257.40,330.50 C257.40,328.77 257.67,326.22 258.00,325.30 Z" fill="#e8e040" transform="translate(259.40,330.50) scale(0.38,0.45) translate(-259.40,-330.50)"/>
<path d="M258.00,325.30 C258.33,324.38 258.93,325.00 259.40,325.00 C259.87,325.00 260.47,324.38 260.80,325.30 C261.13,326.22 261.40,328.77 261.40,330.50 C261.40,332.23 261.13,334.78 260.80,335.70 C260.47,336.62 259.87,336.00 259.40,336.00 C258.93,336.00 258.33,336.62 258.00,335.70 C257.67,334.78 257.40,332.23 257.40,330.50 C257.40,328.77 257.67,326.22 258.00,325.30 Z" fill="#e01818" transform="translate(259.40,330.50) scale(0.3,0.3) translate(-259.40,-330.50)"/>
<path d="M304.00,327.50 C304.67,326.58 306.97,328.00 308.00,328.50 C309.03,329.00 310.20,329.75 310.20,330.50 C310.20,331.25 309.03,332.42 308.00,333.00 C306.97,333.58 304.67,334.92 304.00,334.00 C303.33,333.08 303.33,328.42 304.00,327.50 Z" fill="#1f30a8"/>
<path d="M304.00,327.50 C304.67,326.58 306.97,328.00 308.00,328.50 C309.03,329.00 310.20,329.75 310.20,330.50 C310.20,331.25 309.03,332.42 308.00,333.00 C306.97,333.58 304.67,334.92 304.00,334.00 C303.33,333.08 303.33,328.42 304.00,327.50 Z" fill="#2a8ee0" transform="translate(305.00,330.50) scale(0.5) translate(-305.00,-330.50)"/>
<path d="M301.80,325.30 C302.15,324.38 302.80,325.00 303.30,325.00 C303.80,325.00 304.45,324.38 304.80,325.30 C305.15,326.22 305.40,328.77 305.40,330.50 C305.40,332.23 305.15,334.78 304.80,335.70 C304.45,336.62 303.80,336.00 303.30,336.00 C302.80,336.00 302.15,336.62 301.80,335.70 C301.45,334.78 301.20,332.23 301.20,330.50 C301.20,328.77 301.45,326.22 301.80,325.30 Z" fill="#1f30a8" transform="translate(303.30,330.50) scale(1,1) translate(-303.30,-330.50)"/>
<path d="M301.80,325.30 C302.15,324.38 302.80,325.00 303.30,325.00 C303.80,325.00 304.45,324.38 304.80,325.30 C305.15,326.22 305.40,328.77 305.40,330.50 C305.40,332.23 305.15,334.78 304.80,335.70 C304.45,336.62 303.80,336.00 303.30,336.00 C302.80,336.00 302.15,336.62 301.80,335.70 C301.45,334.78 301.20,332.23 301.20,330.50 C301.20,328.77 301.45,326.22 301.80,325.30 Z" fill="#2a8ee0" transform="translate(303.30,330.50) scale(0.8,0.9) translate(-303.30,-330.50)"/>
<path d="M301.80,325.30 C302.15,324.38 302.80,325.00 303.30,325.00 C303.80,325.00 304.45,324.38 304.80,325.30 C305.15,326.22 305.40,328.77 305.40,330.50 C305.40,332.23 305.15,334.78 304.80,335.70 C304.45,336.62 303.80,336.00 303.30,336.00 C302.80,336.00 302.15,336.62 301.80,335.70 C301.45,334.78 301.20,332.23 301.20,330.50 C301.20,328.77 301.45,326.22 301.80,325.30 Z" fill="#3cc8d0" transform="translate(303.30,330.50) scale(0.62,0.78) translate(-303.30,-330.50)"/>
<path d="M301.80,325.30 C302.15,324.38 302.80,325.00 303.30,325.00 C303.80,325.00 304.45,324.38 304.80,325.30 C305.15,326.22 305.40,328.77 305.40,330.50 C305.40,332.23 305.15,334.78 304.80,335.70 C304.45,336.62 303.80,336.00 303.30,336.00 C302.80,336.00 302.15,336.62 301.80,335.70 C301.45,334.78 301.20,332.23 301.20,330.50 C301.20,328.77 301.45,326.22 301.80,325.30 Z" fill="#6ccc50" transform="translate(303.30,330.50) scale(0.5,0.62) translate(-303.30,-330.50)"/>
<path d="M301.80,325.30 C302.15,324.38 302.80,325.00 303.30,325.00 C303.80,325.00 304.45,324.38 304.80,325.30 C305.15,326.22 305.40,328.77 305.40,330.50 C305.40,332.23 305.15,334.78 304.80,335.70 C304.45,336.62 303.80,336.00 303.30,336.00 C302.80,336.00 302.15,336.62 301.80,335.70 C301.45,334.78 301.20,332.23 301.20,330.50 C301.20,328.77 301.45,326.22 301.80,325.30 Z" fill="#e8e040" transform="translate(303.30,330.50) scale(0.38,0.45) translate(-303.30,-330.50)"/>
<path d="M301.80,325.30 C302.15,324.38 302.80,325.00 303.30,325.00 C303.80,325.00 304.45,324.38 304.80,325.30 C305.15,326.22 305.40,328.77 305.40,330.50 C305.40,332.23 305.15,334.78 304.80,335.70 C304.45,336.62 303.80,336.00 303.30,336.00 C302.80,336.00 302.15,336.62 301.80,335.70 C301.45,334.78 301.20,332.23 301.20,330.50 C301.20,328.77 301.45,326.22 301.80,325.30 Z" fill="#e01818" transform="translate(303.30,330.50) scale(0.3,0.3) translate(-303.30,-330.50)"/>
<rect x="262.10" y="228.90" width="21.60" height="13.50" fill="none" stroke="#333" stroke-width="0.7"/>
<rect x="305.00" y="229.50" width="22.50" height="12.90" fill="none" stroke="#333" stroke-width="0.7"/>
<rect x="262.10" y="278.70" width="21.60" height="13.50" fill="none" stroke="#333" stroke-width="0.7"/>
<rect x="305.00" y="279.40" width="22.50" height="12.60" fill="none" stroke="#333" stroke-width="0.7"/>
<rect x="261.00" y="325.10" width="21.40" height="11.20" fill="none" stroke="#333" stroke-width="0.7"/>
<rect x="305.00" y="325.20" width="20.80" height="11.40" fill="none" stroke="#333" stroke-width="0.7"/>
<text transform="translate(273.60,252.50) scale(1,1.0)" x="0" y="0" font-size="8.6" text-anchor="middle" fill="#1a1a1a" color="#1a1a1a" font-weight="normal" font-style="normal" >68.7%</text>
<text transform="translate(318.20,252.30) scale(1,1.0)" x="0" y="0" font-size="8.6" text-anchor="middle" fill="#1a1a1a" color="#1a1a1a" font-weight="normal" font-style="normal" >21.6%</text>
<text transform="translate(273.60,302.10) scale(1,1.0)" x="0" y="0" font-size="8.6" text-anchor="middle" fill="#1a1a1a" color="#1a1a1a" font-weight="normal" font-style="normal" >44.6%</text>
<text transform="translate(318.20,302.10) scale(1,1.0)" x="0" y="0" font-size="8.6" text-anchor="middle" fill="#1a1a1a" color="#1a1a1a" font-weight="normal" font-style="normal" >6.94%</text>
<text transform="translate(273.60,344.70) scale(1,1.0)" x="0" y="0" font-size="8.6" text-anchor="middle" fill="#1a1a1a" color="#1a1a1a" font-weight="normal" font-style="normal" >41.1%</text>
<text transform="translate(318.20,344.70) scale(1,1.0)" x="0" y="0" font-size="8.6" text-anchor="middle" fill="#1a1a1a" color="#1a1a1a" font-weight="normal" font-style="normal" >12.1%</text>
<rect x="250.40" y="400.00" width="40.00" height="40.40" fill="none" stroke="#555" stroke-width="0.9"/>
<rect x="294.00" y="400.00" width="40.00" height="40.40" fill="none" stroke="#555" stroke-width="0.9"/>
<rect x="250.40" y="444.00" width="40.00" height="40.40" fill="none" stroke="#555" stroke-width="0.9"/>
<rect x="294.00" y="444.00" width="40.00" height="40.40" fill="none" stroke="#555" stroke-width="0.9"/>
<rect x="250.40" y="488.40" width="40.00" height="40.00" fill="none" stroke="#555" stroke-width="0.9"/>
<rect x="294.00" y="488.40" width="40.00" height="40.00" fill="none" stroke="#555" stroke-width="0.9"/>
<path d="M256.00,410.50 C257.23,409.55 260.00,410.13 262.00,410.30 C264.00,410.47 266.33,410.72 268.00,411.50 C269.67,412.28 272.00,413.67 272.00,415.00 C272.00,416.33 269.67,418.37 268.00,419.50 C266.33,420.63 264.00,421.38 262.00,421.80 C260.00,422.22 257.23,422.97 256.00,422.00 C254.77,421.03 254.60,417.92 254.60,416.00 C254.60,414.08 254.77,411.45 256.00,410.50 Z" fill="#1f30a8"/>
<path d="M256.00,410.50 C257.23,409.55 260.00,410.13 262.00,410.30 C264.00,410.47 266.33,410.72 268.00,411.50 C269.67,412.28 272.00,413.67 272.00,415.00 C272.00,416.33 269.67,418.37 268.00,419.50 C266.33,420.63 264.00,421.38 262.00,421.80 C260.00,422.22 257.23,422.97 256.00,422.00 C254.77,421.03 254.60,417.92 254.60,416.00 C254.60,414.08 254.77,411.45 256.00,410.50 Z" fill="#2a8ee0" transform="translate(257.80,416.00) scale(0.88) translate(-257.80,-416.00)"/>
<path d="M256.00,410.50 C257.23,409.55 260.00,410.13 262.00,410.30 C264.00,410.47 266.33,410.72 268.00,411.50 C269.67,412.28 272.00,413.67 272.00,415.00 C272.00,416.33 269.67,418.37 268.00,419.50 C266.33,420.63 264.00,421.38 262.00,421.80 C260.00,422.22 257.23,422.97 256.00,422.00 C254.77,421.03 254.60,417.92 254.60,416.00 C254.60,414.08 254.77,411.45 256.00,410.50 Z" fill="#3cc8d0" transform="translate(257.80,416.00) scale(0.72) translate(-257.80,-416.00)"/>
<path d="M256.00,410.50 C257.23,409.55 260.00,410.13 262.00,410.30 C264.00,410.47 266.33,410.72 268.00,411.50 C269.67,412.28 272.00,413.67 272.00,415.00 C272.00,416.33 269.67,418.37 268.00,419.50 C266.33,420.63 264.00,421.38 262.00,421.80 C260.00,422.22 257.23,422.97 256.00,422.00 C254.77,421.03 254.60,417.92 254.60,416.00 C254.60,414.08 254.77,411.45 256.00,410.50 Z" fill="#6ccc50" transform="translate(257.80,416.00) scale(0.56) translate(-257.80,-416.00)"/>
<path d="M256.00,410.50 C257.23,409.55 260.00,410.13 262.00,410.30 C264.00,410.47 266.33,410.72 268.00,411.50 C269.67,412.28 272.00,413.67 272.00,415.00 C272.00,416.33 269.67,418.37 268.00,419.50 C266.33,420.63 264.00,421.38 262.00,421.80 C260.00,422.22 257.23,422.97 256.00,422.00 C254.77,421.03 254.60,417.92 254.60,416.00 C254.60,414.08 254.77,411.45 256.00,410.50 Z" fill="#e8e040" transform="translate(257.80,416.00) scale(0.42) translate(-257.80,-416.00)"/>
<path d="M256.00,410.50 C257.23,409.55 260.00,410.13 262.00,410.30 C264.00,410.47 266.33,410.72 268.00,411.50 C269.67,412.28 272.00,413.67 272.00,415.00 C272.00,416.33 269.67,418.37 268.00,419.50 C266.33,420.63 264.00,421.38 262.00,421.80 C260.00,422.22 257.23,422.97 256.00,422.00 C254.77,421.03 254.60,417.92 254.60,416.00 C254.60,414.08 254.77,411.45 256.00,410.50 Z" fill="#f07818" transform="translate(257.80,416.00) scale(0.3) translate(-257.80,-416.00)"/>
<path d="M256.00,410.50 C257.23,409.55 260.00,410.13 262.00,410.30 C264.00,410.47 266.33,410.72 268.00,411.50 C269.67,412.28 272.00,413.67 272.00,415.00 C272.00,416.33 269.67,418.37 268.00,419.50 C266.33,420.63 264.00,421.38 262.00,421.80 C260.00,422.22 257.23,422.97 256.00,422.00 C254.77,421.03 254.60,417.92 254.60,416.00 C254.60,414.08 254.77,411.45 256.00,410.50 Z" fill="#e01818" transform="translate(257.80,416.00) scale(0.17) translate(-257.80,-416.00)"/>
<path d="M299.00,411.00 C300.28,410.00 303.17,410.67 305.00,411.00 C306.83,411.33 308.72,412.17 310.00,413.00 C311.28,413.83 312.87,414.83 312.70,416.00 C312.53,417.17 310.45,418.92 309.00,420.00 C307.55,421.08 305.67,422.05 304.00,422.50 C302.33,422.95 300.12,423.62 299.00,422.70 C297.88,421.78 297.30,418.95 297.30,417.00 C297.30,415.05 297.72,412.00 299.00,411.00 Z" fill="#1f30a8"/>
<path d="M299.00,411.00 C300.28,410.00 303.17,410.67 305.00,411.00 C306.83,411.33 308.72,412.17 310.00,413.00 C311.28,413.83 312.87,414.83 312.70,416.00 C312.53,417.17 310.45,418.92 309.00,420.00 C307.55,421.08 305.67,422.05 304.00,422.50 C302.33,422.95 300.12,423.62 299.00,422.70 C297.88,421.78 297.30,418.95 297.30,417.00 C297.30,415.05 297.72,412.00 299.00,411.00 Z" fill="#2a8ee0" transform="translate(301.00,416.50) scale(0.88) translate(-301.00,-416.50)"/>
<path d="M299.00,411.00 C300.28,410.00 303.17,410.67 305.00,411.00 C306.83,411.33 308.72,412.17 310.00,413.00 C311.28,413.83 312.87,414.83 312.70,416.00 C312.53,417.17 310.45,418.92 309.00,420.00 C307.55,421.08 305.67,422.05 304.00,422.50 C302.33,422.95 300.12,423.62 299.00,422.70 C297.88,421.78 297.30,418.95 297.30,417.00 C297.30,415.05 297.72,412.00 299.00,411.00 Z" fill="#3cc8d0" transform="translate(301.00,416.50) scale(0.72) translate(-301.00,-416.50)"/>
<path d="M299.00,411.00 C300.28,410.00 303.17,410.67 305.00,411.00 C306.83,411.33 308.72,412.17 310.00,413.00 C311.28,413.83 312.87,414.83 312.70,416.00 C312.53,417.17 310.45,418.92 309.00,420.00 C307.55,421.08 305.67,422.05 304.00,422.50 C302.33,422.95 300.12,423.62 299.00,422.70 C297.88,421.78 297.30,418.95 297.30,417.00 C297.30,415.05 297.72,412.00 299.00,411.00 Z" fill="#6ccc50" transform="translate(301.00,416.50) scale(0.56) translate(-301.00,-416.50)"/>
<path d="M299.00,411.00 C300.28,410.00 303.17,410.67 305.00,411.00 C306.83,411.33 308.72,412.17 310.00,413.00 C311.28,413.83 312.87,414.83 312.70,416.00 C312.53,417.17 310.45,418.92 309.00,420.00 C307.55,421.08 305.67,422.05 304.00,422.50 C302.33,422.95 300.12,423.62 299.00,422.70 C297.88,421.78 297.30,418.95 297.30,417.00 C297.30,415.05 297.72,412.00 299.00,411.00 Z" fill="#e8e040" transform="translate(301.00,416.50) scale(0.42) translate(-301.00,-416.50)"/>
<path d="M299.00,411.00 C300.28,410.00 303.17,410.67 305.00,411.00 C306.83,411.33 308.72,412.17 310.00,413.00 C311.28,413.83 312.87,414.83 312.70,416.00 C312.53,417.17 310.45,418.92 309.00,420.00 C307.55,421.08 305.67,422.05 304.00,422.50 C302.33,422.95 300.12,423.62 299.00,422.70 C297.88,421.78 297.30,418.95 297.30,417.00 C297.30,415.05 297.72,412.00 299.00,411.00 Z" fill="#f07818" transform="translate(301.00,416.50) scale(0.3) translate(-301.00,-416.50)"/>
<path d="M299.00,411.00 C300.28,410.00 303.17,410.67 305.00,411.00 C306.83,411.33 308.72,412.17 310.00,413.00 C311.28,413.83 312.87,414.83 312.70,416.00 C312.53,417.17 310.45,418.92 309.00,420.00 C307.55,421.08 305.67,422.05 304.00,422.50 C302.33,422.95 300.12,423.62 299.00,422.70 C297.88,421.78 297.30,418.95 297.30,417.00 C297.30,415.05 297.72,412.00 299.00,411.00 Z" fill="#e01818" transform="translate(301.00,416.50) scale(0.17) translate(-301.00,-416.50)"/>
<path d="M256.00,461.30 C256.73,460.55 258.00,461.05 259.00,461.50 C260.00,461.95 260.67,463.08 262.00,464.00 C263.33,464.92 265.33,466.17 267.00,467.00 C268.67,467.83 270.70,468.42 272.00,469.00 C273.30,469.58 275.47,470.03 274.80,470.50 C274.13,470.97 270.47,471.50 268.00,471.80 C265.53,472.10 262.08,472.35 260.00,472.30 C257.92,472.25 256.40,472.55 255.50,471.50 C254.60,470.45 254.52,467.70 254.60,466.00 C254.68,464.30 255.27,462.05 256.00,461.30 Z" fill="#1f30a8"/>
<path d="M256.00,461.30 C256.73,460.55 258.00,461.05 259.00,461.50 C260.00,461.95 260.67,463.08 262.00,464.00 C263.33,464.92 265.33,466.17 267.00,467.00 C268.67,467.83 270.70,468.42 272.00,469.00 C273.30,469.58 275.47,470.03 274.80,470.50 C274.13,470.97 270.47,471.50 268.00,471.80 C265.53,472.10 262.08,472.35 260.00,472.30 C257.92,472.25 256.40,472.55 255.50,471.50 C254.60,470.45 254.52,467.70 254.60,466.00 C254.68,464.30 255.27,462.05 256.00,461.30 Z" fill="#2a8ee0" transform="translate(256.80,469.30) scale(0.88) translate(-256.80,-469.30)"/>
<path d="M256.00,461.30 C256.73,460.55 258.00,461.05 259.00,461.50 C260.00,461.95 260.67,463.08 262.00,464.00 C263.33,464.92 265.33,466.17 267.00,467.00 C268.67,467.83 270.70,468.42 272.00,469.00 C273.30,469.58 275.47,470.03 274.80,470.50 C274.13,470.97 270.47,471.50 268.00,471.80 C265.53,472.10 262.08,472.35 260.00,472.30 C257.92,472.25 256.40,472.55 255.50,471.50 C254.60,470.45 254.52,467.70 254.60,466.00 C254.68,464.30 255.27,462.05 256.00,461.30 Z" fill="#3cc8d0" transform="translate(256.80,469.30) scale(0.72) translate(-256.80,-469.30)"/>
<path d="M256.00,461.30 C256.73,460.55 258.00,461.05 259.00,461.50 C260.00,461.95 260.67,463.08 262.00,464.00 C263.33,464.92 265.33,466.17 267.00,467.00 C268.67,467.83 270.70,468.42 272.00,469.00 C273.30,469.58 275.47,470.03 274.80,470.50 C274.13,470.97 270.47,471.50 268.00,471.80 C265.53,472.10 262.08,472.35 260.00,472.30 C257.92,472.25 256.40,472.55 255.50,471.50 C254.60,470.45 254.52,467.70 254.60,466.00 C254.68,464.30 255.27,462.05 256.00,461.30 Z" fill="#6ccc50" transform="translate(256.80,469.30) scale(0.56) translate(-256.80,-469.30)"/>
<path d="M256.00,461.30 C256.73,460.55 258.00,461.05 259.00,461.50 C260.00,461.95 260.67,463.08 262.00,464.00 C263.33,464.92 265.33,466.17 267.00,467.00 C268.67,467.83 270.70,468.42 272.00,469.00 C273.30,469.58 275.47,470.03 274.80,470.50 C274.13,470.97 270.47,471.50 268.00,471.80 C265.53,472.10 262.08,472.35 260.00,472.30 C257.92,472.25 256.40,472.55 255.50,471.50 C254.60,470.45 254.52,467.70 254.60,466.00 C254.68,464.30 255.27,462.05 256.00,461.30 Z" fill="#e8e040" transform="translate(256.80,469.30) scale(0.42) translate(-256.80,-469.30)"/>
<path d="M256.00,461.30 C256.73,460.55 258.00,461.05 259.00,461.50 C260.00,461.95 260.67,463.08 262.00,464.00 C263.33,464.92 265.33,466.17 267.00,467.00 C268.67,467.83 270.70,468.42 272.00,469.00 C273.30,469.58 275.47,470.03 274.80,470.50 C274.13,470.97 270.47,471.50 268.00,471.80 C265.53,472.10 262.08,472.35 260.00,472.30 C257.92,472.25 256.40,472.55 255.50,471.50 C254.60,470.45 254.52,467.70 254.60,466.00 C254.68,464.30 255.27,462.05 256.00,461.30 Z" fill="#f07818" transform="translate(256.80,469.30) scale(0.3) translate(-256.80,-469.30)"/>
<path d="M256.00,461.30 C256.73,460.55 258.00,461.05 259.00,461.50 C260.00,461.95 260.67,463.08 262.00,464.00 C263.33,464.92 265.33,466.17 267.00,467.00 C268.67,467.83 270.70,468.42 272.00,469.00 C273.30,469.58 275.47,470.03 274.80,470.50 C274.13,470.97 270.47,471.50 268.00,471.80 C265.53,472.10 262.08,472.35 260.00,472.30 C257.92,472.25 256.40,472.55 255.50,471.50 C254.60,470.45 254.52,467.70 254.60,466.00 C254.68,464.30 255.27,462.05 256.00,461.30 Z" fill="#e01818" transform="translate(256.80,469.30) scale(0.17) translate(-256.80,-469.30)"/>
<path d="M299.00,461.30 C299.78,460.47 301.00,461.38 302.00,462.00 C303.00,462.62 303.83,464.00 305.00,465.00 C306.17,466.00 307.95,467.08 309.00,468.00 C310.05,468.92 311.80,469.83 311.30,470.50 C310.80,471.17 308.05,471.70 306.00,472.00 C303.95,472.30 300.45,473.13 299.00,472.30 C297.55,471.47 297.30,468.83 297.30,467.00 C297.30,465.17 298.22,462.13 299.00,461.30 Z" fill="#1f30a8"/>
<path d="M299.00,461.30 C299.78,460.47 301.00,461.38 302.00,462.00 C303.00,462.62 303.83,464.00 305.00,465.00 C306.17,466.00 307.95,467.08 309.00,468.00 C310.05,468.92 311.80,469.83 311.30,470.50 C310.80,471.17 308.05,471.70 306.00,472.00 C303.95,472.30 300.45,473.13 299.00,472.30 C297.55,471.47 297.30,468.83 297.30,467.00 C297.30,465.17 298.22,462.13 299.00,461.30 Z" fill="#2a8ee0" transform="translate(300.30,469.50) scale(0.88) translate(-300.30,-469.50)"/>
<path d="M299.00,461.30 C299.78,460.47 301.00,461.38 302.00,462.00 C303.00,462.62 303.83,464.00 305.00,465.00 C306.17,466.00 307.95,467.08 309.00,468.00 C310.05,468.92 311.80,469.83 311.30,470.50 C310.80,471.17 308.05,471.70 306.00,472.00 C303.95,472.30 300.45,473.13 299.00,472.30 C297.55,471.47 297.30,468.83 297.30,467.00 C297.30,465.17 298.22,462.13 299.00,461.30 Z" fill="#3cc8d0" transform="translate(300.30,469.50) scale(0.72) translate(-300.30,-469.50)"/>
<path d="M299.00,461.30 C299.78,460.47 301.00,461.38 302.00,462.00 C303.00,462.62 303.83,464.00 305.00,465.00 C306.17,466.00 307.95,467.08 309.00,468.00 C310.05,468.92 311.80,469.83 311.30,470.50 C310.80,471.17 308.05,471.70 306.00,472.00 C303.95,472.30 300.45,473.13 299.00,472.30 C297.55,471.47 297.30,468.83 297.30,467.00 C297.30,465.17 298.22,462.13 299.00,461.30 Z" fill="#6ccc50" transform="translate(300.30,469.50) scale(0.56) translate(-300.30,-469.50)"/>
<path d="M299.00,461.30 C299.78,460.47 301.00,461.38 302.00,462.00 C303.00,462.62 303.83,464.00 305.00,465.00 C306.17,466.00 307.95,467.08 309.00,468.00 C310.05,468.92 311.80,469.83 311.30,470.50 C310.80,471.17 308.05,471.70 306.00,472.00 C303.95,472.30 300.45,473.13 299.00,472.30 C297.55,471.47 297.30,468.83 297.30,467.00 C297.30,465.17 298.22,462.13 299.00,461.30 Z" fill="#e8e040" transform="translate(300.30,469.50) scale(0.42) translate(-300.30,-469.50)"/>
<path d="M299.00,461.30 C299.78,460.47 301.00,461.38 302.00,462.00 C303.00,462.62 303.83,464.00 305.00,465.00 C306.17,466.00 307.95,467.08 309.00,468.00 C310.05,468.92 311.80,469.83 311.30,470.50 C310.80,471.17 308.05,471.70 306.00,472.00 C303.95,472.30 300.45,473.13 299.00,472.30 C297.55,471.47 297.30,468.83 297.30,467.00 C297.30,465.17 298.22,462.13 299.00,461.30 Z" fill="#f07818" transform="translate(300.30,469.50) scale(0.3) translate(-300.30,-469.50)"/>
<path d="M299.00,461.30 C299.78,460.47 301.00,461.38 302.00,462.00 C303.00,462.62 303.83,464.00 305.00,465.00 C306.17,466.00 307.95,467.08 309.00,468.00 C310.05,468.92 311.80,469.83 311.30,470.50 C310.80,471.17 308.05,471.70 306.00,472.00 C303.95,472.30 300.45,473.13 299.00,472.30 C297.55,471.47 297.30,468.83 297.30,467.00 C297.30,465.17 298.22,462.13 299.00,461.30 Z" fill="#e01818" transform="translate(300.30,469.50) scale(0.17) translate(-300.30,-469.50)"/>
<path d="M256.00,506.80 C257.23,506.07 260.00,506.48 262.00,506.60 C264.00,506.72 266.33,507.35 268.00,507.50 C269.67,507.65 270.67,507.25 272.00,507.50 C273.33,507.75 275.08,508.42 276.00,509.00 C276.92,509.58 277.83,510.33 277.50,511.00 C277.17,511.67 275.58,512.50 274.00,513.00 C272.42,513.50 270.00,513.67 268.00,514.00 C266.00,514.33 264.00,514.85 262.00,515.00 C260.00,515.15 257.23,515.57 256.00,514.90 C254.77,514.23 254.60,512.35 254.60,511.00 C254.60,509.65 254.77,507.53 256.00,506.80 Z" fill="#1f30a8"/>
<path d="M256.00,506.80 C257.23,506.07 260.00,506.48 262.00,506.60 C264.00,506.72 266.33,507.35 268.00,507.50 C269.67,507.65 270.67,507.25 272.00,507.50 C273.33,507.75 275.08,508.42 276.00,509.00 C276.92,509.58 277.83,510.33 277.50,511.00 C277.17,511.67 275.58,512.50 274.00,513.00 C272.42,513.50 270.00,513.67 268.00,514.00 C266.00,514.33 264.00,514.85 262.00,515.00 C260.00,515.15 257.23,515.57 256.00,514.90 C254.77,514.23 254.60,512.35 254.60,511.00 C254.60,509.65 254.77,507.53 256.00,506.80 Z" fill="#2a8ee0" transform="translate(257.80,511.50) scale(0.88) translate(-257.80,-511.50)"/>
<path d="M256.00,506.80 C257.23,506.07 260.00,506.48 262.00,506.60 C264.00,506.72 266.33,507.35 268.00,507.50 C269.67,507.65 270.67,507.25 272.00,507.50 C273.33,507.75 275.08,508.42 276.00,509.00 C276.92,509.58 277.83,510.33 277.50,511.00 C277.17,511.67 275.58,512.50 274.00,513.00 C272.42,513.50 270.00,513.67 268.00,514.00 C266.00,514.33 264.00,514.85 262.00,515.00 C260.00,515.15 257.23,515.57 256.00,514.90 C254.77,514.23 254.60,512.35 254.60,511.00 C254.60,509.65 254.77,507.53 256.00,506.80 Z" fill="#3cc8d0" transform="translate(257.80,511.50) scale(0.72) translate(-257.80,-511.50)"/>
<path d="M256.00,506.80 C257.23,506.07 260.00,506.48 262.00,506.60 C264.00,506.72 266.33,507.35 268.00,507.50 C269.67,507.65 270.67,507.25 272.00,507.50 C273.33,507.75 275.08,508.42 276.00,509.00 C276.92,509.58 277.83,510.33 277.50,511.00 C277.17,511.67 275.58,512.50 274.00,513.00 C272.42,513.50 270.00,513.67 268.00,514.00 C266.00,514.33 264.00,514.85 262.00,515.00 C260.00,515.15 257.23,515.57 256.00,514.90 C254.77,514.23 254.60,512.35 254.60,511.00 C254.60,509.65 254.77,507.53 256.00,506.80 Z" fill="#6ccc50" transform="translate(257.80,511.50) scale(0.56) translate(-257.80,-511.50)"/>
<path d="M256.00,506.80 C257.23,506.07 260.00,506.48 262.00,506.60 C264.00,506.72 266.33,507.35 268.00,507.50 C269.67,507.65 270.67,507.25 272.00,507.50 C273.33,507.75 275.08,508.42 276.00,509.00 C276.92,509.58 277.83,510.33 277.50,511.00 C277.17,511.67 275.58,512.50 274.00,513.00 C272.42,513.50 270.00,513.67 268.00,514.00 C266.00,514.33 264.00,514.85 262.00,515.00 C260.00,515.15 257.23,515.57 256.00,514.90 C254.77,514.23 254.60,512.35 254.60,511.00 C254.60,509.65 254.77,507.53 256.00,506.80 Z" fill="#e8e040" transform="translate(257.80,511.50) scale(0.42) translate(-257.80,-511.50)"/>
<path d="M256.00,506.80 C257.23,506.07 260.00,506.48 262.00,506.60 C264.00,506.72 266.33,507.35 268.00,507.50 C269.67,507.65 270.67,507.25 272.00,507.50 C273.33,507.75 275.08,508.42 276.00,509.00 C276.92,509.58 277.83,510.33 277.50,511.00 C277.17,511.67 275.58,512.50 274.00,513.00 C272.42,513.50 270.00,513.67 268.00,514.00 C266.00,514.33 264.00,514.85 262.00,515.00 C260.00,515.15 257.23,515.57 256.00,514.90 C254.77,514.23 254.60,512.35 254.60,511.00 C254.60,509.65 254.77,507.53 256.00,506.80 Z" fill="#f07818" transform="translate(257.80,511.50) scale(0.3) translate(-257.80,-511.50)"/>
<path d="M256.00,506.80 C257.23,506.07 260.00,506.48 262.00,506.60 C264.00,506.72 266.33,507.35 268.00,507.50 C269.67,507.65 270.67,507.25 272.00,507.50 C273.33,507.75 275.08,508.42 276.00,509.00 C276.92,509.58 277.83,510.33 277.50,511.00 C277.17,511.67 275.58,512.50 274.00,513.00 C272.42,513.50 270.00,513.67 268.00,514.00 C266.00,514.33 264.00,514.85 262.00,515.00 C260.00,515.15 257.23,515.57 256.00,514.90 C254.77,514.23 254.60,512.35 254.60,511.00 C254.60,509.65 254.77,507.53 256.00,506.80 Z" fill="#e01818" transform="translate(257.80,511.50) scale(0.17) translate(-257.80,-511.50)"/>
<path d="M299.00,506.80 C300.28,506.13 303.17,506.72 305.00,507.00 C306.83,507.28 308.60,507.83 310.00,508.50 C311.40,509.17 313.57,510.17 313.40,511.00 C313.23,511.83 310.73,512.83 309.00,513.50 C307.27,514.17 304.67,514.77 303.00,515.00 C301.33,515.23 299.95,515.57 299.00,514.90 C298.05,514.23 297.30,512.35 297.30,511.00 C297.30,509.65 297.72,507.47 299.00,506.80 Z" fill="#1f30a8"/>
<path d="M299.00,506.80 C300.28,506.13 303.17,506.72 305.00,507.00 C306.83,507.28 308.60,507.83 310.00,508.50 C311.40,509.17 313.57,510.17 313.40,511.00 C313.23,511.83 310.73,512.83 309.00,513.50 C307.27,514.17 304.67,514.77 303.00,515.00 C301.33,515.23 299.95,515.57 299.00,514.90 C298.05,514.23 297.30,512.35 297.30,511.00 C297.30,509.65 297.72,507.47 299.00,506.80 Z" fill="#2a8ee0" transform="translate(301.00,511.50) scale(0.88) translate(-301.00,-511.50)"/>
<path d="M299.00,506.80 C300.28,506.13 303.17,506.72 305.00,507.00 C306.83,507.28 308.60,507.83 310.00,508.50 C311.40,509.17 313.57,510.17 313.40,511.00 C313.23,511.83 310.73,512.83 309.00,513.50 C307.27,514.17 304.67,514.77 303.00,515.00 C301.33,515.23 299.95,515.57 299.00,514.90 C298.05,514.23 297.30,512.35 297.30,511.00 C297.30,509.65 297.72,507.47 299.00,506.80 Z" fill="#3cc8d0" transform="translate(301.00,511.50) scale(0.72) translate(-301.00,-511.50)"/>
<path d="M299.00,506.80 C300.28,506.13 303.17,506.72 305.00,507.00 C306.83,507.28 308.60,507.83 310.00,508.50 C311.40,509.17 313.57,510.17 313.40,511.00 C313.23,511.83 310.73,512.83 309.00,513.50 C307.27,514.17 304.67,514.77 303.00,515.00 C301.33,515.23 299.95,515.57 299.00,514.90 C298.05,514.23 297.30,512.35 297.30,511.00 C297.30,509.65 297.72,507.47 299.00,506.80 Z" fill="#6ccc50" transform="translate(301.00,511.50) scale(0.56) translate(-301.00,-511.50)"/>
<path d="M299.00,506.80 C300.28,506.13 303.17,506.72 305.00,507.00 C306.83,507.28 308.60,507.83 310.00,508.50 C311.40,509.17 313.57,510.17 313.40,511.00 C313.23,511.83 310.73,512.83 309.00,513.50 C307.27,514.17 304.67,514.77 303.00,515.00 C301.33,515.23 299.95,515.57 299.00,514.90 C298.05,514.23 297.30,512.35 297.30,511.00 C297.30,509.65 297.72,507.47 299.00,506.80 Z" fill="#e8e040" transform="translate(301.00,511.50) scale(0.42) translate(-301.00,-511.50)"/>
<path d="M299.00,506.80 C300.28,506.13 303.17,506.72 305.00,507.00 C306.83,507.28 308.60,507.83 310.00,508.50 C311.40,509.17 313.57,510.17 313.40,511.00 C313.23,511.83 310.73,512.83 309.00,513.50 C307.27,514.17 304.67,514.77 303.00,515.00 C301.33,515.23 299.95,515.57 299.00,514.90 C298.05,514.23 297.30,512.35 297.30,511.00 C297.30,509.65 297.72,507.47 299.00,506.80 Z" fill="#f07818" transform="translate(301.00,511.50) scale(0.3) translate(-301.00,-511.50)"/>
<path d="M299.00,506.80 C300.28,506.13 303.17,506.72 305.00,507.00 C306.83,507.28 308.60,507.83 310.00,508.50 C311.40,509.17 313.57,510.17 313.40,511.00 C313.23,511.83 310.73,512.83 309.00,513.50 C307.27,514.17 304.67,514.77 303.00,515.00 C301.33,515.23 299.95,515.57 299.00,514.90 C298.05,514.23 297.30,512.35 297.30,511.00 C297.30,509.65 297.72,507.47 299.00,506.80 Z" fill="#e01818" transform="translate(301.00,511.50) scale(0.17) translate(-301.00,-511.50)"/>
<rect x="259.60" y="409.00" width="24.10" height="15.80" fill="none" stroke="#333" stroke-width="0.7"/>
<rect x="303.70" y="409.00" width="23.40" height="15.80" fill="none" stroke="#333" stroke-width="0.7"/>
<rect x="259.60" y="461.00" width="22.90" height="13.40" fill="none" stroke="#333" stroke-width="0.7"/>
<rect x="303.70" y="461.00" width="22.80" height="13.40" fill="none" stroke="#333" stroke-width="0.7"/>
<rect x="259.60" y="505.60" width="24.80" height="10.60" fill="none" stroke="#333" stroke-width="0.7"/>
<rect x="303.70" y="505.60" width="24.80" height="10.60" fill="none" stroke="#333" stroke-width="0.7"/>
<text transform="translate(273.80,434.70) scale(1,1.0)" x="0" y="0" font-size="8.6" text-anchor="middle" fill="#1a1a1a" color="#1a1a1a" font-weight="normal" font-style="normal" >51.3%</text>
<text transform="translate(318.80,434.70) scale(1,1.0)" x="0" y="0" font-size="8.6" text-anchor="middle" fill="#1a1a1a" color="#1a1a1a" font-weight="normal" font-style="normal" >26.0%</text>
<text transform="translate(273.80,482.70) scale(1,1.0)" x="0" y="0" font-size="8.6" text-anchor="middle" fill="#1a1a1a" color="#1a1a1a" font-weight="normal" font-style="normal" >20.8%</text>
<text transform="translate(318.80,482.70) scale(1,1.0)" x="0" y="0" font-size="8.6" text-anchor="middle" fill="#1a1a1a" color="#1a1a1a" font-weight="normal" font-style="normal" >13.4%</text>
<text transform="translate(273.80,526.40) scale(1,1.0)" x="0" y="0" font-size="8.6" text-anchor="middle" fill="#1a1a1a" color="#1a1a1a" font-weight="normal" font-style="normal" >44.0%</text>
<text transform="translate(318.80,526.40) scale(1,1.0)" x="0" y="0" font-size="8.6" text-anchor="middle" fill="#1a1a1a" color="#1a1a1a" font-weight="normal" font-style="normal" >32.8%</text>
<text transform="translate(245.80,251.00) rotate(-90) scale(1,1.0)" x="0" y="3.06" font-size="8.5" text-anchor="middle" fill="#1a1a1a" color="#1a1a1a" font-style="normal">CD8</text>
<line x1="244.50" y1="225.00" x2="244.50" y2="242.00" stroke="#1a1a1a" stroke-width="1"/>
<polygon points="244.50,223.00 243.00,226.00 246.00,226.00" fill="#1a1a1a"/>
<text transform="translate(245.80,295.00) rotate(-90) scale(1,1.0)" x="0" y="3.06" font-size="8.5" text-anchor="middle" fill="#1a1a1a" color="#1a1a1a" font-style="normal">CD4</text>
<line x1="244.50" y1="267.00" x2="244.50" y2="286.00" stroke="#1a1a1a" stroke-width="1"/>
<polygon points="244.50,265.00 243.00,268.00 246.00,268.00" fill="#1a1a1a"/>
<text transform="translate(245.80,336.00) rotate(-90) scale(1,1.0)" x="0" y="3.06" font-size="8.5" text-anchor="middle" fill="#1a1a1a" color="#1a1a1a" font-style="normal">NK1.1</text>
<line x1="244.50" y1="311.00" x2="244.50" y2="322.00" stroke="#1a1a1a" stroke-width="1"/>
<polygon points="244.50,309.00 243.00,312.00 246.00,312.00" fill="#1a1a1a"/>
<text transform="translate(251.00,354.88) scale(1,1.0)" x="0" y="0" font-size="8" text-anchor="start" fill="#1a1a1a" color="#1a1a1a" font-weight="normal" font-style="normal" >IFNγ</text>
<line x1="270.00" y1="352.00" x2="287.00" y2="352.00" stroke="#1a1a1a" stroke-width="1"/>
<polygon points="289.00,352.00 286.00,350.50 286.00,353.50" fill="#1a1a1a"/>
<text transform="translate(269.50,216.50) rotate(-45) scale(1,1.0)" x="0" y="0" font-size="8.5" fill="#1a1a1a" color="#1a1a1a"><tspan font-style="italic">Gsdmd</tspan><tspan font-size="64%" baseline-shift="44%"><tspan font-style="italic">fl/fl</tspan></tspan></text>
<text transform="translate(311.50,217.00) rotate(-45) scale(1,1.0)" x="0" y="0" font-size="8.5" fill="#1a1a1a" color="#1a1a1a"><tspan font-style="italic">Gsdmd</tspan><tspan font-size="64%" baseline-shift="44%"><tspan font-style="italic">fl/fl</tspan></tspan><tspan font-style="italic">CD4</tspan><tspan font-size="64%" baseline-shift="44%"><tspan font-style="italic">cre</tspan></tspan></text>
<text transform="translate(245.80,433.30) rotate(-90) scale(1,1.0)" x="0" y="3.06" font-size="8.5" text-anchor="middle" fill="#1a1a1a" color="#1a1a1a" font-style="normal">CD8</text>
<line x1="244.50" y1="405.00" x2="244.50" y2="424.00" stroke="#1a1a1a" stroke-width="1"/>
<polygon points="244.50,403.00 243.00,406.00 246.00,406.00" fill="#1a1a1a"/>
<text transform="translate(245.80,477.00) rotate(-90) scale(1,1.0)" x="0" y="3.06" font-size="8.5" text-anchor="middle" fill="#1a1a1a" color="#1a1a1a" font-style="normal">CD4</text>
<line x1="244.50" y1="449.50" x2="244.50" y2="469.00" stroke="#1a1a1a" stroke-width="1"/>
<polygon points="244.50,447.50 243.00,450.50 246.00,450.50" fill="#1a1a1a"/>
<text transform="translate(245.80,516.00) rotate(-90) scale(1,1.0)" x="0" y="3.06" font-size="8.5" text-anchor="middle" fill="#1a1a1a" color="#1a1a1a" font-style="normal">NK1.1</text>
<line x1="244.50" y1="489.50" x2="244.50" y2="505.00" stroke="#1a1a1a" stroke-width="1"/>
<polygon points="244.50,487.50 243.00,490.50 246.00,490.50" fill="#1a1a1a"/>
<text transform="translate(251.00,536.68) scale(1,1.0)" x="0" y="0" font-size="8" text-anchor="start" fill="#1a1a1a" color="#1a1a1a" font-weight="normal" font-style="normal" >IFNγ</text>
<line x1="270.00" y1="533.80" x2="287.00" y2="533.80" stroke="#1a1a1a" stroke-width="1"/>
<polygon points="289.00,533.80 286.00,532.30 286.00,535.30" fill="#1a1a1a"/>
<text transform="translate(270.00,399.00) rotate(-45) scale(1,1.0)" x="0" y="0" font-size="8.5" fill="#1a1a1a" color="#1a1a1a"><tspan font-style="italic">Gsdmd</tspan><tspan font-size="64%" baseline-shift="44%"><tspan font-style="italic">fl/fl</tspan></tspan></text>
<text transform="translate(312.00,399.50) rotate(-45) scale(1,1.0)" x="0" y="0" font-size="8.5" fill="#1a1a1a" color="#1a1a1a"><tspan font-style="italic">Gsdmd</tspan><tspan font-size="64%" baseline-shift="44%"><tspan font-style="italic">fl/fl</tspan></tspan><tspan font-style="italic">CD4</tspan><tspan font-size="64%" baseline-shift="44%"><tspan font-style="italic">cre</tspan></tspan></text>
<defs><linearGradient id="gc" x1="0" y1="0" x2="1" y2="1"><stop offset="0" stop-color="#4e4e4e"/><stop offset="0.5" stop-color="#454545"/><stop offset="1" stop-color="#3e3e3e"/></linearGradient></defs>
<rect x="561.00" y="25.00" width="48.30" height="94.60" fill="url(#gc)"/>
<ellipse cx="571.30" cy="35.90" rx="7.35" ry="6.30" fill="#262626" opacity="0.45"/>
<ellipse cx="570.70" cy="35.00" rx="5.73" ry="4.91" fill="#e8c6bf"/>
<ellipse cx="574.37" cy="34.08" rx="3.53" ry="3.48" fill="#e8c6bf"/>
<ellipse cx="571.73" cy="37.79" rx="3.93" ry="3.88" fill="#e8c6bf"/>
<ellipse cx="568.19" cy="37.51" rx="3.49" ry="3.44" fill="#e8c6bf"/>
<ellipse cx="567.11" cy="34.25" rx="3.65" ry="3.60" fill="#e8c6bf"/>
<ellipse cx="567.81" cy="32.86" rx="3.53" ry="3.48" fill="#e8c6bf"/>
<ellipse cx="571.19" cy="32.42" rx="4.30" ry="4.24" fill="#e8c6bf"/>
<ellipse cx="575.08" cy="34.17" rx="1.96" ry="1.77" fill="#f6e6e0" opacity="0.8"/>
<ellipse cx="567.80" cy="33.38" rx="1.78" ry="1.35" fill="#f6e6e0" opacity="0.8"/>
<ellipse cx="571.94" cy="37.34" rx="1.82" ry="1.96" fill="#f6e6e0" opacity="0.8"/>
<ellipse cx="574.63" cy="37.00" rx="0.96" ry="1.15" fill="#d84858" opacity="0.8"/>
<ellipse cx="567.02" cy="31.89" rx="1.20" ry="1.24" fill="#d84858" opacity="0.8"/>
<ellipse cx="599.60" cy="38.40" rx="8.30" ry="7.00" fill="#262626" opacity="0.45"/>
<ellipse cx="599.00" cy="37.50" rx="6.47" ry="5.46" fill="#e8c6bf"/>
<ellipse cx="603.78" cy="37.76" rx="3.51" ry="3.40" fill="#e8c6bf"/>
<ellipse cx="599.52" cy="40.38" rx="4.84" ry="4.70" fill="#e8c6bf"/>
<ellipse cx="597.12" cy="40.42" rx="4.37" ry="4.23" fill="#e8c6bf"/>
<ellipse cx="594.38" cy="38.41" rx="3.56" ry="3.45" fill="#e8c6bf"/>
<ellipse cx="596.52" cy="34.98" rx="4.42" ry="4.29" fill="#e8c6bf"/>
<ellipse cx="599.98" cy="34.78" rx="4.93" ry="4.78" fill="#e8c6bf"/>
<ellipse cx="594.25" cy="35.78" rx="1.63" ry="1.77" fill="#f6e6e0" opacity="0.8"/>
<ellipse cx="597.52" cy="37.34" rx="1.99" ry="1.64" fill="#f6e6e0" opacity="0.8"/>
<ellipse cx="597.94" cy="35.87" rx="2.15" ry="1.30" fill="#f6e6e0" opacity="0.8"/>
<ellipse cx="600.69" cy="38.37" rx="1.13" ry="1.30" fill="#d84858" opacity="0.8"/>
<ellipse cx="572.60" cy="58.60" rx="7.35" ry="5.65" fill="#262626" opacity="0.45"/>
<ellipse cx="572.00" cy="57.70" rx="5.73" ry="4.41" fill="#e8c6bf"/>
<ellipse cx="575.42" cy="56.94" rx="3.79" ry="3.35" fill="#e8c6bf"/>
<ellipse cx="574.41" cy="59.55" rx="3.95" ry="3.49" fill="#e8c6bf"/>
<ellipse cx="569.75" cy="60.18" rx="3.41" ry="3.02" fill="#e8c6bf"/>
<ellipse cx="568.37" cy="57.44" rx="3.71" ry="3.28" fill="#e8c6bf"/>
<ellipse cx="569.13" cy="55.91" rx="3.65" ry="3.23" fill="#e8c6bf"/>
<ellipse cx="574.16" cy="55.37" rx="3.63" ry="3.21" fill="#e8c6bf"/>
<ellipse cx="575.72" cy="58.76" rx="2.07" ry="1.23" fill="#f6e6e0" opacity="0.8"/>
<ellipse cx="568.35" cy="59.10" rx="2.53" ry="1.61" fill="#f6e6e0" opacity="0.8"/>
<ellipse cx="571.43" cy="57.70" rx="1.83" ry="1.53" fill="#f6e6e0" opacity="0.8"/>
<ellipse cx="571.91" cy="57.20" rx="1.28" ry="0.75" fill="#d84858" opacity="0.8"/>
<ellipse cx="598.90" cy="55.90" rx="9.00" ry="6.30" fill="#262626" opacity="0.45"/>
<ellipse cx="598.30" cy="55.00" rx="7.02" ry="4.91" fill="#e8c6bf"/>
<ellipse cx="602.64" cy="56.22" rx="4.32" ry="3.48" fill="#e8c6bf"/>
<ellipse cx="599.71" cy="57.71" rx="4.88" ry="3.92" fill="#e8c6bf"/>
<ellipse cx="596.72" cy="58.63" rx="3.57" ry="2.88" fill="#e8c6bf"/>
<ellipse cx="592.98" cy="54.69" rx="3.66" ry="2.95" fill="#e8c6bf"/>
<ellipse cx="596.09" cy="52.82" rx="5.18" ry="4.17" fill="#e8c6bf"/>
<ellipse cx="602.21" cy="52.45" rx="3.66" ry="2.94" fill="#e8c6bf"/>
<ellipse cx="593.29" cy="53.60" rx="2.74" ry="1.02" fill="#f6e6e0" opacity="0.8"/>
<ellipse cx="595.00" cy="53.02" rx="1.69" ry="1.52" fill="#f6e6e0" opacity="0.8"/>
<ellipse cx="594.50" cy="54.54" rx="2.60" ry="1.72" fill="#f6e6e0" opacity="0.8"/>
<ellipse cx="595.02" cy="55.99" rx="1.57" ry="1.13" fill="#d84858" opacity="0.8"/>
<ellipse cx="593.33" cy="53.13" rx="1.02" ry="1.19" fill="#d84858" opacity="0.8"/>
<ellipse cx="572.60" cy="76.20" rx="6.65" ry="4.65" fill="#262626" opacity="0.45"/>
<ellipse cx="572.00" cy="75.30" rx="5.19" ry="3.63" fill="#e8c6bf"/>
<ellipse cx="574.66" cy="76.02" rx="3.80" ry="3.06" fill="#e8c6bf"/>
<ellipse cx="573.26" cy="77.80" rx="2.86" ry="2.30" fill="#e8c6bf"/>
<ellipse cx="570.83" cy="77.29" rx="3.57" ry="2.87" fill="#e8c6bf"/>
<ellipse cx="568.02" cy="74.60" rx="2.55" ry="2.05" fill="#e8c6bf"/>
<ellipse cx="570.00" cy="73.92" rx="3.84" ry="3.09" fill="#e8c6bf"/>
<ellipse cx="572.68" cy="73.14" rx="3.49" ry="2.80" fill="#e8c6bf"/>
<ellipse cx="570.49" cy="75.84" rx="2.79" ry="1.58" fill="#f6e6e0" opacity="0.8"/>
<ellipse cx="571.03" cy="74.64" rx="2.43" ry="1.63" fill="#f6e6e0" opacity="0.8"/>
<ellipse cx="571.20" cy="75.17" rx="2.30" ry="1.26" fill="#f6e6e0" opacity="0.8"/>
<ellipse cx="575.21" cy="73.16" rx="0.84" ry="1.25" fill="#d84858" opacity="0.8"/>
<ellipse cx="599.60" cy="74.20" rx="9.00" ry="6.00" fill="#262626" opacity="0.45"/>
<ellipse cx="599.00" cy="73.30" rx="7.02" ry="4.68" fill="#e8c6bf"/>
<ellipse cx="603.67" cy="74.27" rx="4.11" ry="3.15" fill="#e8c6bf"/>
<ellipse cx="600.06" cy="75.66" rx="5.30" ry="4.07" fill="#e8c6bf"/>
<ellipse cx="597.52" cy="75.82" rx="4.94" ry="3.79" fill="#e8c6bf"/>
<ellipse cx="593.79" cy="73.76" rx="3.74" ry="2.87" fill="#e8c6bf"/>
<ellipse cx="596.54" cy="71.12" rx="4.91" ry="3.76" fill="#e8c6bf"/>
<ellipse cx="600.02" cy="70.53" rx="4.73" ry="3.62" fill="#e8c6bf"/>
<ellipse cx="597.22" cy="71.71" rx="2.15" ry="1.39" fill="#f6e6e0" opacity="0.8"/>
<ellipse cx="598.52" cy="75.13" rx="2.88" ry="1.23" fill="#f6e6e0" opacity="0.8"/>
<ellipse cx="604.85" cy="73.84" rx="2.94" ry="1.82" fill="#f6e6e0" opacity="0.8"/>
<ellipse cx="593.73" cy="72.26" rx="1.62" ry="1.36" fill="#d84858" opacity="0.8"/>
<ellipse cx="597.30" cy="74.65" rx="1.47" ry="0.83" fill="#d84858" opacity="0.8"/>
<ellipse cx="573.30" cy="96.90" rx="6.65" ry="4.70" fill="#262626" opacity="0.45"/>
<ellipse cx="572.70" cy="96.00" rx="5.19" ry="3.67" fill="#e8c6bf"/>
<ellipse cx="575.46" cy="96.33" rx="3.85" ry="3.13" fill="#e8c6bf"/>
<ellipse cx="574.87" cy="97.19" rx="3.91" ry="3.17" fill="#e8c6bf"/>
<ellipse cx="569.86" cy="98.03" rx="2.61" ry="2.12" fill="#e8c6bf"/>
<ellipse cx="569.84" cy="95.49" rx="3.70" ry="3.01" fill="#e8c6bf"/>
<ellipse cx="570.81" cy="94.63" rx="3.95" ry="3.21" fill="#e8c6bf"/>
<ellipse cx="574.10" cy="93.76" rx="3.19" ry="2.59" fill="#e8c6bf"/>
<ellipse cx="574.06" cy="96.72" rx="2.62" ry="1.28" fill="#f6e6e0" opacity="0.8"/>
<ellipse cx="572.56" cy="94.64" rx="1.91" ry="1.49" fill="#f6e6e0" opacity="0.8"/>
<ellipse cx="568.93" cy="95.43" rx="2.72" ry="1.18" fill="#f6e6e0" opacity="0.8"/>
<ellipse cx="569.02" cy="94.09" rx="1.12" ry="1.21" fill="#d84858" opacity="0.8"/>
<ellipse cx="575.27" cy="95.41" rx="1.49" ry="0.92" fill="#d84858" opacity="0.8"/>
<ellipse cx="598.30" cy="92.90" rx="7.65" ry="7.30" fill="#262626" opacity="0.45"/>
<ellipse cx="597.70" cy="92.00" rx="5.97" ry="5.69" fill="#e8c6bf"/>
<ellipse cx="601.39" cy="91.28" rx="3.89" ry="4.26" fill="#e8c6bf"/>
<ellipse cx="598.23" cy="95.43" rx="4.01" ry="4.40" fill="#e8c6bf"/>
<ellipse cx="595.64" cy="95.52" rx="3.43" ry="3.76" fill="#e8c6bf"/>
<ellipse cx="594.77" cy="92.83" rx="4.59" ry="5.03" fill="#e8c6bf"/>
<ellipse cx="596.34" cy="88.09" rx="3.33" ry="3.65" fill="#e8c6bf"/>
<ellipse cx="599.70" cy="89.20" rx="4.10" ry="4.50" fill="#e8c6bf"/>
<ellipse cx="601.85" cy="90.72" rx="1.97" ry="1.19" fill="#f6e6e0" opacity="0.8"/>
<ellipse cx="598.62" cy="94.46" rx="2.60" ry="1.14" fill="#f6e6e0" opacity="0.8"/>
<ellipse cx="596.40" cy="89.53" rx="1.74" ry="1.49" fill="#f6e6e0" opacity="0.8"/>
<ellipse cx="597.27" cy="89.00" rx="1.07" ry="1.00" fill="#d84858" opacity="0.8"/>
<ellipse cx="572.30" cy="113.90" rx="5.65" ry="5.00" fill="#262626" opacity="0.45"/>
<ellipse cx="571.70" cy="113.00" rx="4.41" ry="3.90" fill="#e8c6bf"/>
<ellipse cx="574.08" cy="112.36" rx="3.16" ry="3.22" fill="#e8c6bf"/>
<ellipse cx="572.36" cy="115.61" rx="2.63" ry="2.67" fill="#e8c6bf"/>
<ellipse cx="570.60" cy="115.71" rx="2.39" ry="2.43" fill="#e8c6bf"/>
<ellipse cx="568.64" cy="113.94" rx="2.41" ry="2.46" fill="#e8c6bf"/>
<ellipse cx="570.01" cy="111.44" rx="3.21" ry="3.27" fill="#e8c6bf"/>
<ellipse cx="572.59" cy="110.22" rx="2.38" ry="2.43" fill="#e8c6bf"/>
<ellipse cx="574.92" cy="114.67" rx="1.65" ry="1.32" fill="#f6e6e0" opacity="0.8"/>
<ellipse cx="575.38" cy="112.56" rx="2.44" ry="1.69" fill="#f6e6e0" opacity="0.8"/>
<ellipse cx="572.81" cy="111.22" rx="2.58" ry="1.81" fill="#f6e6e0" opacity="0.8"/>
<ellipse cx="568.19" cy="114.54" rx="1.13" ry="1.16" fill="#d84858" opacity="0.8"/>
<ellipse cx="569.72" cy="113.06" rx="1.76" ry="0.85" fill="#d84858" opacity="0.8"/>
<ellipse cx="598.30" cy="113.60" rx="7.65" ry="6.00" fill="#262626" opacity="0.45"/>
<ellipse cx="597.70" cy="112.70" rx="5.97" ry="4.68" fill="#e8c6bf"/>
<ellipse cx="601.61" cy="112.15" rx="3.68" ry="3.32" fill="#e8c6bf"/>
<ellipse cx="599.83" cy="115.87" rx="3.08" ry="2.78" fill="#e8c6bf"/>
<ellipse cx="596.13" cy="114.83" rx="4.52" ry="4.07" fill="#e8c6bf"/>
<ellipse cx="593.84" cy="112.55" rx="3.78" ry="3.41" fill="#e8c6bf"/>
<ellipse cx="596.55" cy="109.71" rx="3.67" ry="3.31" fill="#e8c6bf"/>
<ellipse cx="598.82" cy="110.24" rx="4.32" ry="3.90" fill="#e8c6bf"/>
<ellipse cx="594.30" cy="114.57" rx="2.83" ry="1.55" fill="#f6e6e0" opacity="0.8"/>
<ellipse cx="597.87" cy="110.62" rx="1.76" ry="1.77" fill="#f6e6e0" opacity="0.8"/>
<ellipse cx="600.03" cy="113.29" rx="1.71" ry="1.72" fill="#f6e6e0" opacity="0.8"/>
<ellipse cx="601.49" cy="113.69" rx="1.25" ry="1.00" fill="#d84858" opacity="0.8"/>
<ellipse cx="594.16" cy="109.95" rx="1.77" ry="0.98" fill="#d84858" opacity="0.8"/>
<text transform="translate(580.00,127.50) rotate(-45) scale(1,1.0)" x="0" y="0" font-size="8.5" text-anchor="end" fill="#1a1a1a" color="#1a1a1a"><tspan font-style="italic">Gsdmd</tspan><tspan font-size="64%" baseline-shift="44%"><tspan font-style="italic">fl/fl</tspan></tspan></text>
<text transform="translate(604.50,126.50) rotate(-45) scale(1,1.0)" x="0" y="0" font-size="8.5" text-anchor="end" fill="#1a1a1a" color="#1a1a1a"><tspan font-style="italic">Gsdmd</tspan><tspan font-size="64%" baseline-shift="44%"><tspan font-style="italic">fl/fl</tspan></tspan><tspan font-style="italic">CD4</tspan><tspan font-size="64%" baseline-shift="44%"><tspan font-style="italic">cre</tspan></tspan></text>
<defs><linearGradient id="gi" x1="0" y1="0" x2="1" y2="1"><stop offset="0" stop-color="#454545"/><stop offset="0.5" stop-color="#3a3a3a"/><stop offset="1" stop-color="#353535"/></linearGradient></defs>
<rect x="390.40" y="582.30" width="68.70" height="84.50" fill="url(#gi)"/>
<rect x="448.80" y="582.30" width="10.30" height="84.50" fill="#7a7a7a"/>
<rect x="448.80" y="582.30" width="1.3" height="84.50" fill="#c8c8c8"/>
<rect x="450.10" y="582.30" width="2.2" height="84.50" fill="#5a5a5a"/>
<rect x="456.60" y="585.30" width="2.5" height="0.6" fill="#555"/>
<rect x="456.60" y="588.50" width="2.5" height="0.6" fill="#555"/>
<rect x="456.60" y="591.70" width="2.5" height="0.6" fill="#555"/>
<rect x="456.60" y="594.90" width="2.5" height="0.6" fill="#555"/>
<rect x="456.60" y="598.10" width="2.5" height="0.6" fill="#555"/>
<rect x="456.60" y="601.30" width="2.5" height="0.6" fill="#555"/>
<rect x="456.60" y="604.50" width="2.5" height="0.6" fill="#555"/>
<rect x="456.60" y="607.70" width="2.5" height="0.6" fill="#555"/>
<rect x="456.60" y="610.90" width="2.5" height="0.6" fill="#555"/>
<rect x="456.60" y="614.10" width="2.5" height="0.6" fill="#555"/>
<rect x="456.60" y="617.30" width="2.5" height="0.6" fill="#555"/>
<rect x="456.60" y="620.50" width="2.5" height="0.6" fill="#555"/>
<rect x="456.60" y="623.70" width="2.5" height="0.6" fill="#555"/>
<rect x="456.60" y="626.90" width="2.5" height="0.6" fill="#555"/>
<rect x="456.60" y="630.10" width="2.5" height="0.6" fill="#555"/>
<rect x="456.60" y="633.30" width="2.5" height="0.6" fill="#555"/>
<rect x="456.60" y="636.50" width="2.5" height="0.6" fill="#555"/>
<rect x="456.60" y="639.70" width="2.5" height="0.6" fill="#555"/>
<rect x="456.60" y="642.90" width="2.5" height="0.6" fill="#555"/>
<rect x="456.60" y="646.10" width="2.5" height="0.6" fill="#555"/>
<rect x="456.60" y="649.30" width="2.5" height="0.6" fill="#555"/>
<rect x="456.60" y="652.50" width="2.5" height="0.6" fill="#555"/>
<rect x="456.60" y="655.70" width="2.5" height="0.6" fill="#555"/>
<rect x="456.60" y="658.90" width="2.5" height="0.6" fill="#555"/>
<rect x="456.60" y="662.10" width="2.5" height="0.6" fill="#555"/>
<rect x="456.60" y="665.30" width="2.5" height="0.6" fill="#555"/>
<ellipse cx="408.10" cy="590.80" rx="10.50" ry="4.75" fill="#262626" opacity="0.45"/>
<ellipse cx="407.50" cy="589.90" rx="8.19" ry="3.71" fill="#e490a0"/>
<ellipse cx="413.15" cy="588.93" rx="4.46" ry="2.32" fill="#e490a0"/>
<ellipse cx="409.66" cy="592.52" rx="4.32" ry="2.25" fill="#e490a0"/>
<ellipse cx="403.22" cy="591.74" rx="4.61" ry="2.40" fill="#e490a0"/>
<ellipse cx="402.42" cy="590.85" rx="5.01" ry="2.60" fill="#e490a0"/>
<ellipse cx="402.90" cy="587.84" rx="4.03" ry="2.10" fill="#e490a0"/>
<ellipse cx="409.35" cy="587.58" rx="5.05" ry="2.63" fill="#e490a0"/>
<ellipse cx="403.20" cy="591.24" rx="1.95" ry="1.70" fill="#f2c6cc" opacity="0.8"/>
<ellipse cx="405.41" cy="588.38" rx="2.15" ry="1.69" fill="#f2c6cc" opacity="0.8"/>
<ellipse cx="407.32" cy="590.44" rx="1.68" ry="1.14" fill="#f2c6cc" opacity="0.8"/>
<ellipse cx="407.25" cy="588.29" rx="0.99" ry="1.04" fill="#c8203c" opacity="0.8"/>
<ellipse cx="436.00" cy="592.70" rx="9.50" ry="5.50" fill="#262626" opacity="0.45"/>
<ellipse cx="435.40" cy="591.80" rx="7.41" ry="4.29" fill="#e490a0"/>
<ellipse cx="440.30" cy="590.78" rx="4.29" ry="2.86" fill="#e490a0"/>
<ellipse cx="439.62" cy="593.66" rx="4.20" ry="2.80" fill="#e490a0"/>
<ellipse cx="432.45" cy="593.72" rx="5.06" ry="3.37" fill="#e490a0"/>
<ellipse cx="431.09" cy="591.86" rx="5.19" ry="3.45" fill="#e490a0"/>
<ellipse cx="433.22" cy="589.80" rx="5.42" ry="3.61" fill="#e490a0"/>
<ellipse cx="438.61" cy="589.15" rx="3.90" ry="2.60" fill="#e490a0"/>
<ellipse cx="436.25" cy="591.70" rx="2.30" ry="1.22" fill="#f2c6cc" opacity="0.8"/>
<ellipse cx="437.87" cy="590.43" rx="1.95" ry="1.24" fill="#f2c6cc" opacity="0.8"/>
<ellipse cx="432.45" cy="590.40" rx="2.63" ry="1.67" fill="#f2c6cc" opacity="0.8"/>
<ellipse cx="440.52" cy="593.95" rx="1.56" ry="1.20" fill="#c8203c" opacity="0.8"/>
<ellipse cx="406.80" cy="610.70" rx="10.25" ry="4.80" fill="#262626" opacity="0.45"/>
<ellipse cx="406.20" cy="609.80" rx="8.00" ry="3.74" fill="#e490a0"/>
<ellipse cx="410.99" cy="610.28" rx="5.35" ry="2.88" fill="#e490a0"/>
<ellipse cx="409.52" cy="612.09" rx="4.34" ry="2.34" fill="#e490a0"/>
<ellipse cx="403.63" cy="611.34" rx="6.08" ry="3.27" fill="#e490a0"/>
<ellipse cx="401.77" cy="609.92" rx="5.81" ry="3.13" fill="#e490a0"/>
<ellipse cx="402.17" cy="608.29" rx="5.09" ry="2.74" fill="#e490a0"/>
<ellipse cx="407.67" cy="607.44" rx="5.01" ry="2.70" fill="#e490a0"/>
<ellipse cx="407.72" cy="611.17" rx="2.28" ry="1.87" fill="#f2c6cc" opacity="0.8"/>
<ellipse cx="403.83" cy="608.37" rx="2.20" ry="1.72" fill="#f2c6cc" opacity="0.8"/>
<ellipse cx="409.04" cy="608.02" rx="1.87" ry="1.25" fill="#f2c6cc" opacity="0.8"/>
<ellipse cx="411.31" cy="609.76" rx="1.77" ry="1.35" fill="#c8203c" opacity="0.8"/>
<ellipse cx="401.79" cy="610.41" rx="0.90" ry="0.97" fill="#c8203c" opacity="0.8"/>
<ellipse cx="434.50" cy="608.90" rx="9.30" ry="5.00" fill="#262626" opacity="0.45"/>
<ellipse cx="433.90" cy="608.00" rx="7.25" ry="3.90" fill="#e490a0"/>
<ellipse cx="437.73" cy="607.30" rx="5.26" ry="3.25" fill="#e490a0"/>
<ellipse cx="436.19" cy="610.59" rx="3.97" ry="2.45" fill="#e490a0"/>
<ellipse cx="430.81" cy="609.79" rx="4.75" ry="2.94" fill="#e490a0"/>
<ellipse cx="429.54" cy="607.37" rx="4.79" ry="2.96" fill="#e490a0"/>
<ellipse cx="432.49" cy="605.88" rx="5.12" ry="3.17" fill="#e490a0"/>
<ellipse cx="436.06" cy="605.24" rx="3.73" ry="2.31" fill="#e490a0"/>
<ellipse cx="438.83" cy="606.47" rx="2.34" ry="1.99" fill="#f2c6cc" opacity="0.8"/>
<ellipse cx="432.05" cy="607.05" rx="2.07" ry="1.20" fill="#f2c6cc" opacity="0.8"/>
<ellipse cx="437.00" cy="607.19" rx="1.61" ry="1.60" fill="#f2c6cc" opacity="0.8"/>
<ellipse cx="435.26" cy="606.09" rx="1.71" ry="1.37" fill="#c8203c" opacity="0.8"/>
<ellipse cx="437.68" cy="606.20" rx="1.31" ry="0.96" fill="#c8203c" opacity="0.8"/>
<ellipse cx="406.10" cy="625.20" rx="10.15" ry="4.85" fill="#262626" opacity="0.45"/>
<ellipse cx="405.50" cy="624.30" rx="7.92" ry="3.78" fill="#e490a0"/>
<ellipse cx="411.58" cy="624.06" rx="4.05" ry="2.22" fill="#e490a0"/>
<ellipse cx="408.14" cy="626.87" rx="4.15" ry="2.28" fill="#e490a0"/>
<ellipse cx="402.79" cy="626.62" rx="4.60" ry="2.53" fill="#e490a0"/>
<ellipse cx="399.63" cy="623.86" rx="4.21" ry="2.31" fill="#e490a0"/>
<ellipse cx="404.59" cy="621.40" rx="4.02" ry="2.21" fill="#e490a0"/>
<ellipse cx="406.35" cy="622.05" rx="5.36" ry="2.95" fill="#e490a0"/>
<ellipse cx="412.05" cy="625.70" rx="2.74" ry="1.15" fill="#f2c6cc" opacity="0.8"/>
<ellipse cx="401.42" cy="623.50" rx="1.86" ry="1.17" fill="#f2c6cc" opacity="0.8"/>
<ellipse cx="402.85" cy="623.82" rx="1.99" ry="1.81" fill="#f2c6cc" opacity="0.8"/>
<ellipse cx="400.55" cy="624.41" rx="1.53" ry="0.72" fill="#c8203c" opacity="0.8"/>
<ellipse cx="411.51" cy="624.62" rx="1.25" ry="0.98" fill="#c8203c" opacity="0.8"/>
<ellipse cx="433.90" cy="624.70" rx="9.00" ry="4.50" fill="#262626" opacity="0.45"/>
<ellipse cx="433.30" cy="623.80" rx="7.02" ry="3.51" fill="#e490a0"/>
<ellipse cx="437.44" cy="623.69" rx="4.85" ry="2.79" fill="#e490a0"/>
<ellipse cx="435.48" cy="625.82" rx="4.40" ry="2.53" fill="#e490a0"/>
<ellipse cx="429.67" cy="625.61" rx="3.87" ry="2.22" fill="#e490a0"/>
<ellipse cx="429.07" cy="622.95" rx="4.45" ry="2.56" fill="#e490a0"/>
<ellipse cx="430.22" cy="622.43" rx="4.88" ry="2.81" fill="#e490a0"/>
<ellipse cx="434.40" cy="622.06" rx="5.35" ry="3.07" fill="#e490a0"/>
<ellipse cx="435.50" cy="622.73" rx="2.94" ry="1.32" fill="#f2c6cc" opacity="0.8"/>
<ellipse cx="438.74" cy="622.02" rx="1.95" ry="1.63" fill="#f2c6cc" opacity="0.8"/>
<ellipse cx="430.62" cy="623.21" rx="1.66" ry="1.61" fill="#f2c6cc" opacity="0.8"/>
<ellipse cx="430.96" cy="624.58" rx="1.33" ry="1.19" fill="#c8203c" opacity="0.8"/>
<ellipse cx="405.70" cy="643.00" rx="9.70" ry="4.90" fill="#262626" opacity="0.45"/>
<ellipse cx="405.10" cy="642.10" rx="7.57" ry="3.82" fill="#e490a0"/>
<ellipse cx="410.05" cy="641.06" rx="4.34" ry="2.52" fill="#e490a0"/>
<ellipse cx="406.49" cy="644.11" rx="5.48" ry="3.19" fill="#e490a0"/>
<ellipse cx="402.17" cy="643.43" rx="5.76" ry="3.35" fill="#e490a0"/>
<ellipse cx="399.81" cy="642.79" rx="4.24" ry="2.46" fill="#e490a0"/>
<ellipse cx="402.87" cy="640.05" rx="5.07" ry="2.95" fill="#e490a0"/>
<ellipse cx="406.32" cy="639.95" rx="5.27" ry="3.06" fill="#e490a0"/>
<ellipse cx="402.18" cy="642.80" rx="2.47" ry="1.31" fill="#f2c6cc" opacity="0.8"/>
<ellipse cx="404.12" cy="642.82" rx="2.33" ry="1.30" fill="#f2c6cc" opacity="0.8"/>
<ellipse cx="410.77" cy="641.49" rx="1.98" ry="1.10" fill="#f2c6cc" opacity="0.8"/>
<ellipse cx="405.20" cy="640.58" rx="0.81" ry="1.09" fill="#c8203c" opacity="0.8"/>
<ellipse cx="433.30" cy="643.40" rx="8.90" ry="4.50" fill="#262626" opacity="0.45"/>
<ellipse cx="432.70" cy="642.50" rx="6.94" ry="3.51" fill="#e490a0"/>
<ellipse cx="436.91" cy="642.51" rx="4.69" ry="2.73" fill="#e490a0"/>
<ellipse cx="433.91" cy="645.00" rx="3.82" ry="2.22" fill="#e490a0"/>
<ellipse cx="431.65" cy="644.56" rx="4.70" ry="2.73" fill="#e490a0"/>
<ellipse cx="428.57" cy="642.76" rx="4.74" ry="2.76" fill="#e490a0"/>
<ellipse cx="431.39" cy="639.85" rx="3.50" ry="2.03" fill="#e490a0"/>
<ellipse cx="434.79" cy="640.11" rx="3.74" ry="2.17" fill="#e490a0"/>
<ellipse cx="430.62" cy="644.05" rx="1.80" ry="1.39" fill="#f2c6cc" opacity="0.8"/>
<ellipse cx="429.03" cy="641.24" rx="1.66" ry="1.04" fill="#f2c6cc" opacity="0.8"/>
<ellipse cx="436.13" cy="643.18" rx="2.01" ry="1.76" fill="#f2c6cc" opacity="0.8"/>
<ellipse cx="432.68" cy="643.65" rx="1.19" ry="0.74" fill="#c8203c" opacity="0.8"/>
<ellipse cx="433.85" cy="641.91" rx="1.16" ry="1.20" fill="#c8203c" opacity="0.8"/>
<ellipse cx="405.30" cy="660.80" rx="9.30" ry="4.90" fill="#262626" opacity="0.45"/>
<ellipse cx="404.70" cy="659.90" rx="7.25" ry="3.82" fill="#e490a0"/>
<ellipse cx="408.80" cy="659.51" rx="5.13" ry="3.11" fill="#e490a0"/>
<ellipse cx="407.88" cy="661.29" rx="5.17" ry="3.13" fill="#e490a0"/>
<ellipse cx="403.22" cy="662.20" rx="4.69" ry="2.84" fill="#e490a0"/>
<ellipse cx="399.64" cy="659.18" rx="4.06" ry="2.46" fill="#e490a0"/>
<ellipse cx="403.30" cy="658.05" rx="5.51" ry="3.34" fill="#e490a0"/>
<ellipse cx="407.68" cy="657.74" rx="4.24" ry="2.57" fill="#e490a0"/>
<ellipse cx="400.70" cy="661.85" rx="1.95" ry="1.86" fill="#f2c6cc" opacity="0.8"/>
<ellipse cx="405.37" cy="658.53" rx="2.09" ry="1.38" fill="#f2c6cc" opacity="0.8"/>
<ellipse cx="406.12" cy="658.82" rx="2.30" ry="1.55" fill="#f2c6cc" opacity="0.8"/>
<ellipse cx="399.11" cy="660.28" rx="1.17" ry="0.86" fill="#c8203c" opacity="0.8"/>
<ellipse cx="431.20" cy="659.60" rx="8.55" ry="5.25" fill="#262626" opacity="0.45"/>
<ellipse cx="430.60" cy="658.70" rx="6.67" ry="4.09" fill="#e490a0"/>
<ellipse cx="435.85" cy="658.85" rx="3.29" ry="2.33" fill="#e490a0"/>
<ellipse cx="431.32" cy="661.59" rx="3.79" ry="2.67" fill="#e490a0"/>
<ellipse cx="427.65" cy="661.15" rx="3.59" ry="2.54" fill="#e490a0"/>
<ellipse cx="426.66" cy="658.96" rx="4.59" ry="3.24" fill="#e490a0"/>
<ellipse cx="429.76" cy="655.86" rx="3.85" ry="2.72" fill="#e490a0"/>
<ellipse cx="432.06" cy="655.65" rx="3.38" ry="2.38" fill="#e490a0"/>
<ellipse cx="430.50" cy="657.95" rx="1.54" ry="1.13" fill="#f2c6cc" opacity="0.8"/>
<ellipse cx="431.35" cy="659.33" rx="2.48" ry="1.75" fill="#f2c6cc" opacity="0.8"/>
<ellipse cx="428.11" cy="657.13" rx="2.55" ry="1.61" fill="#f2c6cc" opacity="0.8"/>
<ellipse cx="428.27" cy="660.41" rx="1.47" ry="1.19" fill="#c8203c" opacity="0.8"/>
<text transform="translate(417.00,568.00) rotate(-45) scale(1,1.0)" x="0" y="3.06" font-size="8.5" text-anchor="middle" fill="#1a1a1a" color="#1a1a1a" font-style="normal">WT CD8</text>
<text transform="translate(454.50,563.00) rotate(-45) scale(1,1.0)" x="0" y="3.06" font-size="8.5" text-anchor="middle" fill="#1a1a1a" color="#1a1a1a" font-style="normal"><tspan font-style="italic">Gsdmd</tspan><tspan font-size="64%" baseline-shift="44%">-/-</tspan> CD8</text>
<defs><linearGradient id="gl" x1="0" y1="0" x2="1" y2="1"><stop offset="0" stop-color="#4a4a4a"/><stop offset="0.5" stop-color="#3e3e3e"/><stop offset="1" stop-color="#383838"/></linearGradient></defs>
<rect x="390.50" y="760.30" width="66.20" height="76.10" fill="url(#gl)"/>
<rect x="445.60" y="760.30" width="11.10" height="76.10" fill="#7a7a7a"/>
<rect x="445.60" y="760.30" width="1.3" height="76.10" fill="#c8c8c8"/>
<rect x="446.90" y="760.30" width="2.2" height="76.10" fill="#5a5a5a"/>
<rect x="454.20" y="763.30" width="2.5" height="0.6" fill="#555"/>
<rect x="454.20" y="766.50" width="2.5" height="0.6" fill="#555"/>
<rect x="454.20" y="769.70" width="2.5" height="0.6" fill="#555"/>
<rect x="454.20" y="772.90" width="2.5" height="0.6" fill="#555"/>
<rect x="454.20" y="776.10" width="2.5" height="0.6" fill="#555"/>
<rect x="454.20" y="779.30" width="2.5" height="0.6" fill="#555"/>
<rect x="454.20" y="782.50" width="2.5" height="0.6" fill="#555"/>
<rect x="454.20" y="785.70" width="2.5" height="0.6" fill="#555"/>
<rect x="454.20" y="788.90" width="2.5" height="0.6" fill="#555"/>
<rect x="454.20" y="792.10" width="2.5" height="0.6" fill="#555"/>
<rect x="454.20" y="795.30" width="2.5" height="0.6" fill="#555"/>
<rect x="454.20" y="798.50" width="2.5" height="0.6" fill="#555"/>
<rect x="454.20" y="801.70" width="2.5" height="0.6" fill="#555"/>
<rect x="454.20" y="804.90" width="2.5" height="0.6" fill="#555"/>
<rect x="454.20" y="808.10" width="2.5" height="0.6" fill="#555"/>
<rect x="454.20" y="811.30" width="2.5" height="0.6" fill="#555"/>
<rect x="454.20" y="814.50" width="2.5" height="0.6" fill="#555"/>
<rect x="454.20" y="817.70" width="2.5" height="0.6" fill="#555"/>
<rect x="454.20" y="820.90" width="2.5" height="0.6" fill="#555"/>
<rect x="454.20" y="824.10" width="2.5" height="0.6" fill="#555"/>
<rect x="454.20" y="827.30" width="2.5" height="0.6" fill="#555"/>
<rect x="454.20" y="830.50" width="2.5" height="0.6" fill="#555"/>
<rect x="454.20" y="833.70" width="2.5" height="0.6" fill="#555"/>
<ellipse cx="401.30" cy="771.20" rx="8.50" ry="5.35" fill="#262626" opacity="0.45"/>
<ellipse cx="400.70" cy="770.30" rx="6.63" ry="4.17" fill="#eed0ca"/>
<ellipse cx="405.31" cy="770.53" rx="3.87" ry="2.80" fill="#eed0ca"/>
<ellipse cx="404.38" cy="772.06" rx="3.88" ry="2.81" fill="#eed0ca"/>
<ellipse cx="397.54" cy="772.30" rx="4.02" ry="2.91" fill="#eed0ca"/>
<ellipse cx="395.74" cy="770.10" rx="3.53" ry="2.56" fill="#eed0ca"/>
<ellipse cx="398.18" cy="767.89" rx="3.92" ry="2.84" fill="#eed0ca"/>
<ellipse cx="401.82" cy="767.36" rx="3.69" ry="2.67" fill="#eed0ca"/>
<ellipse cx="396.10" cy="771.88" rx="2.25" ry="1.52" fill="#f9eeeb" opacity="0.8"/>
<ellipse cx="403.78" cy="771.11" rx="1.95" ry="1.89" fill="#f9eeeb" opacity="0.8"/>
<ellipse cx="401.34" cy="772.26" rx="1.91" ry="1.35" fill="#f9eeeb" opacity="0.8"/>
<ellipse cx="404.15" cy="768.09" rx="1.00" ry="1.27" fill="#dc6070" opacity="0.8"/>
<ellipse cx="430.10" cy="769.70" rx="10.50" ry="6.90" fill="#262626" opacity="0.45"/>
<ellipse cx="429.50" cy="768.80" rx="8.19" ry="5.38" fill="#eed0ca"/>
<ellipse cx="434.15" cy="768.55" rx="5.84" ry="4.41" fill="#eed0ca"/>
<ellipse cx="432.25" cy="771.89" rx="5.05" ry="3.82" fill="#eed0ca"/>
<ellipse cx="427.97" cy="771.91" rx="5.53" ry="4.18" fill="#eed0ca"/>
<ellipse cx="425.32" cy="769.35" rx="6.23" ry="4.71" fill="#eed0ca"/>
<ellipse cx="426.64" cy="766.70" rx="6.21" ry="4.69" fill="#eed0ca"/>
<ellipse cx="430.59" cy="765.27" rx="5.02" ry="3.79" fill="#eed0ca"/>
<ellipse cx="430.24" cy="771.29" rx="2.77" ry="1.31" fill="#f9eeeb" opacity="0.8"/>
<ellipse cx="431.37" cy="770.78" rx="1.76" ry="1.82" fill="#f9eeeb" opacity="0.8"/>
<ellipse cx="433.87" cy="771.36" rx="1.83" ry="1.74" fill="#f9eeeb" opacity="0.8"/>
<ellipse cx="435.40" cy="765.46" rx="1.77" ry="1.31" fill="#dc6070" opacity="0.8"/>
<ellipse cx="423.50" cy="768.45" rx="0.99" ry="0.94" fill="#dc6070" opacity="0.8"/>
<ellipse cx="401.60" cy="785.90" rx="9.00" ry="5.25" fill="#262626" opacity="0.45"/>
<ellipse cx="401.00" cy="785.00" rx="7.02" ry="4.09" fill="#eed0ca"/>
<ellipse cx="405.20" cy="785.96" rx="4.49" ry="3.01" fill="#eed0ca"/>
<ellipse cx="403.15" cy="787.40" rx="4.36" ry="2.92" fill="#eed0ca"/>
<ellipse cx="399.51" cy="788.09" rx="3.49" ry="2.34" fill="#eed0ca"/>
<ellipse cx="396.43" cy="785.22" rx="4.42" ry="2.96" fill="#eed0ca"/>
<ellipse cx="399.53" cy="782.27" rx="4.09" ry="2.75" fill="#eed0ca"/>
<ellipse cx="405.19" cy="783.06" rx="3.64" ry="2.44" fill="#eed0ca"/>
<ellipse cx="402.89" cy="783.02" rx="1.83" ry="1.13" fill="#f9eeeb" opacity="0.8"/>
<ellipse cx="406.74" cy="785.75" rx="2.33" ry="1.86" fill="#f9eeeb" opacity="0.8"/>
<ellipse cx="406.43" cy="784.48" rx="2.79" ry="1.29" fill="#f9eeeb" opacity="0.8"/>
<ellipse cx="399.53" cy="785.82" rx="1.53" ry="0.76" fill="#dc6070" opacity="0.8"/>
<ellipse cx="404.14" cy="783.40" rx="1.09" ry="0.87" fill="#dc6070" opacity="0.8"/>
<ellipse cx="429.30" cy="783.40" rx="9.70" ry="6.00" fill="#262626" opacity="0.45"/>
<ellipse cx="428.70" cy="782.50" rx="7.57" ry="4.68" fill="#eed0ca"/>
<ellipse cx="432.37" cy="781.61" rx="5.75" ry="4.09" fill="#eed0ca"/>
<ellipse cx="431.40" cy="784.23" rx="5.81" ry="4.13" fill="#eed0ca"/>
<ellipse cx="424.49" cy="784.65" rx="4.24" ry="3.01" fill="#eed0ca"/>
<ellipse cx="423.54" cy="782.46" rx="4.54" ry="3.23" fill="#eed0ca"/>
<ellipse cx="426.27" cy="780.28" rx="5.37" ry="3.82" fill="#eed0ca"/>
<ellipse cx="432.57" cy="780.11" rx="4.23" ry="3.01" fill="#eed0ca"/>
<ellipse cx="429.27" cy="783.39" rx="2.39" ry="1.12" fill="#f9eeeb" opacity="0.8"/>
<ellipse cx="427.29" cy="782.47" rx="2.89" ry="1.82" fill="#f9eeeb" opacity="0.8"/>
<ellipse cx="430.96" cy="781.44" rx="2.91" ry="1.23" fill="#f9eeeb" opacity="0.8"/>
<ellipse cx="424.16" cy="780.75" rx="1.09" ry="0.78" fill="#dc6070" opacity="0.8"/>
<ellipse cx="425.45" cy="783.78" rx="1.32" ry="1.34" fill="#dc6070" opacity="0.8"/>
<ellipse cx="401.60" cy="802.90" rx="8.00" ry="5.25" fill="#262626" opacity="0.45"/>
<ellipse cx="401.00" cy="802.00" rx="6.24" ry="4.09" fill="#eed0ca"/>
<ellipse cx="405.03" cy="801.20" rx="3.79" ry="2.86" fill="#eed0ca"/>
<ellipse cx="402.00" cy="804.65" rx="3.83" ry="2.89" fill="#eed0ca"/>
<ellipse cx="399.85" cy="804.36" rx="4.22" ry="3.18" fill="#eed0ca"/>
<ellipse cx="397.12" cy="802.40" rx="4.07" ry="3.07" fill="#eed0ca"/>
<ellipse cx="398.55" cy="800.24" rx="4.37" ry="3.30" fill="#eed0ca"/>
<ellipse cx="401.73" cy="799.12" rx="3.55" ry="2.68" fill="#eed0ca"/>
<ellipse cx="405.58" cy="800.26" rx="2.09" ry="1.19" fill="#f9eeeb" opacity="0.8"/>
<ellipse cx="399.73" cy="802.27" rx="2.93" ry="1.95" fill="#f9eeeb" opacity="0.8"/>
<ellipse cx="398.96" cy="803.11" rx="2.19" ry="1.10" fill="#f9eeeb" opacity="0.8"/>
<ellipse cx="402.09" cy="802.10" rx="1.48" ry="1.01" fill="#dc6070" opacity="0.8"/>
<ellipse cx="402.92" cy="801.23" rx="1.01" ry="0.82" fill="#dc6070" opacity="0.8"/>
<ellipse cx="428.00" cy="800.10" rx="9.30" ry="6.50" fill="#262626" opacity="0.45"/>
<ellipse cx="427.40" cy="799.20" rx="7.25" ry="5.07" fill="#eed0ca"/>
<ellipse cx="431.86" cy="798.39" rx="4.69" ry="3.77" fill="#eed0ca"/>
<ellipse cx="429.51" cy="802.51" rx="4.11" ry="3.31" fill="#eed0ca"/>
<ellipse cx="426.32" cy="802.02" rx="5.12" ry="4.12" fill="#eed0ca"/>
<ellipse cx="422.04" cy="798.85" rx="3.91" ry="3.14" fill="#eed0ca"/>
<ellipse cx="425.43" cy="796.49" rx="4.95" ry="3.98" fill="#eed0ca"/>
<ellipse cx="429.98" cy="796.99" rx="5.22" ry="4.19" fill="#eed0ca"/>
<ellipse cx="433.01" cy="800.15" rx="2.96" ry="1.49" fill="#f9eeeb" opacity="0.8"/>
<ellipse cx="424.43" cy="801.41" rx="1.90" ry="1.15" fill="#f9eeeb" opacity="0.8"/>
<ellipse cx="422.82" cy="799.40" rx="2.86" ry="1.35" fill="#f9eeeb" opacity="0.8"/>
<ellipse cx="432.15" cy="797.57" rx="1.30" ry="1.11" fill="#dc6070" opacity="0.8"/>
<ellipse cx="429.31" cy="800.40" rx="0.87" ry="1.19" fill="#dc6070" opacity="0.8"/>
<ellipse cx="402.10" cy="817.10" rx="8.50" ry="4.85" fill="#262626" opacity="0.45"/>
<ellipse cx="401.50" cy="816.20" rx="6.63" ry="3.78" fill="#eed0ca"/>
<ellipse cx="405.78" cy="816.06" rx="4.21" ry="2.76" fill="#eed0ca"/>
<ellipse cx="404.18" cy="817.77" rx="4.66" ry="3.06" fill="#eed0ca"/>
<ellipse cx="400.38" cy="818.34" rx="4.58" ry="3.01" fill="#eed0ca"/>
<ellipse cx="397.51" cy="816.42" rx="4.49" ry="2.95" fill="#eed0ca"/>
<ellipse cx="399.97" cy="813.36" rx="3.30" ry="2.16" fill="#eed0ca"/>
<ellipse cx="405.47" cy="814.32" rx="3.34" ry="2.19" fill="#eed0ca"/>
<ellipse cx="406.04" cy="814.55" rx="2.80" ry="1.58" fill="#f9eeeb" opacity="0.8"/>
<ellipse cx="402.62" cy="816.81" rx="2.96" ry="1.41" fill="#f9eeeb" opacity="0.8"/>
<ellipse cx="406.30" cy="814.50" rx="1.90" ry="1.60" fill="#f9eeeb" opacity="0.8"/>
<ellipse cx="405.69" cy="815.12" rx="1.08" ry="1.01" fill="#dc6070" opacity="0.8"/>
<ellipse cx="402.45" cy="817.18" rx="1.12" ry="1.37" fill="#dc6070" opacity="0.8"/>
<ellipse cx="429.60" cy="814.60" rx="9.30" ry="5.70" fill="#262626" opacity="0.45"/>
<ellipse cx="429.00" cy="813.70" rx="7.25" ry="4.45" fill="#eed0ca"/>
<ellipse cx="434.12" cy="814.05" rx="4.15" ry="2.92" fill="#eed0ca"/>
<ellipse cx="430.70" cy="816.39" rx="4.60" ry="3.24" fill="#eed0ca"/>
<ellipse cx="426.43" cy="816.84" rx="3.57" ry="2.52" fill="#eed0ca"/>
<ellipse cx="424.53" cy="813.95" rx="4.82" ry="3.39" fill="#eed0ca"/>
<ellipse cx="425.53" cy="811.45" rx="4.24" ry="2.99" fill="#eed0ca"/>
<ellipse cx="430.21" cy="811.22" rx="5.08" ry="3.58" fill="#eed0ca"/>
<ellipse cx="432.04" cy="815.20" rx="2.87" ry="1.71" fill="#f9eeeb" opacity="0.8"/>
<ellipse cx="433.56" cy="811.62" rx="2.00" ry="1.25" fill="#f9eeeb" opacity="0.8"/>
<ellipse cx="425.87" cy="813.23" rx="2.26" ry="1.84" fill="#f9eeeb" opacity="0.8"/>
<ellipse cx="428.32" cy="815.45" rx="0.90" ry="1.16" fill="#dc6070" opacity="0.8"/>
<ellipse cx="425.93" cy="813.54" rx="1.05" ry="0.80" fill="#dc6070" opacity="0.8"/>
<ellipse cx="402.10" cy="829.90" rx="8.50" ry="4.10" fill="#262626" opacity="0.45"/>
<ellipse cx="401.50" cy="829.00" rx="6.63" ry="3.20" fill="#eed0ca"/>
<ellipse cx="404.85" cy="828.59" rx="5.04" ry="2.79" fill="#eed0ca"/>
<ellipse cx="403.75" cy="830.46" rx="4.73" ry="2.62" fill="#eed0ca"/>
<ellipse cx="400.02" cy="831.03" rx="4.05" ry="2.24" fill="#eed0ca"/>
<ellipse cx="398.08" cy="828.51" rx="4.94" ry="2.74" fill="#eed0ca"/>
<ellipse cx="400.55" cy="826.90" rx="4.04" ry="2.24" fill="#eed0ca"/>
<ellipse cx="402.60" cy="827.03" rx="4.28" ry="2.37" fill="#eed0ca"/>
<ellipse cx="396.82" cy="827.54" rx="1.87" ry="1.63" fill="#f9eeeb" opacity="0.8"/>
<ellipse cx="403.61" cy="828.91" rx="2.42" ry="1.42" fill="#f9eeeb" opacity="0.8"/>
<ellipse cx="406.16" cy="828.90" rx="2.34" ry="1.25" fill="#f9eeeb" opacity="0.8"/>
<ellipse cx="399.53" cy="828.56" rx="1.33" ry="1.17" fill="#dc6070" opacity="0.8"/>
<ellipse cx="407.16" cy="827.82" rx="1.03" ry="1.05" fill="#dc6070" opacity="0.8"/>
<ellipse cx="429.30" cy="829.30" rx="9.70" ry="5.65" fill="#262626" opacity="0.45"/>
<ellipse cx="428.70" cy="828.40" rx="7.57" ry="4.41" fill="#eed0ca"/>
<ellipse cx="434.35" cy="827.20" rx="3.69" ry="2.47" fill="#eed0ca"/>
<ellipse cx="431.54" cy="830.12" rx="5.60" ry="3.75" fill="#eed0ca"/>
<ellipse cx="427.44" cy="830.89" rx="5.24" ry="3.51" fill="#eed0ca"/>
<ellipse cx="423.86" cy="827.79" rx="4.74" ry="3.18" fill="#eed0ca"/>
<ellipse cx="425.69" cy="826.62" rx="5.41" ry="3.62" fill="#eed0ca"/>
<ellipse cx="432.75" cy="826.55" rx="4.55" ry="3.05" fill="#eed0ca"/>
<ellipse cx="429.26" cy="826.67" rx="2.51" ry="1.62" fill="#f9eeeb" opacity="0.8"/>
<ellipse cx="422.55" cy="829.61" rx="2.40" ry="1.09" fill="#f9eeeb" opacity="0.8"/>
<ellipse cx="422.53" cy="826.15" rx="2.92" ry="1.80" fill="#f9eeeb" opacity="0.8"/>
<ellipse cx="424.29" cy="825.94" rx="1.26" ry="1.25" fill="#dc6070" opacity="0.8"/>
<text transform="translate(412.50,745.50) rotate(-45) scale(1,1.0)" x="0" y="3.06" font-size="8.5" text-anchor="middle" fill="#1a1a1a" color="#1a1a1a" font-style="normal">WT CD4</text>
<text transform="translate(450.00,740.00) rotate(-45) scale(1,1.0)" x="0" y="3.06" font-size="8.5" text-anchor="middle" fill="#1a1a1a" color="#1a1a1a" font-style="normal"><tspan font-style="italic">Gsdmd</tspan><tspan font-size="64%" baseline-shift="44%">-/-</tspan> CD4</text>
<text x="4.50" y="565.52" font-size="14" font-weight="bold" fill="#000">H</text>
<text transform="translate(35.80,574.94) scale(1,1.0)" x="0" y="0" font-size="6.5" text-anchor="start" fill="#1a1a1a" color="#1a1a1a" font-weight="normal" font-style="normal"  style="stroke-width:0.15px"><tspan font-style="italic">Rag2</tspan><tspan font-size="64%" baseline-shift="44%">-/-</tspan> mice</text>
<path d="M53.50,582.00 C57.10,582.00 58.10,584.90 58.50,587.60 C61.10,589.90 60.90,598.90 53.50,599.50 C46.10,598.90 45.90,589.90 48.50,587.60 C48.90,584.90 49.90,582.00 53.50,582.00 Z" fill="#fff" stroke="#505050" stroke-width="0.85"/>
<path d="M48.90,578.40 L50.50,582.20 M57.50,578.70 L56.50,582.20" stroke="#999" stroke-width="0.7" fill="none"/>
<ellipse cx="53.50" cy="582.30" rx="1.6" ry="0.8" fill="#333"/>
<circle cx="51.40" cy="587.10" r="0.65" fill="#333"/><circle cx="55.60" cy="587.30" r="0.65" fill="#333"/>
<path d="M47.30,591.20 q2,1.4 3.6,-0.3 M59.70,591.20 q-2,1.4 -3.6,-0.3" stroke="#505050" stroke-width="0.8" fill="none"/>
<path d="M53.90,599.50 C54.90,602.90 54.00,604.60 51.00,605.20 C48.00,605.80 48.00,607.90 48.90,609.40" stroke="#505050" stroke-width="0.85" fill="none"/>
<text transform="translate(55.30,618.88) scale(1,1.0)" x="0" y="0" font-size="6.6" text-anchor="middle" fill="#1a1a1a" color="#1a1a1a" font-weight="normal" font-style="normal"  style="stroke-width:0.15px">WT CD8<tspan font-size="64%" baseline-shift="44%">+</tspan> T + WT CD4<tspan font-size="64%" baseline-shift="44%">+</tspan> T (1:2)</text>
<path d="M53.50,629.60 C57.10,629.60 58.10,632.50 58.50,635.20 C61.10,637.50 60.90,646.50 53.50,647.10 C46.10,646.50 45.90,637.50 48.50,635.20 C48.90,632.50 49.90,629.60 53.50,629.60 Z" fill="#fff" stroke="#505050" stroke-width="0.85"/>
<path d="M48.90,626.00 L50.50,629.80 M57.50,626.30 L56.50,629.80" stroke="#999" stroke-width="0.7" fill="none"/>
<ellipse cx="53.50" cy="629.90" rx="1.6" ry="0.8" fill="#333"/>
<circle cx="51.40" cy="634.70" r="0.65" fill="#333"/><circle cx="55.60" cy="634.90" r="0.65" fill="#333"/>
<path d="M47.30,638.80 q2,1.4 3.6,-0.3 M59.70,638.80 q-2,1.4 -3.6,-0.3" stroke="#505050" stroke-width="0.8" fill="none"/>
<path d="M53.90,647.10 C54.90,650.50 54.00,652.20 51.00,652.80 C48.00,653.40 48.00,655.50 48.90,657.00" stroke="#505050" stroke-width="0.85" fill="none"/>
<text transform="translate(56.70,666.17) scale(1,1.0)" x="0" y="0" font-size="6.3" text-anchor="middle" fill="#1a1a1a" color="#1a1a1a" font-weight="normal" font-style="normal"  style="stroke-width:0.15px"><tspan font-style="italic">Gsdmd</tspan><tspan font-size="64%" baseline-shift="44%">-/-</tspan> CD8<tspan font-size="64%" baseline-shift="44%">+</tspan> T + WT CD4<tspan font-size="64%" baseline-shift="44%">+</tspan> T (1:2)</text>
<polyline points="98.00,601.20 105.80,616.00 98.00,630.70" fill="none" stroke="#1a1a1a" stroke-width="0.9"/>
<line x1="105.80" y1="616.00" x2="125.50" y2="616.00" stroke="#1a1a1a" stroke-width="0.9"/>
<polygon points="127.50,616.00 124.50,614.50 124.50,617.50" fill="#1a1a1a"/>
<text transform="translate(129.70,614.94) scale(1,1.0)" x="0" y="0" font-size="6.5" text-anchor="start" fill="#1a1a1a" color="#1a1a1a" font-weight="normal" font-style="normal"  style="stroke-width:0.15px">Implant</text>
<text transform="translate(129.70,622.74) scale(1,1.0)" x="0" y="0" font-size="6.5" text-anchor="start" fill="#1a1a1a" color="#1a1a1a" font-weight="normal" font-style="normal"  style="stroke-width:0.15px">MC38 s.c.</text>
<text x="4.50" y="732.82" font-size="14" font-weight="bold" fill="#000">K</text>
<text transform="translate(35.80,744.84) scale(1,1.0)" x="0" y="0" font-size="6.5" text-anchor="start" fill="#1a1a1a" color="#1a1a1a" font-weight="normal" font-style="normal"  style="stroke-width:0.15px"><tspan font-style="italic">Rag2</tspan><tspan font-size="64%" baseline-shift="44%">-/-</tspan> mice</text>
<path d="M53.50,754.00 C57.10,754.00 58.10,756.90 58.50,759.60 C61.10,761.90 60.90,770.90 53.50,771.50 C46.10,770.90 45.90,761.90 48.50,759.60 C48.90,756.90 49.90,754.00 53.50,754.00 Z" fill="#fff" stroke="#505050" stroke-width="0.85"/>
<path d="M48.90,750.40 L50.50,754.20 M57.50,750.70 L56.50,754.20" stroke="#999" stroke-width="0.7" fill="none"/>
<ellipse cx="53.50" cy="754.30" rx="1.6" ry="0.8" fill="#333"/>
<circle cx="51.40" cy="759.10" r="0.65" fill="#333"/><circle cx="55.60" cy="759.30" r="0.65" fill="#333"/>
<path d="M47.30,763.20 q2,1.4 3.6,-0.3 M59.70,763.20 q-2,1.4 -3.6,-0.3" stroke="#505050" stroke-width="0.8" fill="none"/>
<path d="M53.90,771.50 C54.90,774.90 54.00,776.60 51.00,777.20 C48.00,777.80 48.00,779.90 48.90,781.40" stroke="#505050" stroke-width="0.85" fill="none"/>
<text transform="translate(55.30,788.18) scale(1,1.0)" x="0" y="0" font-size="6.6" text-anchor="middle" fill="#1a1a1a" color="#1a1a1a" font-weight="normal" font-style="normal"  style="stroke-width:0.15px">WT CD4<tspan font-size="64%" baseline-shift="44%">+</tspan> T + WT CD8<tspan font-size="64%" baseline-shift="44%">+</tspan> T (2:1)</text>
<path d="M53.50,802.30 C57.10,802.30 58.10,805.20 58.50,807.90 C61.10,810.20 60.90,819.20 53.50,819.80 C46.10,819.20 45.90,810.20 48.50,807.90 C48.90,805.20 49.90,802.30 53.50,802.30 Z" fill="#fff" stroke="#505050" stroke-width="0.85"/>
<path d="M48.90,798.70 L50.50,802.50 M57.50,799.00 L56.50,802.50" stroke="#999" stroke-width="0.7" fill="none"/>
<ellipse cx="53.50" cy="802.60" rx="1.6" ry="0.8" fill="#333"/>
<circle cx="51.40" cy="807.40" r="0.65" fill="#333"/><circle cx="55.60" cy="807.60" r="0.65" fill="#333"/>
<path d="M47.30,811.50 q2,1.4 3.6,-0.3 M59.70,811.50 q-2,1.4 -3.6,-0.3" stroke="#505050" stroke-width="0.8" fill="none"/>
<path d="M53.90,819.80 C54.90,823.20 54.00,824.90 51.00,825.50 C48.00,826.10 48.00,828.20 48.90,829.70" stroke="#505050" stroke-width="0.85" fill="none"/>
<text transform="translate(56.70,836.07) scale(1,1.0)" x="0" y="0" font-size="6.3" text-anchor="middle" fill="#1a1a1a" color="#1a1a1a" font-weight="normal" font-style="normal"  style="stroke-width:0.15px"><tspan font-style="italic">Gsdmd</tspan><tspan font-size="64%" baseline-shift="44%">-/-</tspan> CD4<tspan font-size="64%" baseline-shift="44%">+</tspan> T + WT CD8<tspan font-size="64%" baseline-shift="44%">+</tspan> T (2:1)</text>
<polyline points="98.70,771.50 106.20,785.80 98.70,800.40" fill="none" stroke="#1a1a1a" stroke-width="0.9"/>
<line x1="106.20" y1="785.80" x2="126.70" y2="785.80" stroke="#1a1a1a" stroke-width="0.9"/>
<polygon points="128.70,785.80 125.70,784.30 125.70,787.30" fill="#1a1a1a"/>
<text transform="translate(131.00,784.74) scale(1,1.0)" x="0" y="0" font-size="6.5" text-anchor="start" fill="#1a1a1a" color="#1a1a1a" font-weight="normal" font-style="normal"  style="stroke-width:0.15px">Implant</text>
<text transform="translate(131.00,793.54) scale(1,1.0)" x="0" y="0" font-size="6.5" text-anchor="start" fill="#1a1a1a" color="#1a1a1a" font-weight="normal" font-style="normal"  style="stroke-width:0.15px">MC38 s.c.</text>
<text x="169.50" y="565.02" font-size="14" font-weight="bold" fill="#000">I</text>
<line x1="187.20" y1="564.10" x2="195.20" y2="564.10" stroke="#1a1a1a" stroke-width="1"/>
<circle cx="191.20" cy="564.10" r="1.3" fill="#1a1a1a"/>
<text transform="translate(200.40,567.20) scale(1,1.0)" x="0" y="0" font-size="8.6" text-anchor="start" fill="#1a1a1a" color="#1a1a1a" font-weight="normal" font-style="normal" >WT CD8-<tspan font-style="italic">Rag</tspan><tspan font-size="64%" baseline-shift="44%">-/-</tspan></text>
<line x1="187.20" y1="575.40" x2="195.20" y2="575.40" stroke="#e8262b" stroke-width="1"/>
<circle cx="191.20" cy="575.40" r="1.3" fill="#e8262b"/>
<text transform="translate(200.40,578.50) scale(1,1.0)" x="0" y="0" font-size="8.6" text-anchor="start" fill="#e8262b" color="#e8262b" font-weight="normal" font-style="normal" ><tspan font-style="italic">Gsdmd</tspan><tspan font-size="64%" baseline-shift="44%">-/-</tspan> CD8-<tspan font-style="italic">Rag</tspan><tspan font-size="64%" baseline-shift="44%">-/-</tspan></text>
<line x1="279.10" y1="563.00" x2="279.10" y2="577.70" stroke="#1a1a1a" stroke-width="1"/>
<text transform="translate(282.50,572.58) scale(1,1.0)" x="0" y="0" font-size="8" text-anchor="start" fill="#1a1a1a" color="#1a1a1a" font-weight="normal" font-style="normal" >NS</text>
<line x1="202.60" y1="585.80" x2="202.60" y2="666.40" stroke="#333" stroke-width="1.3"/>
<line x1="202.10" y1="666.40" x2="255.30" y2="666.40" stroke="#333" stroke-width="1.3"/>
<line x1="200.00" y1="666.40" x2="202.60" y2="666.40" stroke="#333" stroke-width="1.3"/>
<text transform="translate(199.20,669.50) scale(1,1.0)" x="0" y="0" font-size="8.6" text-anchor="end" fill="#1a1a1a" color="#1a1a1a" font-weight="normal" font-style="normal" >0</text>
<line x1="200.00" y1="639.70" x2="202.60" y2="639.70" stroke="#333" stroke-width="1.3"/>
<text transform="translate(199.20,642.80) scale(1,1.0)" x="0" y="0" font-size="8.6" text-anchor="end" fill="#1a1a1a" color="#1a1a1a" font-weight="normal" font-style="normal" >200</text>
<line x1="200.00" y1="613.00" x2="202.60" y2="613.00" stroke="#333" stroke-width="1.3"/>
<text transform="translate(199.20,616.10) scale(1,1.0)" x="0" y="0" font-size="8.6" text-anchor="end" fill="#1a1a1a" color="#1a1a1a" font-weight="normal" font-style="normal" >400</text>
<line x1="200.00" y1="586.30" x2="202.60" y2="586.30" stroke="#333" stroke-width="1.3"/>
<text transform="translate(199.20,589.40) scale(1,1.0)" x="0" y="0" font-size="8.6" text-anchor="end" fill="#1a1a1a" color="#1a1a1a" font-weight="normal" font-style="normal" >600</text>
<line x1="202.60" y1="666.40" x2="202.60" y2="669.40" stroke="#1a1a1a" stroke-width="1"/>
<text transform="translate(202.60,677.16) scale(1,1.0)" x="0" y="0" font-size="8.5" text-anchor="middle" fill="#1a1a1a" color="#1a1a1a" font-weight="normal" font-style="normal" >0</text>
<line x1="215.65" y1="666.40" x2="215.65" y2="669.40" stroke="#1a1a1a" stroke-width="1"/>
<text transform="translate(215.65,677.16) scale(1,1.0)" x="0" y="0" font-size="8.5" text-anchor="middle" fill="#1a1a1a" color="#1a1a1a" font-weight="normal" font-style="normal" >5</text>
<line x1="228.70" y1="666.40" x2="228.70" y2="669.40" stroke="#1a1a1a" stroke-width="1"/>
<text transform="translate(228.70,677.16) scale(1,1.0)" x="0" y="0" font-size="8.5" text-anchor="middle" fill="#1a1a1a" color="#1a1a1a" font-weight="normal" font-style="normal" >10</text>
<line x1="241.75" y1="666.40" x2="241.75" y2="669.40" stroke="#1a1a1a" stroke-width="1"/>
<text transform="translate(241.75,677.16) scale(1,1.0)" x="0" y="0" font-size="8.5" text-anchor="middle" fill="#1a1a1a" color="#1a1a1a" font-weight="normal" font-style="normal" >15</text>
<line x1="254.80" y1="666.40" x2="254.80" y2="669.40" stroke="#1a1a1a" stroke-width="1"/>
<text transform="translate(254.80,677.16) scale(1,1.0)" x="0" y="0" font-size="8.5" text-anchor="middle" fill="#1a1a1a" color="#1a1a1a" font-weight="normal" font-style="normal" >20</text>
<text transform="translate(230.50,689.26) scale(1,1.0)" x="0" y="0" font-size="8.5" text-anchor="middle" fill="#1a1a1a" color="#1a1a1a" font-weight="normal" font-style="normal" >Days after inoculation</text>
<text transform="translate(178.90,627.60) rotate(-90) scale(1,1.0)" x="0" y="3.20" font-size="8.9" text-anchor="middle" fill="#1a1a1a" color="#1a1a1a" font-style="normal">Tumor volume (mm<tspan font-size="64%" baseline-shift="44%">3</tspan>)</text>
<polyline points="202.60,666.40 220.87,659.73 226.09,658.12 231.31,653.32 236.53,643.97 241.75,620.34 246.97,601.65" fill="none" stroke="#e8262b" stroke-width="1.1"/>
<circle cx="202.60" cy="666.40" r="1.5" fill="#e8262b"/>
<line x1="220.87" y1="659.06" x2="220.87" y2="660.39" stroke="#e8262b" stroke-width="0.9"/>
<line x1="219.37" y1="659.06" x2="222.37" y2="659.06" stroke="#e8262b" stroke-width="0.9"/>
<line x1="219.37" y1="660.39" x2="222.37" y2="660.39" stroke="#e8262b" stroke-width="0.9"/>
<circle cx="220.87" cy="659.73" r="1.5" fill="#e8262b"/>
<line x1="226.09" y1="657.46" x2="226.09" y2="658.79" stroke="#e8262b" stroke-width="0.9"/>
<line x1="224.59" y1="657.46" x2="227.59" y2="657.46" stroke="#e8262b" stroke-width="0.9"/>
<line x1="224.59" y1="658.79" x2="227.59" y2="658.79" stroke="#e8262b" stroke-width="0.9"/>
<circle cx="226.09" cy="658.12" r="1.5" fill="#e8262b"/>
<line x1="231.31" y1="652.52" x2="231.31" y2="654.12" stroke="#e8262b" stroke-width="0.9"/>
<line x1="229.81" y1="652.52" x2="232.81" y2="652.52" stroke="#e8262b" stroke-width="0.9"/>
<line x1="229.81" y1="654.12" x2="232.81" y2="654.12" stroke="#e8262b" stroke-width="0.9"/>
<circle cx="231.31" cy="653.32" r="1.5" fill="#e8262b"/>
<line x1="236.53" y1="642.90" x2="236.53" y2="645.04" stroke="#e8262b" stroke-width="0.9"/>
<line x1="235.03" y1="642.90" x2="238.03" y2="642.90" stroke="#e8262b" stroke-width="0.9"/>
<line x1="235.03" y1="645.04" x2="238.03" y2="645.04" stroke="#e8262b" stroke-width="0.9"/>
<circle cx="236.53" cy="643.97" r="1.5" fill="#e8262b"/>
<line x1="241.75" y1="617.67" x2="241.75" y2="623.01" stroke="#e8262b" stroke-width="0.9"/>
<line x1="240.25" y1="617.67" x2="243.25" y2="617.67" stroke="#e8262b" stroke-width="0.9"/>
<line x1="240.25" y1="623.01" x2="243.25" y2="623.01" stroke="#e8262b" stroke-width="0.9"/>
<circle cx="241.75" cy="620.34" r="1.5" fill="#e8262b"/>
<line x1="246.97" y1="598.31" x2="246.97" y2="604.99" stroke="#e8262b" stroke-width="0.9"/>
<line x1="245.47" y1="598.31" x2="248.47" y2="598.31" stroke="#e8262b" stroke-width="0.9"/>
<line x1="245.47" y1="604.99" x2="248.47" y2="604.99" stroke="#e8262b" stroke-width="0.9"/>
<circle cx="246.97" cy="601.65" r="1.5" fill="#e8262b"/>
<polyline points="202.60,666.40 220.87,659.99 226.09,658.39 231.31,654.38 236.53,644.77 241.75,622.34 246.97,606.32" fill="none" stroke="#1a1a1a" stroke-width="1.1"/>
<circle cx="202.60" cy="666.40" r="1.5" fill="#1a1a1a"/>
<line x1="220.87" y1="659.46" x2="220.87" y2="660.53" stroke="#1a1a1a" stroke-width="0.9"/>
<line x1="219.37" y1="659.46" x2="222.37" y2="659.46" stroke="#1a1a1a" stroke-width="0.9"/>
<line x1="219.37" y1="660.53" x2="222.37" y2="660.53" stroke="#1a1a1a" stroke-width="0.9"/>
<circle cx="220.87" cy="659.99" r="1.5" fill="#1a1a1a"/>
<line x1="226.09" y1="657.72" x2="226.09" y2="659.06" stroke="#1a1a1a" stroke-width="0.9"/>
<line x1="224.59" y1="657.72" x2="227.59" y2="657.72" stroke="#1a1a1a" stroke-width="0.9"/>
<line x1="224.59" y1="659.06" x2="227.59" y2="659.06" stroke="#1a1a1a" stroke-width="0.9"/>
<circle cx="226.09" cy="658.39" r="1.5" fill="#1a1a1a"/>
<line x1="231.31" y1="653.58" x2="231.31" y2="655.19" stroke="#1a1a1a" stroke-width="0.9"/>
<line x1="229.81" y1="653.58" x2="232.81" y2="653.58" stroke="#1a1a1a" stroke-width="0.9"/>
<line x1="229.81" y1="655.19" x2="232.81" y2="655.19" stroke="#1a1a1a" stroke-width="0.9"/>
<circle cx="231.31" cy="654.38" r="1.5" fill="#1a1a1a"/>
<line x1="236.53" y1="643.71" x2="236.53" y2="645.84" stroke="#1a1a1a" stroke-width="0.9"/>
<line x1="235.03" y1="643.71" x2="238.03" y2="643.71" stroke="#1a1a1a" stroke-width="0.9"/>
<line x1="235.03" y1="645.84" x2="238.03" y2="645.84" stroke="#1a1a1a" stroke-width="0.9"/>
<circle cx="236.53" cy="644.77" r="1.5" fill="#1a1a1a"/>
<line x1="241.75" y1="620.34" x2="241.75" y2="624.35" stroke="#1a1a1a" stroke-width="0.9"/>
<line x1="240.25" y1="620.34" x2="243.25" y2="620.34" stroke="#1a1a1a" stroke-width="0.9"/>
<line x1="240.25" y1="624.35" x2="243.25" y2="624.35" stroke="#1a1a1a" stroke-width="0.9"/>
<circle cx="241.75" cy="622.34" r="1.5" fill="#1a1a1a"/>
<line x1="246.97" y1="603.65" x2="246.97" y2="608.99" stroke="#1a1a1a" stroke-width="0.9"/>
<line x1="245.47" y1="603.65" x2="248.47" y2="603.65" stroke="#1a1a1a" stroke-width="0.9"/>
<line x1="245.47" y1="608.99" x2="248.47" y2="608.99" stroke="#1a1a1a" stroke-width="0.9"/>
<circle cx="246.97" cy="606.32" r="1.5" fill="#1a1a1a"/>
<line x1="322.50" y1="585.80" x2="322.50" y2="666.40" stroke="#333" stroke-width="1.3"/>
<line x1="322.00" y1="666.40" x2="375.80" y2="666.40" stroke="#333" stroke-width="1.3"/>
<line x1="319.90" y1="666.40" x2="322.50" y2="666.40" stroke="#333" stroke-width="1.3"/>
<text transform="translate(319.10,669.50) scale(1,1.0)" x="0" y="0" font-size="8.6" text-anchor="end" fill="#1a1a1a" color="#1a1a1a" font-weight="normal" font-style="normal" >0.0</text>
<line x1="319.90" y1="650.38" x2="322.50" y2="650.38" stroke="#333" stroke-width="1.3"/>
<text transform="translate(319.10,653.48) scale(1,1.0)" x="0" y="0" font-size="8.6" text-anchor="end" fill="#1a1a1a" color="#1a1a1a" font-weight="normal" font-style="normal" >0.2</text>
<line x1="319.90" y1="634.36" x2="322.50" y2="634.36" stroke="#333" stroke-width="1.3"/>
<text transform="translate(319.10,637.46) scale(1,1.0)" x="0" y="0" font-size="8.6" text-anchor="end" fill="#1a1a1a" color="#1a1a1a" font-weight="normal" font-style="normal" >0.4</text>
<line x1="319.90" y1="618.34" x2="322.50" y2="618.34" stroke="#333" stroke-width="1.3"/>
<text transform="translate(319.10,621.44) scale(1,1.0)" x="0" y="0" font-size="8.6" text-anchor="end" fill="#1a1a1a" color="#1a1a1a" font-weight="normal" font-style="normal" >0.6</text>
<line x1="319.90" y1="602.32" x2="322.50" y2="602.32" stroke="#333" stroke-width="1.3"/>
<text transform="translate(319.10,605.42) scale(1,1.0)" x="0" y="0" font-size="8.6" text-anchor="end" fill="#1a1a1a" color="#1a1a1a" font-weight="normal" font-style="normal" >0.8</text>
<line x1="319.90" y1="586.30" x2="322.50" y2="586.30" stroke="#333" stroke-width="1.3"/>
<text transform="translate(319.10,589.40) scale(1,1.0)" x="0" y="0" font-size="8.6" text-anchor="end" fill="#1a1a1a" color="#1a1a1a" font-weight="normal" font-style="normal" >1.0</text>
<rect x="330.55" y="623.95" width="13.90" height="42.45" fill="none" stroke="#1a1a1a" stroke-width="1.1"/>
<line x1="337.50" y1="623.95" x2="337.50" y2="619.94" stroke="#1a1a1a" stroke-width="1.1"/>
<line x1="335.00" y1="619.94" x2="340.00" y2="619.94" stroke="#1a1a1a" stroke-width="1.1"/>
<circle cx="337.50" cy="614.33" r="1.3" fill="#1a1a1a"/>
<circle cx="332.50" cy="616.74" r="1.3" fill="#1a1a1a"/>
<circle cx="342.50" cy="616.74" r="1.3" fill="#1a1a1a"/>
<circle cx="337.50" cy="618.34" r="1.3" fill="#1a1a1a"/>
<circle cx="336.50" cy="620.74" r="1.3" fill="#1a1a1a"/>
<circle cx="337.50" cy="634.36" r="1.3" fill="#1a1a1a"/>
<circle cx="337.50" cy="641.57" r="1.3" fill="#1a1a1a"/>
<rect x="353.05" y="623.15" width="13.90" height="43.25" fill="none" stroke="#f0553c" stroke-width="1.1"/>
<line x1="360.00" y1="623.15" x2="360.00" y2="619.14" stroke="#f0553c" stroke-width="1.1"/>
<line x1="357.50" y1="619.14" x2="362.50" y2="619.14" stroke="#f0553c" stroke-width="1.1"/>
<rect x="358.85" y="601.17" width="2.3" height="2.3" fill="#e8262b"/>
<rect x="358.85" y="617.19" width="2.3" height="2.3" fill="#e8262b"/>
<rect x="356.85" y="617.99" width="2.3" height="2.3" fill="#e8262b"/>
<rect x="360.85" y="623.60" width="2.3" height="2.3" fill="#e8262b"/>
<rect x="356.85" y="624.40" width="2.3" height="2.3" fill="#e8262b"/>
<rect x="360.85" y="631.61" width="2.3" height="2.3" fill="#e8262b"/>
<rect x="356.85" y="632.41" width="2.3" height="2.3" fill="#e8262b"/>
<line x1="337.50" y1="666.40" x2="337.50" y2="669.60" stroke="#1a1a1a" stroke-width="1"/>
<line x1="360.00" y1="666.40" x2="360.00" y2="669.60" stroke="#1a1a1a" stroke-width="1"/>
<text transform="translate(349.70,592.88) scale(1,1.0)" x="0" y="0" font-size="8" text-anchor="middle" fill="#1a1a1a" color="#1a1a1a" font-weight="normal" font-style="normal" >NS</text>
<line x1="337.50" y1="595.80" x2="360.80" y2="595.80" stroke="#1a1a1a" stroke-width="1"/>
<text transform="translate(338.30,573.54) scale(1,1.0)" x="0" y="0" font-size="9" text-anchor="start" fill="#1a1a1a" color="#1a1a1a" font-weight="normal" font-style="normal" >MC38</text>
<text transform="translate(299.30,624.00) rotate(-90) scale(1,1.0)" x="0" y="3.20" font-size="8.9" text-anchor="middle" fill="#1a1a1a" color="#1a1a1a" font-style="normal">Tumor weight (g)</text>
<text transform="translate(340.30,675.20) rotate(-45) scale(1,1.0)" x="0" y="0" font-size="8.5" text-anchor="end" fill="#1a1a1a" color="#1a1a1a">WT CD8-<tspan font-style="italic">Rag</tspan><tspan font-size="64%" baseline-shift="44%">-/-</tspan></text>
<text transform="translate(363.30,675.20) rotate(-45) scale(1,1.0)" x="0" y="0" font-size="8.5" text-anchor="end" fill="#1a1a1a" color="#1a1a1a"><tspan font-style="italic">Gsdmd</tspan><tspan font-size="64%" baseline-shift="44%">-/-</tspan> CD8-<tspan font-style="italic">Rag</tspan><tspan font-size="64%" baseline-shift="44%">-/-</tspan></text>
<text x="503.50" y="565.52" font-size="14" font-weight="bold" fill="#000">J</text>
<circle cx="530.10" cy="562.80" r="1.3" fill="#1a1a1a"/>
<rect x="528.95" y="571.95" width="2.3" height="2.3" fill="#e8262b"/>
<text transform="translate(539.40,565.90) scale(1,1.0)" x="0" y="0" font-size="8.6" text-anchor="start" fill="#1a1a1a" color="#1a1a1a" font-weight="normal" font-style="normal" >WT CD8-<tspan font-style="italic">Rag</tspan><tspan font-size="64%" baseline-shift="44%">-/-</tspan></text>
<text transform="translate(539.40,576.20) scale(1,1.0)" x="0" y="0" font-size="8.6" text-anchor="start" fill="#e8262b" color="#e8262b" font-weight="normal" font-style="normal" ><tspan font-style="italic">Gsdmd</tspan><tspan font-size="64%" baseline-shift="44%">-/-</tspan> CD8-<tspan font-style="italic">Rag</tspan><tspan font-size="64%" baseline-shift="44%">-/-</tspan></text>
<line x1="528.60" y1="586.00" x2="528.60" y2="665.80" stroke="#333" stroke-width="1.3"/>
<line x1="528.10" y1="665.80" x2="581.60" y2="665.80" stroke="#333" stroke-width="1.3"/>
<line x1="526.00" y1="665.80" x2="528.60" y2="665.80" stroke="#333" stroke-width="1.3"/>
<text transform="translate(525.20,668.90) scale(1,1.0)" x="0" y="0" font-size="8.6" text-anchor="end" fill="#1a1a1a" color="#1a1a1a" font-weight="normal" font-style="normal" >0</text>
<line x1="526.00" y1="649.94" x2="528.60" y2="649.94" stroke="#333" stroke-width="1.3"/>
<text transform="translate(525.20,653.04) scale(1,1.0)" x="0" y="0" font-size="8.6" text-anchor="end" fill="#1a1a1a" color="#1a1a1a" font-weight="normal" font-style="normal" >10</text>
<line x1="526.00" y1="634.08" x2="528.60" y2="634.08" stroke="#333" stroke-width="1.3"/>
<text transform="translate(525.20,637.18) scale(1,1.0)" x="0" y="0" font-size="8.6" text-anchor="end" fill="#1a1a1a" color="#1a1a1a" font-weight="normal" font-style="normal" >20</text>
<line x1="526.00" y1="618.22" x2="528.60" y2="618.22" stroke="#333" stroke-width="1.3"/>
<text transform="translate(525.20,621.32) scale(1,1.0)" x="0" y="0" font-size="8.6" text-anchor="end" fill="#1a1a1a" color="#1a1a1a" font-weight="normal" font-style="normal" >30</text>
<line x1="526.00" y1="602.36" x2="528.60" y2="602.36" stroke="#333" stroke-width="1.3"/>
<text transform="translate(525.20,605.46) scale(1,1.0)" x="0" y="0" font-size="8.6" text-anchor="end" fill="#1a1a1a" color="#1a1a1a" font-weight="normal" font-style="normal" >40</text>
<line x1="526.00" y1="586.50" x2="528.60" y2="586.50" stroke="#333" stroke-width="1.3"/>
<text transform="translate(525.20,589.60) scale(1,1.0)" x="0" y="0" font-size="8.6" text-anchor="end" fill="#1a1a1a" color="#1a1a1a" font-weight="normal" font-style="normal" >50</text>
<rect x="536.85" y="615.05" width="14.40" height="50.75" fill="none" stroke="#1a1a1a" stroke-width="1.1"/>
<line x1="544.05" y1="615.05" x2="544.05" y2="609.50" stroke="#1a1a1a" stroke-width="1.1"/>
<line x1="541.55" y1="609.50" x2="546.55" y2="609.50" stroke="#1a1a1a" stroke-width="1.1"/>
<circle cx="544.00" cy="596.02" r="1.3" fill="#1a1a1a"/>
<circle cx="544.00" cy="602.36" r="1.3" fill="#1a1a1a"/>
<circle cx="542.00" cy="610.29" r="1.3" fill="#1a1a1a"/>
<circle cx="544.00" cy="613.46" r="1.3" fill="#1a1a1a"/>
<circle cx="545.00" cy="616.63" r="1.3" fill="#1a1a1a"/>
<circle cx="540.00" cy="619.81" r="1.3" fill="#1a1a1a"/>
<circle cx="548.00" cy="622.98" r="1.3" fill="#1a1a1a"/>
<circle cx="544.00" cy="638.84" r="1.3" fill="#1a1a1a"/>
<rect x="559.05" y="618.22" width="14.40" height="47.58" fill="none" stroke="#f0553c" stroke-width="1.1"/>
<line x1="566.25" y1="618.22" x2="566.25" y2="611.88" stroke="#f0553c" stroke-width="1.1"/>
<line x1="563.75" y1="611.88" x2="568.75" y2="611.88" stroke="#f0553c" stroke-width="1.1"/>
<rect x="562.05" y="604.38" width="2.3" height="2.3" fill="#e8262b"/>
<rect x="568.05" y="604.38" width="2.3" height="2.3" fill="#e8262b"/>
<rect x="565.05" y="605.97" width="2.3" height="2.3" fill="#e8262b"/>
<rect x="566.05" y="612.31" width="2.3" height="2.3" fill="#e8262b"/>
<rect x="564.05" y="613.90" width="2.3" height="2.3" fill="#e8262b"/>
<rect x="565.05" y="634.52" width="2.3" height="2.3" fill="#e8262b"/>
<rect x="565.05" y="644.03" width="2.3" height="2.3" fill="#e8262b"/>
<line x1="555.50" y1="665.80" x2="555.50" y2="669.00" stroke="#1a1a1a" stroke-width="1"/>
<text transform="translate(555.50,587.08) scale(1,1.0)" x="0" y="0" font-size="8" text-anchor="middle" fill="#1a1a1a" color="#1a1a1a" font-weight="normal" font-style="normal" >NS</text>
<line x1="543.90" y1="590.40" x2="566.60" y2="590.40" stroke="#1a1a1a" stroke-width="1"/>
<text transform="translate(509.00,622.80) rotate(-90) scale(1,1.0)" x="0" y="3.10" font-size="8.6" text-anchor="middle" fill="#1a1a1a" color="#1a1a1a" font-style="normal">% of CD8<tspan font-size="64%" baseline-shift="44%">+</tspan> T cells</text>
<text transform="translate(555.50,677.46) scale(1,1.0)" x="0" y="0" font-size="8.5" text-anchor="middle" fill="#1a1a1a" color="#1a1a1a" font-weight="normal" font-style="normal" >IFNγ<tspan font-size="64%" baseline-shift="44%">+</tspan>CD8<tspan font-size="64%" baseline-shift="44%">+</tspan></text>
<text x="166.00" y="733.92" font-size="14" font-weight="bold" fill="#000">L</text>
<line x1="187.20" y1="736.30" x2="195.20" y2="736.30" stroke="#1a1a1a" stroke-width="1"/>
<circle cx="191.20" cy="736.30" r="1.3" fill="#1a1a1a"/>
<text transform="translate(200.40,739.40) scale(1,1.0)" x="0" y="0" font-size="8.6" text-anchor="start" fill="#1a1a1a" color="#1a1a1a" font-weight="normal" font-style="normal" >WT CD4-<tspan font-style="italic">Rag</tspan><tspan font-size="64%" baseline-shift="44%">-/-</tspan></text>
<line x1="187.20" y1="748.40" x2="195.20" y2="748.40" stroke="#e8262b" stroke-width="1"/>
<circle cx="191.20" cy="748.40" r="1.3" fill="#e8262b"/>
<text transform="translate(200.40,751.50) scale(1,1.0)" x="0" y="0" font-size="8.6" text-anchor="start" fill="#e8262b" color="#e8262b" font-weight="normal" font-style="normal" ><tspan font-style="italic">Gsdmd</tspan><tspan font-size="64%" baseline-shift="44%">-/-</tspan> CD4-<tspan font-style="italic">Rag</tspan><tspan font-size="64%" baseline-shift="44%">-/-</tspan></text>
<line x1="278.40" y1="733.60" x2="278.40" y2="751.80" stroke="#1a1a1a" stroke-width="1"/>
<polygon points="282.75,740.15 283.86,741.77 285.75,742.33 284.55,743.88 284.60,745.85 282.75,745.19 280.90,745.85 280.95,743.88 279.75,742.33 281.64,741.77" fill="#1a1a1a"/>
<polygon points="288.25,740.15 289.36,741.77 291.25,742.33 290.05,743.88 290.10,745.85 288.25,745.19 286.40,745.85 286.45,743.88 285.25,742.33 287.14,741.77" fill="#1a1a1a"/>
<polygon points="293.75,740.15 294.86,741.77 296.75,742.33 295.55,743.88 295.60,745.85 293.75,745.19 291.90,745.85 291.95,743.88 290.75,742.33 292.64,741.77" fill="#1a1a1a"/>
<polygon points="299.25,740.15 300.36,741.77 302.25,742.33 301.05,743.88 301.10,745.85 299.25,745.19 297.40,745.85 297.45,743.88 296.25,742.33 298.14,741.77" fill="#1a1a1a"/>
<line x1="202.60" y1="755.80" x2="202.60" y2="836.20" stroke="#333" stroke-width="1.3"/>
<line x1="202.10" y1="836.20" x2="255.30" y2="836.20" stroke="#333" stroke-width="1.3"/>
<line x1="200.00" y1="836.20" x2="202.60" y2="836.20" stroke="#333" stroke-width="1.3"/>
<text transform="translate(199.20,839.30) scale(1,1.0)" x="0" y="0" font-size="8.6" text-anchor="end" fill="#1a1a1a" color="#1a1a1a" font-weight="normal" font-style="normal" >0</text>
<line x1="200.00" y1="816.23" x2="202.60" y2="816.23" stroke="#333" stroke-width="1.3"/>
<text transform="translate(199.20,819.32) scale(1,1.0)" x="0" y="0" font-size="8.6" text-anchor="end" fill="#1a1a1a" color="#1a1a1a" font-weight="normal" font-style="normal" >200</text>
<line x1="200.00" y1="796.25" x2="202.60" y2="796.25" stroke="#333" stroke-width="1.3"/>
<text transform="translate(199.20,799.35) scale(1,1.0)" x="0" y="0" font-size="8.6" text-anchor="end" fill="#1a1a1a" color="#1a1a1a" font-weight="normal" font-style="normal" >400</text>
<line x1="200.00" y1="776.27" x2="202.60" y2="776.27" stroke="#333" stroke-width="1.3"/>
<text transform="translate(199.20,779.37) scale(1,1.0)" x="0" y="0" font-size="8.6" text-anchor="end" fill="#1a1a1a" color="#1a1a1a" font-weight="normal" font-style="normal" >600</text>
<line x1="200.00" y1="756.30" x2="202.60" y2="756.30" stroke="#333" stroke-width="1.3"/>
<text transform="translate(199.20,759.40) scale(1,1.0)" x="0" y="0" font-size="8.6" text-anchor="end" fill="#1a1a1a" color="#1a1a1a" font-weight="normal" font-style="normal" >800</text>
<line x1="202.60" y1="836.20" x2="202.60" y2="839.20" stroke="#1a1a1a" stroke-width="1"/>
<text transform="translate(202.60,847.36) scale(1,1.0)" x="0" y="0" font-size="8.5" text-anchor="middle" fill="#1a1a1a" color="#1a1a1a" font-weight="normal" font-style="normal" >0</text>
<line x1="215.65" y1="836.20" x2="215.65" y2="839.20" stroke="#1a1a1a" stroke-width="1"/>
<text transform="translate(215.65,847.36) scale(1,1.0)" x="0" y="0" font-size="8.5" text-anchor="middle" fill="#1a1a1a" color="#1a1a1a" font-weight="normal" font-style="normal" >5</text>
<line x1="228.70" y1="836.20" x2="228.70" y2="839.20" stroke="#1a1a1a" stroke-width="1"/>
<text transform="translate(228.70,847.36) scale(1,1.0)" x="0" y="0" font-size="8.5" text-anchor="middle" fill="#1a1a1a" color="#1a1a1a" font-weight="normal" font-style="normal" >10</text>
<line x1="241.75" y1="836.20" x2="241.75" y2="839.20" stroke="#1a1a1a" stroke-width="1"/>
<text transform="translate(241.75,847.36) scale(1,1.0)" x="0" y="0" font-size="8.5" text-anchor="middle" fill="#1a1a1a" color="#1a1a1a" font-weight="normal" font-style="normal" >15</text>
<line x1="254.80" y1="836.20" x2="254.80" y2="839.20" stroke="#1a1a1a" stroke-width="1"/>
<text transform="translate(254.80,847.36) scale(1,1.0)" x="0" y="0" font-size="8.5" text-anchor="middle" fill="#1a1a1a" color="#1a1a1a" font-weight="normal" font-style="normal" >20</text>
<text transform="translate(230.50,859.16) scale(1,1.0)" x="0" y="0" font-size="8.5" text-anchor="middle" fill="#1a1a1a" color="#1a1a1a" font-weight="normal" font-style="normal" >Days after inoculation</text>
<text transform="translate(178.90,799.40) rotate(-90) scale(1,1.0)" x="0" y="3.20" font-size="8.9" text-anchor="middle" fill="#1a1a1a" color="#1a1a1a" font-style="normal">Tumor volume (mm<tspan font-size="64%" baseline-shift="44%">3</tspan>)</text>
<polyline points="202.60,836.20 218.26,829.21 223.48,825.21 228.70,817.22 233.92,810.23 239.14,796.75 244.36,776.27" fill="none" stroke="#e8262b" stroke-width="1.1"/>
<circle cx="202.60" cy="836.20" r="1.5" fill="#e8262b"/>
<line x1="218.26" y1="828.61" x2="218.26" y2="829.81" stroke="#e8262b" stroke-width="0.9"/>
<line x1="216.76" y1="828.61" x2="219.76" y2="828.61" stroke="#e8262b" stroke-width="0.9"/>
<line x1="216.76" y1="829.81" x2="219.76" y2="829.81" stroke="#e8262b" stroke-width="0.9"/>
<circle cx="218.26" cy="829.21" r="1.5" fill="#e8262b"/>
<line x1="223.48" y1="824.41" x2="223.48" y2="826.01" stroke="#e8262b" stroke-width="0.9"/>
<line x1="221.98" y1="824.41" x2="224.98" y2="824.41" stroke="#e8262b" stroke-width="0.9"/>
<line x1="221.98" y1="826.01" x2="224.98" y2="826.01" stroke="#e8262b" stroke-width="0.9"/>
<circle cx="223.48" cy="825.21" r="1.5" fill="#e8262b"/>
<line x1="228.70" y1="816.23" x2="228.70" y2="818.22" stroke="#e8262b" stroke-width="0.9"/>
<line x1="227.20" y1="816.23" x2="230.20" y2="816.23" stroke="#e8262b" stroke-width="0.9"/>
<line x1="227.20" y1="818.22" x2="230.20" y2="818.22" stroke="#e8262b" stroke-width="0.9"/>
<circle cx="228.70" cy="817.22" r="1.5" fill="#e8262b"/>
<line x1="233.92" y1="808.73" x2="233.92" y2="811.73" stroke="#e8262b" stroke-width="0.9"/>
<line x1="232.42" y1="808.73" x2="235.42" y2="808.73" stroke="#e8262b" stroke-width="0.9"/>
<line x1="232.42" y1="811.73" x2="235.42" y2="811.73" stroke="#e8262b" stroke-width="0.9"/>
<circle cx="233.92" cy="810.23" r="1.5" fill="#e8262b"/>
<line x1="239.14" y1="794.75" x2="239.14" y2="798.75" stroke="#e8262b" stroke-width="0.9"/>
<line x1="237.64" y1="794.75" x2="240.64" y2="794.75" stroke="#e8262b" stroke-width="0.9"/>
<line x1="237.64" y1="798.75" x2="240.64" y2="798.75" stroke="#e8262b" stroke-width="0.9"/>
<circle cx="239.14" cy="796.75" r="1.5" fill="#e8262b"/>
<line x1="244.36" y1="773.78" x2="244.36" y2="778.77" stroke="#e8262b" stroke-width="0.9"/>
<line x1="242.86" y1="773.78" x2="245.86" y2="773.78" stroke="#e8262b" stroke-width="0.9"/>
<line x1="242.86" y1="778.77" x2="245.86" y2="778.77" stroke="#e8262b" stroke-width="0.9"/>
<circle cx="244.36" cy="776.27" r="1.5" fill="#e8262b"/>
<polyline points="202.60,836.20 218.26,829.71 223.48,826.71 228.70,822.72 233.92,816.23 239.14,808.24 244.36,800.25" fill="none" stroke="#1a1a1a" stroke-width="1.1"/>
<circle cx="202.60" cy="836.20" r="1.5" fill="#1a1a1a"/>
<line x1="218.26" y1="829.21" x2="218.26" y2="830.21" stroke="#1a1a1a" stroke-width="0.9"/>
<line x1="216.76" y1="829.21" x2="219.76" y2="829.21" stroke="#1a1a1a" stroke-width="0.9"/>
<line x1="216.76" y1="830.21" x2="219.76" y2="830.21" stroke="#1a1a1a" stroke-width="0.9"/>
<circle cx="218.26" cy="829.71" r="1.5" fill="#1a1a1a"/>
<line x1="223.48" y1="826.11" x2="223.48" y2="827.31" stroke="#1a1a1a" stroke-width="0.9"/>
<line x1="221.98" y1="826.11" x2="224.98" y2="826.11" stroke="#1a1a1a" stroke-width="0.9"/>
<line x1="221.98" y1="827.31" x2="224.98" y2="827.31" stroke="#1a1a1a" stroke-width="0.9"/>
<circle cx="223.48" cy="826.71" r="1.5" fill="#1a1a1a"/>
<line x1="228.70" y1="821.92" x2="228.70" y2="823.52" stroke="#1a1a1a" stroke-width="0.9"/>
<line x1="227.20" y1="821.92" x2="230.20" y2="821.92" stroke="#1a1a1a" stroke-width="0.9"/>
<line x1="227.20" y1="823.52" x2="230.20" y2="823.52" stroke="#1a1a1a" stroke-width="0.9"/>
<circle cx="228.70" cy="822.72" r="1.5" fill="#1a1a1a"/>
<line x1="233.92" y1="815.23" x2="233.92" y2="817.22" stroke="#1a1a1a" stroke-width="0.9"/>
<line x1="232.42" y1="815.23" x2="235.42" y2="815.23" stroke="#1a1a1a" stroke-width="0.9"/>
<line x1="232.42" y1="817.22" x2="235.42" y2="817.22" stroke="#1a1a1a" stroke-width="0.9"/>
<circle cx="233.92" cy="816.23" r="1.5" fill="#1a1a1a"/>
<line x1="239.14" y1="806.74" x2="239.14" y2="809.73" stroke="#1a1a1a" stroke-width="0.9"/>
<line x1="237.64" y1="806.74" x2="240.64" y2="806.74" stroke="#1a1a1a" stroke-width="0.9"/>
<line x1="237.64" y1="809.73" x2="240.64" y2="809.73" stroke="#1a1a1a" stroke-width="0.9"/>
<circle cx="239.14" cy="808.24" r="1.5" fill="#1a1a1a"/>
<line x1="244.36" y1="798.25" x2="244.36" y2="802.24" stroke="#1a1a1a" stroke-width="0.9"/>
<line x1="242.86" y1="798.25" x2="245.86" y2="798.25" stroke="#1a1a1a" stroke-width="0.9"/>
<line x1="242.86" y1="802.24" x2="245.86" y2="802.24" stroke="#1a1a1a" stroke-width="0.9"/>
<circle cx="244.36" cy="800.25" r="1.5" fill="#1a1a1a"/>
<line x1="322.50" y1="756.10" x2="322.50" y2="835.80" stroke="#333" stroke-width="1.3"/>
<line x1="322.00" y1="835.80" x2="376.00" y2="835.80" stroke="#333" stroke-width="1.3"/>
<line x1="319.90" y1="835.80" x2="322.50" y2="835.80" stroke="#333" stroke-width="1.3"/>
<text transform="translate(319.10,838.90) scale(1,1.0)" x="0" y="0" font-size="8.6" text-anchor="end" fill="#1a1a1a" color="#1a1a1a" font-weight="normal" font-style="normal" >0.0</text>
<line x1="319.90" y1="816.00" x2="322.50" y2="816.00" stroke="#333" stroke-width="1.3"/>
<text transform="translate(319.10,819.10) scale(1,1.0)" x="0" y="0" font-size="8.6" text-anchor="end" fill="#1a1a1a" color="#1a1a1a" font-weight="normal" font-style="normal" >0.2</text>
<line x1="319.90" y1="796.20" x2="322.50" y2="796.20" stroke="#333" stroke-width="1.3"/>
<text transform="translate(319.10,799.30) scale(1,1.0)" x="0" y="0" font-size="8.6" text-anchor="end" fill="#1a1a1a" color="#1a1a1a" font-weight="normal" font-style="normal" >0.4</text>
<line x1="319.90" y1="776.40" x2="322.50" y2="776.40" stroke="#333" stroke-width="1.3"/>
<text transform="translate(319.10,779.50) scale(1,1.0)" x="0" y="0" font-size="8.6" text-anchor="end" fill="#1a1a1a" color="#1a1a1a" font-weight="normal" font-style="normal" >0.6</text>
<line x1="319.90" y1="756.60" x2="322.50" y2="756.60" stroke="#333" stroke-width="1.3"/>
<text transform="translate(319.10,759.70) scale(1,1.0)" x="0" y="0" font-size="8.6" text-anchor="end" fill="#1a1a1a" color="#1a1a1a" font-weight="normal" font-style="normal" >0.8</text>
<rect x="330.55" y="798.18" width="13.90" height="37.62" fill="none" stroke="#1a1a1a" stroke-width="1.1"/>
<line x1="337.50" y1="798.18" x2="337.50" y2="795.71" stroke="#1a1a1a" stroke-width="1.1"/>
<line x1="335.00" y1="795.71" x2="340.00" y2="795.71" stroke="#1a1a1a" stroke-width="1.1"/>
<circle cx="337.50" cy="786.30" r="1.3" fill="#1a1a1a"/>
<circle cx="337.50" cy="791.25" r="1.3" fill="#1a1a1a"/>
<circle cx="334.50" cy="795.21" r="1.3" fill="#1a1a1a"/>
<circle cx="340.50" cy="796.20" r="1.3" fill="#1a1a1a"/>
<circle cx="337.50" cy="799.17" r="1.3" fill="#1a1a1a"/>
<circle cx="333.50" cy="801.15" r="1.3" fill="#1a1a1a"/>
<circle cx="341.50" cy="806.10" r="1.3" fill="#1a1a1a"/>
<circle cx="337.50" cy="808.08" r="1.3" fill="#1a1a1a"/>
<rect x="352.95" y="785.31" width="14.10" height="50.49" fill="none" stroke="#f0553c" stroke-width="1.1"/>
<line x1="360.00" y1="785.31" x2="360.00" y2="782.34" stroke="#f0553c" stroke-width="1.1"/>
<line x1="357.50" y1="782.34" x2="362.50" y2="782.34" stroke="#f0553c" stroke-width="1.1"/>
<rect x="358.85" y="763.37" width="2.3" height="2.3" fill="#e8262b"/>
<rect x="358.85" y="780.20" width="2.3" height="2.3" fill="#e8262b"/>
<rect x="354.85" y="782.18" width="2.3" height="2.3" fill="#e8262b"/>
<rect x="362.85" y="783.17" width="2.3" height="2.3" fill="#e8262b"/>
<rect x="358.85" y="786.14" width="2.3" height="2.3" fill="#e8262b"/>
<rect x="358.85" y="789.11" width="2.3" height="2.3" fill="#e8262b"/>
<rect x="354.85" y="795.05" width="2.3" height="2.3" fill="#e8262b"/>
<rect x="362.85" y="794.06" width="2.3" height="2.3" fill="#e8262b"/>
<line x1="337.50" y1="835.80" x2="337.50" y2="839.00" stroke="#1a1a1a" stroke-width="1"/>
<line x1="360.00" y1="835.80" x2="360.00" y2="839.00" stroke="#1a1a1a" stroke-width="1"/>
<polygon points="346.25,749.25 347.36,750.87 349.25,751.43 348.05,752.98 348.10,754.95 346.25,754.29 344.40,754.95 344.45,752.98 343.25,751.43 345.14,750.87" fill="#1a1a1a"/>
<polygon points="351.75,749.25 352.86,750.87 354.75,751.43 353.55,752.98 353.60,754.95 351.75,754.29 349.90,754.95 349.95,752.98 348.75,751.43 350.64,750.87" fill="#1a1a1a"/>
<line x1="337.00" y1="757.00" x2="361.00" y2="757.00" stroke="#1a1a1a" stroke-width="1"/>
<text transform="translate(339.00,739.24) scale(1,1.0)" x="0" y="0" font-size="9" text-anchor="start" fill="#1a1a1a" color="#1a1a1a" font-weight="normal" font-style="normal" >MC38</text>
<text transform="translate(299.50,794.50) rotate(-90) scale(1,1.0)" x="0" y="3.20" font-size="8.9" text-anchor="middle" fill="#1a1a1a" color="#1a1a1a" font-style="normal">Tumor weight (g)</text>
<text transform="translate(340.30,845.20) rotate(-45) scale(1,1.0)" x="0" y="0" font-size="8.5" text-anchor="end" fill="#1a1a1a" color="#1a1a1a">WT CD4-<tspan font-style="italic">Rag</tspan><tspan font-size="64%" baseline-shift="44%">-/-</tspan></text>
<text transform="translate(363.30,845.20) rotate(-45) scale(1,1.0)" x="0" y="0" font-size="8.5" text-anchor="end" fill="#1a1a1a" color="#1a1a1a"><tspan font-style="italic">Gsdmd</tspan><tspan font-size="64%" baseline-shift="44%">-/-</tspan> CD4-<tspan font-style="italic">Rag</tspan><tspan font-size="64%" baseline-shift="44%">-/-</tspan></text>
<text x="500.00" y="735.22" font-size="14" font-weight="bold" fill="#000">M</text>
<circle cx="530.10" cy="734.80" r="1.3" fill="#1a1a1a"/>
<rect x="528.95" y="743.95" width="2.3" height="2.3" fill="#e8262b"/>
<text transform="translate(539.40,737.90) scale(1,1.0)" x="0" y="0" font-size="8.6" text-anchor="start" fill="#1a1a1a" color="#1a1a1a" font-weight="normal" font-style="normal" >WT CD4-<tspan font-style="italic">Rag</tspan><tspan font-size="64%" baseline-shift="44%">-/-</tspan></text>
<text transform="translate(539.40,748.20) scale(1,1.0)" x="0" y="0" font-size="8.6" text-anchor="start" fill="#e8262b" color="#e8262b" font-weight="normal" font-style="normal" ><tspan font-style="italic">Gsdmd</tspan><tspan font-size="64%" baseline-shift="44%">-/-</tspan> CD4-<tspan font-style="italic">Rag</tspan><tspan font-size="64%" baseline-shift="44%">-/-</tspan></text>
<line x1="528.60" y1="755.50" x2="528.60" y2="835.80" stroke="#333" stroke-width="1.3"/>
<line x1="528.10" y1="835.80" x2="607.70" y2="835.80" stroke="#333" stroke-width="1.3"/>
<line x1="526.00" y1="835.80" x2="528.60" y2="835.80" stroke="#333" stroke-width="1.3"/>
<text transform="translate(525.20,838.90) scale(1,1.0)" x="0" y="0" font-size="8.6" text-anchor="end" fill="#1a1a1a" color="#1a1a1a" font-weight="normal" font-style="normal" >0</text>
<line x1="526.00" y1="819.84" x2="528.60" y2="819.84" stroke="#333" stroke-width="1.3"/>
<text transform="translate(525.20,822.94) scale(1,1.0)" x="0" y="0" font-size="8.6" text-anchor="end" fill="#1a1a1a" color="#1a1a1a" font-weight="normal" font-style="normal" >10</text>
<line x1="526.00" y1="803.88" x2="528.60" y2="803.88" stroke="#333" stroke-width="1.3"/>
<text transform="translate(525.20,806.98) scale(1,1.0)" x="0" y="0" font-size="8.6" text-anchor="end" fill="#1a1a1a" color="#1a1a1a" font-weight="normal" font-style="normal" >20</text>
<line x1="526.00" y1="787.92" x2="528.60" y2="787.92" stroke="#333" stroke-width="1.3"/>
<text transform="translate(525.20,791.02) scale(1,1.0)" x="0" y="0" font-size="8.6" text-anchor="end" fill="#1a1a1a" color="#1a1a1a" font-weight="normal" font-style="normal" >30</text>
<line x1="526.00" y1="771.96" x2="528.60" y2="771.96" stroke="#333" stroke-width="1.3"/>
<text transform="translate(525.20,775.06) scale(1,1.0)" x="0" y="0" font-size="8.6" text-anchor="end" fill="#1a1a1a" color="#1a1a1a" font-weight="normal" font-style="normal" >40</text>
<line x1="526.00" y1="756.00" x2="528.60" y2="756.00" stroke="#333" stroke-width="1.3"/>
<text transform="translate(525.20,759.10) scale(1,1.0)" x="0" y="0" font-size="8.6" text-anchor="end" fill="#1a1a1a" color="#1a1a1a" font-weight="normal" font-style="normal" >50</text>
<rect x="532.75" y="791.11" width="5.70" height="44.69" fill="none" stroke="#1a1a1a" stroke-width="1.1"/>
<line x1="535.60" y1="791.11" x2="535.60" y2="787.54" stroke="#1a1a1a" stroke-width="1.1"/>
<line x1="533.10" y1="787.54" x2="538.10" y2="787.54" stroke="#1a1a1a" stroke-width="1.1"/>
<circle cx="534.69" cy="806.47" r="1.3" fill="#1a1a1a"/>
<circle cx="533.63" cy="796.47" r="1.3" fill="#1a1a1a"/>
<circle cx="534.85" cy="805.97" r="1.3" fill="#1a1a1a"/>
<circle cx="533.62" cy="784.69" r="1.3" fill="#1a1a1a"/>
<circle cx="534.20" cy="798.33" r="1.3" fill="#1a1a1a"/>
<circle cx="536.49" cy="793.62" r="1.3" fill="#1a1a1a"/>
<circle cx="534.63" cy="776.88" r="1.3" fill="#1a1a1a"/>
<circle cx="535.11" cy="791.93" r="1.3" fill="#1a1a1a"/>
<rect x="542.45" y="815.85" width="6.70" height="19.95" fill="none" stroke="#f0553c" stroke-width="1.1"/>
<line x1="545.80" y1="815.85" x2="545.80" y2="814.25" stroke="#f0553c" stroke-width="1.1"/>
<line x1="543.30" y1="814.25" x2="548.30" y2="814.25" stroke="#f0553c" stroke-width="1.1"/>
<rect x="543.78" y="810.62" width="2.3" height="2.3" fill="#e8262b"/>
<rect x="545.57" y="807.58" width="2.3" height="2.3" fill="#e8262b"/>
<rect x="545.66" y="818.31" width="2.3" height="2.3" fill="#e8262b"/>
<rect x="543.39" y="806.00" width="2.3" height="2.3" fill="#e8262b"/>
<rect x="546.64" y="812.80" width="2.3" height="2.3" fill="#e8262b"/>
<rect x="544.68" y="819.13" width="2.3" height="2.3" fill="#e8262b"/>
<rect x="544.58" y="821.60" width="2.3" height="2.3" fill="#e8262b"/>
<rect x="543.77" y="808.18" width="2.3" height="2.3" fill="#e8262b"/>
<rect x="560.15" y="810.26" width="5.90" height="25.54" fill="none" stroke="#1a1a1a" stroke-width="1.1"/>
<line x1="563.10" y1="810.26" x2="563.10" y2="808.22" stroke="#1a1a1a" stroke-width="1.1"/>
<line x1="560.60" y1="808.22" x2="565.60" y2="808.22" stroke="#1a1a1a" stroke-width="1.1"/>
<circle cx="560.76" cy="818.48" r="1.3" fill="#1a1a1a"/>
<circle cx="564.39" cy="818.55" r="1.3" fill="#1a1a1a"/>
<circle cx="561.49" cy="801.16" r="1.3" fill="#1a1a1a"/>
<circle cx="561.15" cy="810.79" r="1.3" fill="#1a1a1a"/>
<circle cx="565.20" cy="805.69" r="1.3" fill="#1a1a1a"/>
<circle cx="563.97" cy="815.29" r="1.3" fill="#1a1a1a"/>
<circle cx="561.12" cy="815.19" r="1.3" fill="#1a1a1a"/>
<circle cx="562.50" cy="809.05" r="1.3" fill="#1a1a1a"/>
<rect x="570.45" y="821.44" width="6.50" height="14.36" fill="none" stroke="#f0553c" stroke-width="1.1"/>
<line x1="573.70" y1="821.44" x2="573.70" y2="820.29" stroke="#f0553c" stroke-width="1.1"/>
<line x1="571.20" y1="820.29" x2="576.20" y2="820.29" stroke="#f0553c" stroke-width="1.1"/>
<rect x="574.97" y="819.11" width="2.3" height="2.3" fill="#e8262b"/>
<rect x="573.26" y="822.19" width="2.3" height="2.3" fill="#e8262b"/>
<rect x="570.08" y="819.18" width="2.3" height="2.3" fill="#e8262b"/>
<rect x="573.15" y="821.73" width="2.3" height="2.3" fill="#e8262b"/>
<rect x="570.98" y="820.89" width="2.3" height="2.3" fill="#e8262b"/>
<rect x="570.61" y="820.15" width="2.3" height="2.3" fill="#e8262b"/>
<rect x="569.99" y="817.94" width="2.3" height="2.3" fill="#e8262b"/>
<rect x="575.12" y="820.78" width="2.3" height="2.3" fill="#e8262b"/>
<rect x="588.35" y="821.44" width="5.70" height="14.36" fill="none" stroke="#1a1a1a" stroke-width="1.1"/>
<line x1="591.20" y1="821.44" x2="591.20" y2="820.29" stroke="#1a1a1a" stroke-width="1.1"/>
<line x1="588.70" y1="820.29" x2="593.70" y2="820.29" stroke="#1a1a1a" stroke-width="1.1"/>
<circle cx="593.05" cy="813.94" r="1.3" fill="#1a1a1a"/>
<circle cx="589.95" cy="824.93" r="1.3" fill="#1a1a1a"/>
<circle cx="590.40" cy="821.97" r="1.3" fill="#1a1a1a"/>
<circle cx="590.10" cy="827.53" r="1.3" fill="#1a1a1a"/>
<circle cx="591.50" cy="816.61" r="1.3" fill="#1a1a1a"/>
<circle cx="588.97" cy="816.28" r="1.3" fill="#1a1a1a"/>
<circle cx="589.25" cy="819.53" r="1.3" fill="#1a1a1a"/>
<circle cx="592.47" cy="825.74" r="1.3" fill="#1a1a1a"/>
<rect x="598.05" y="830.21" width="6.30" height="5.59" fill="none" stroke="#f0553c" stroke-width="1.1"/>
<line x1="601.20" y1="830.21" x2="601.20" y2="829.77" stroke="#f0553c" stroke-width="1.1"/>
<line x1="598.70" y1="829.77" x2="603.70" y2="829.77" stroke="#f0553c" stroke-width="1.1"/>
<rect x="601.17" y="828.49" width="2.3" height="2.3" fill="#e8262b"/>
<rect x="599.81" y="826.35" width="2.3" height="2.3" fill="#e8262b"/>
<rect x="597.76" y="828.13" width="2.3" height="2.3" fill="#e8262b"/>
<rect x="599.91" y="831.43" width="2.3" height="2.3" fill="#e8262b"/>
<rect x="598.87" y="831.33" width="2.3" height="2.3" fill="#e8262b"/>
<rect x="602.45" y="827.67" width="2.3" height="2.3" fill="#e8262b"/>
<rect x="602.35" y="830.30" width="2.3" height="2.3" fill="#e8262b"/>
<rect x="599.75" y="828.96" width="2.3" height="2.3" fill="#e8262b"/>
<line x1="540.40" y1="835.80" x2="540.40" y2="839.00" stroke="#1a1a1a" stroke-width="1"/>
<text transform="translate(542.90,844.00) rotate(-45) scale(1,1.0)" x="0" y="0" font-size="9" text-anchor="end" fill="#1a1a1a" color="#1a1a1a">IFNγ<tspan font-size="64%" baseline-shift="44%">+</tspan>CD8<tspan font-size="64%" baseline-shift="44%">+</tspan></text>
<line x1="568.20" y1="835.80" x2="568.20" y2="839.00" stroke="#1a1a1a" stroke-width="1"/>
<text transform="translate(570.70,844.00) rotate(-45) scale(1,1.0)" x="0" y="0" font-size="9" text-anchor="end" fill="#1a1a1a" color="#1a1a1a">GZMB<tspan font-size="64%" baseline-shift="44%">+</tspan>CD8<tspan font-size="64%" baseline-shift="44%">+</tspan></text>
<line x1="596.50" y1="835.80" x2="596.50" y2="839.00" stroke="#1a1a1a" stroke-width="1"/>
<text transform="translate(599.00,844.00) rotate(-45) scale(1,1.0)" x="0" y="0" font-size="9" text-anchor="end" fill="#1a1a1a" color="#1a1a1a">IFNγ<tspan font-size="64%" baseline-shift="44%">+</tspan>CD4<tspan font-size="64%" baseline-shift="44%">+</tspan></text>
<polygon points="534.90,756.35 536.01,757.97 537.90,758.53 536.70,760.08 536.75,762.05 534.90,761.39 533.05,762.05 533.10,760.08 531.90,758.53 533.79,757.97" fill="#1a1a1a"/>
<polygon points="540.40,756.35 541.51,757.97 543.40,758.53 542.20,760.08 542.25,762.05 540.40,761.39 538.55,762.05 538.60,760.08 537.40,758.53 539.29,757.97" fill="#1a1a1a"/>
<polygon points="545.90,756.35 547.01,757.97 548.90,758.53 547.70,760.08 547.75,762.05 545.90,761.39 544.05,762.05 544.10,760.08 542.90,758.53 544.79,757.97" fill="#1a1a1a"/>
<line x1="536.30" y1="764.70" x2="545.60" y2="764.70" stroke="#1a1a1a" stroke-width="1"/>
<polygon points="565.45,779.05 566.56,780.67 568.45,781.23 567.25,782.78 567.30,784.75 565.45,784.09 563.60,784.75 563.65,782.78 562.45,781.23 564.34,780.67" fill="#1a1a1a"/>
<polygon points="570.95,779.05 572.06,780.67 573.95,781.23 572.75,782.78 572.80,784.75 570.95,784.09 569.10,784.75 569.15,782.78 567.95,781.23 569.84,780.67" fill="#1a1a1a"/>
<line x1="564.00" y1="787.50" x2="572.40" y2="787.50" stroke="#1a1a1a" stroke-width="1"/>
<polygon points="594.25,796.45 595.36,798.07 597.25,798.63 596.05,800.18 596.10,802.15 594.25,801.49 592.40,802.15 592.45,800.18 591.25,798.63 593.14,798.07" fill="#1a1a1a"/>
<polygon points="599.75,796.45 600.86,798.07 602.75,798.63 601.55,800.18 601.60,802.15 599.75,801.49 597.90,802.15 597.95,800.18 596.75,798.63 598.64,798.07" fill="#1a1a1a"/>
<line x1="592.80" y1="804.40" x2="601.20" y2="804.40" stroke="#1a1a1a" stroke-width="1"/>
<text transform="translate(510.20,793.00) rotate(-90) scale(1,1.0)" x="0" y="3.20" font-size="8.9" text-anchor="middle" fill="#1a1a1a" color="#1a1a1a" font-style="normal">% of CD8/CD4<tspan font-size="64%" baseline-shift="44%">+</tspan> T cells</text>
</svg></body></html>
